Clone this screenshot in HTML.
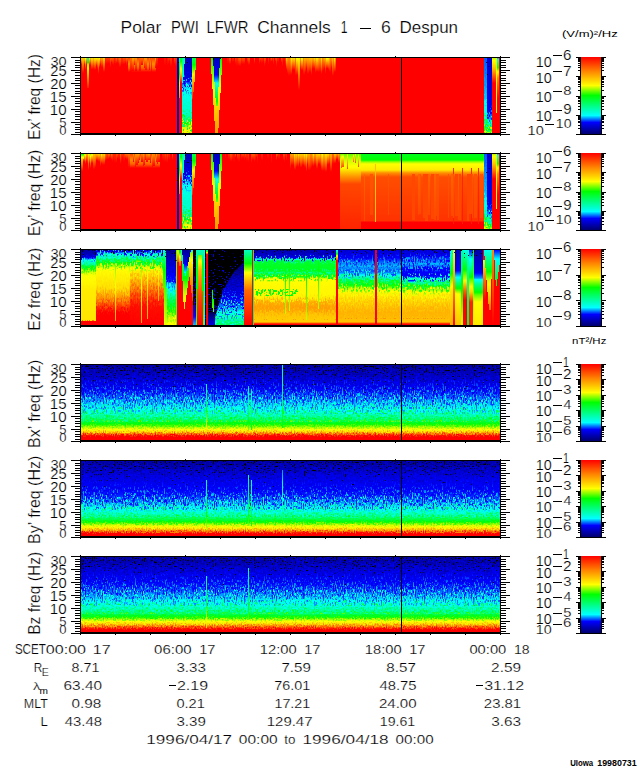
<!DOCTYPE html>
<html><head><meta charset="utf-8"><style>
html,body{margin:0;padding:0;background:#fff;}
body{width:640px;height:768px;overflow:hidden;position:relative;}
svg{position:absolute;left:0;top:0;}
text{font-family:"Liberation Sans",sans-serif;fill:#000;stroke:#fff;stroke-width:0.2px;}
</style></head><body>
<svg width="640" height="768" viewBox="0 0 640 768" shape-rendering="crispEdges">
<defs><linearGradient id="b1" x1="0" y1="0" x2="0" y2="1"><stop offset="0.000" stop-color="#ffde00"/><stop offset="0.437" stop-color="#ff8000"/><stop offset="1.000" stop-color="#ff0000"/></linearGradient>
<linearGradient id="b2" x1="0" y1="0" x2="0" y2="1"><stop offset="0.000" stop-color="#ffd000"/><stop offset="0.400" stop-color="#ff8000"/><stop offset="1.000" stop-color="#ff0000"/></linearGradient>
<linearGradient id="b3" x1="0" y1="0" x2="0" y2="1"><stop offset="0.000" stop-color="#ebff00"/><stop offset="0.026" stop-color="#ffff00"/><stop offset="0.526" stop-color="#ff8000"/><stop offset="1.000" stop-color="#ff0000"/></linearGradient>
<linearGradient id="b4" x1="0" y1="0" x2="0" y2="1"><stop offset="0.000" stop-color="#ff9b00"/><stop offset="0.182" stop-color="#ff8000"/><stop offset="1.000" stop-color="#ff0000"/></linearGradient>
<linearGradient id="b5" x1="0" y1="0" x2="0" y2="1"><stop offset="0.000" stop-color="#ffc300"/><stop offset="0.357" stop-color="#ff8000"/><stop offset="1.000" stop-color="#ff0000"/></linearGradient>
<linearGradient id="b6" x1="0" y1="0" x2="0" y2="1"><stop offset="0.000" stop-color="#ffeb00"/><stop offset="0.471" stop-color="#ff8000"/><stop offset="1.000" stop-color="#ff0000"/></linearGradient>
<linearGradient id="b7" x1="0" y1="0" x2="0" y2="1"><stop offset="0.000" stop-color="#fff800"/><stop offset="0.500" stop-color="#ff8000"/><stop offset="1.000" stop-color="#ff0000"/></linearGradient>
<linearGradient id="b8" x1="0" y1="0" x2="0" y2="1"><stop offset="0.000" stop-color="#ffa800"/><stop offset="0.250" stop-color="#ff8000"/><stop offset="1.000" stop-color="#ff0000"/></linearGradient>
<linearGradient id="b9" x1="0" y1="0" x2="0" y2="1"><stop offset="0.000" stop-color="#ff2b00"/><stop offset="1.000" stop-color="#ff0000"/></linearGradient>
<linearGradient id="b10" x1="0" y1="0" x2="0" y2="1"><stop offset="0.000" stop-color="#ff3900"/><stop offset="1.000" stop-color="#ff0000"/></linearGradient>
<linearGradient id="b11" x1="0" y1="0" x2="0" y2="1"><stop offset="0.000" stop-color="#ff6400"/><stop offset="1.000" stop-color="#ff0000"/></linearGradient>
<linearGradient id="b12" x1="0" y1="0" x2="0" y2="1"><stop offset="0.000" stop-color="#ff7200"/><stop offset="1.000" stop-color="#ff0000"/></linearGradient>
<linearGradient id="b13" x1="0" y1="0" x2="0" y2="1"><stop offset="0.000" stop-color="#ff5500"/><stop offset="1.000" stop-color="#ff0000"/></linearGradient>
<linearGradient id="b14" x1="0" y1="0" x2="0" y2="1"><stop offset="0.000" stop-color="#ff4700"/><stop offset="1.000" stop-color="#ff0000"/></linearGradient>
<linearGradient id="g15" gradientUnits="userSpaceOnUse" x1="0" y1="58" x2="0" y2="72"><stop offset="0.0000" stop-color="#ff4700"/><stop offset="0.3429" stop-color="#ff8000"/><stop offset="0.4286" stop-color="#ff8d00"/><stop offset="0.5238" stop-color="#ff8000"/><stop offset="0.7143" stop-color="#ff6400"/><stop offset="1.0000" stop-color="#ff0000"/></linearGradient>
<linearGradient id="b16" x1="0" y1="0" x2="0" y2="1"><stop offset="0.000" stop-color="#ff8d00"/><stop offset="0.100" stop-color="#ff8000"/><stop offset="1.000" stop-color="#ff0000"/></linearGradient>
<linearGradient id="b17" x1="0" y1="0" x2="0" y2="1"><stop offset="0.000" stop-color="#ff8000"/><stop offset="1.000" stop-color="#ff0000"/></linearGradient>
<linearGradient id="b18" x1="0" y1="0" x2="0" y2="1"><stop offset="0.000" stop-color="#ff1c00"/><stop offset="1.000" stop-color="#ff0000"/></linearGradient>
<linearGradient id="b19" x1="0" y1="0" x2="0" y2="1"><stop offset="0.000" stop-color="#00ffc4"/><stop offset="0.769" stop-color="#00ff00"/><stop offset="1.000" stop-color="#76ff00"/></linearGradient>
<linearGradient id="b20" x1="0" y1="0" x2="0" y2="1"><stop offset="0.000" stop-color="#76ff00"/><stop offset="0.175" stop-color="#ffff00"/><stop offset="0.650" stop-color="#ff8000"/><stop offset="1.000" stop-color="#ff1c00"/></linearGradient>
<linearGradient id="a21" gradientUnits="userSpaceOnUse" x1="0" y1="58" x2="0" y2="133"><stop offset="0" stop-color="#000" stop-opacity="1"/><stop offset="1" stop-color="#000" stop-opacity="0"/></linearGradient>
<filter id="f22" x="0" y="0" width="1" height="1" color-interpolation-filters="sRGB"><feTurbulence type="fractalNoise" baseFrequency="0.9 0.5" numOctaves="1" seed="80" result="t"/><feColorMatrix in="t" type="matrix" values="0 0 0 0 0  0 0 0 0 0  0 0 0 0 0  1 0 0 0 0" result="n"/><feComposite in="n" in2="SourceAlpha" operator="arithmetic" k1="0" k2="40" k3="4" k4="-32" result="m"/><feFlood flood-color="#000"/><feComposite in2="m" operator="in"/></filter>
<linearGradient id="g23" gradientUnits="userSpaceOnUse" x1="0" y1="58" x2="0" y2="133"><stop offset="0.0000" stop-color="#00ff31"/><stop offset="0.0400" stop-color="#00ff00"/><stop offset="0.1440" stop-color="#ffff00"/><stop offset="0.2000" stop-color="#ffd000"/><stop offset="0.2533" stop-color="#ff8000"/><stop offset="0.3333" stop-color="#ff0000"/></linearGradient>
<linearGradient id="b24" x1="0" y1="0" x2="0" y2="1"><stop offset="0.000" stop-color="#00ffc4"/><stop offset="0.400" stop-color="#00ff00"/><stop offset="0.660" stop-color="#ffff00"/><stop offset="1.000" stop-color="#ff8d00"/></linearGradient>
<linearGradient id="g25" gradientUnits="userSpaceOnUse" x1="0" y1="58" x2="0" y2="133"><stop offset="0.0000" stop-color="#0000bb"/><stop offset="0.2667" stop-color="#0000e2"/><stop offset="0.3017" stop-color="#0000ff"/><stop offset="0.3600" stop-color="#008eff"/><stop offset="0.4222" stop-color="#00ffff"/><stop offset="0.4533" stop-color="#00ffeb"/><stop offset="0.7333" stop-color="#00ffc4"/><stop offset="0.8533" stop-color="#00ff31"/><stop offset="0.8756" stop-color="#00ff00"/><stop offset="0.9200" stop-color="#c4ff00"/><stop offset="0.9600" stop-color="#ffff00"/><stop offset="1.0000" stop-color="#ffeb00"/></linearGradient>
<linearGradient id="g26" gradientUnits="userSpaceOnUse" x1="0" y1="51" x2="0" y2="126"><stop offset="0.0000" stop-color="#0000bb"/><stop offset="0.2667" stop-color="#0000e2"/><stop offset="0.3017" stop-color="#0000ff"/><stop offset="0.3600" stop-color="#008eff"/><stop offset="0.4222" stop-color="#00ffff"/><stop offset="0.4533" stop-color="#00ffeb"/><stop offset="0.7333" stop-color="#00ffc4"/><stop offset="0.8533" stop-color="#00ff31"/><stop offset="0.8756" stop-color="#00ff00"/><stop offset="0.9200" stop-color="#c4ff00"/><stop offset="0.9600" stop-color="#ffff00"/><stop offset="1.0000" stop-color="#ffeb00"/></linearGradient>
<filter id="f27" x="0" y="0" width="1" height="1" color-interpolation-filters="sRGB"><feTurbulence type="fractalNoise" baseFrequency="0.9 0.4" numOctaves="1" seed="81" result="t"/><feColorMatrix in="t" type="matrix" values="0 0 0 0 0  0 0 0 0 0  0 0 0 0 0  40 0 0 0 -22.0205" result="m"/><feComposite in="SourceGraphic" in2="m" operator="in"/></filter>
<linearGradient id="g28" gradientUnits="userSpaceOnUse" x1="0" y1="65" x2="0" y2="140"><stop offset="0.0000" stop-color="#0000bb"/><stop offset="0.2667" stop-color="#0000e2"/><stop offset="0.3017" stop-color="#0000ff"/><stop offset="0.3600" stop-color="#008eff"/><stop offset="0.4222" stop-color="#00ffff"/><stop offset="0.4533" stop-color="#00ffeb"/><stop offset="0.7333" stop-color="#00ffc4"/><stop offset="0.8533" stop-color="#00ff31"/><stop offset="0.8756" stop-color="#00ff00"/><stop offset="0.9200" stop-color="#c4ff00"/><stop offset="0.9600" stop-color="#ffff00"/><stop offset="1.0000" stop-color="#ffeb00"/></linearGradient>
<filter id="f29" x="0" y="0" width="1" height="1" color-interpolation-filters="sRGB"><feTurbulence type="fractalNoise" baseFrequency="0.9 0.4" numOctaves="1" seed="82" result="t"/><feColorMatrix in="t" type="matrix" values="0 0 0 0 0  0 0 0 0 0  0 0 0 0 0  40 0 0 0 -22.0205" result="m"/><feComposite in="SourceGraphic" in2="m" operator="in"/></filter>
<linearGradient id="a30" gradientUnits="userSpaceOnUse" x1="0" y1="58" x2="0" y2="80"><stop offset="0" stop-color="#000" stop-opacity="1"/><stop offset="1" stop-color="#000" stop-opacity="0"/></linearGradient>
<filter id="f31" x="0" y="0" width="1" height="1" color-interpolation-filters="sRGB"><feTurbulence type="fractalNoise" baseFrequency="0.9 0.5" numOctaves="1" seed="83" result="t"/><feColorMatrix in="t" type="matrix" values="0 0 0 0 0  0 0 0 0 0  0 0 0 0 0  1 0 0 0 0" result="n"/><feComposite in="n" in2="SourceAlpha" operator="arithmetic" k1="0" k2="40" k3="6" k4="-32" result="m"/><feFlood flood-color="#000"/><feComposite in2="m" operator="in"/></filter>
<linearGradient id="g32" gradientUnits="userSpaceOnUse" x1="0" y1="58" x2="0" y2="83"><stop offset="0.0000" stop-color="#00ff93"/><stop offset="1.0000" stop-color="#00ffd8"/></linearGradient>
<linearGradient id="g33" gradientUnits="userSpaceOnUse" x1="0" y1="58" x2="0" y2="103"><stop offset="0.0000" stop-color="#00ff4e"/><stop offset="0.1524" stop-color="#00ff00"/><stop offset="0.2667" stop-color="#76ff00"/><stop offset="0.3704" stop-color="#ffff00"/><stop offset="0.6222" stop-color="#ff8d00"/><stop offset="0.6600" stop-color="#ff8000"/><stop offset="1.0000" stop-color="#ff0000"/></linearGradient>
<linearGradient id="g34" gradientUnits="userSpaceOnUse" x1="0" y1="58" x2="0" y2="133"><stop offset="0.0000" stop-color="#00ff00"/><stop offset="0.4000" stop-color="#ebff00"/><stop offset="0.4333" stop-color="#ffff00"/><stop offset="0.6667" stop-color="#ffd000"/><stop offset="1.0000" stop-color="#ff9b00"/></linearGradient>
<linearGradient id="g36" gradientUnits="userSpaceOnUse" x1="0" y1="58" x2="0" y2="106"><stop offset="0.0000" stop-color="#0000bb"/><stop offset="0.3333" stop-color="#0000f5"/><stop offset="0.3523" stop-color="#0000ff"/><stop offset="0.5227" stop-color="#00ffff"/><stop offset="0.5417" stop-color="#00fff5"/><stop offset="0.7500" stop-color="#00ff62"/><stop offset="0.9062" stop-color="#00ff00"/><stop offset="1.0000" stop-color="#76ff00"/></linearGradient>
<linearGradient id="a37" gradientUnits="userSpaceOnUse" x1="0" y1="58" x2="0" y2="73"><stop offset="0" stop-color="#000" stop-opacity="1"/><stop offset="1" stop-color="#000" stop-opacity="0"/></linearGradient>
<filter id="f38" x="0" y="0" width="1" height="1" color-interpolation-filters="sRGB"><feTurbulence type="fractalNoise" baseFrequency="0.9 0.5" numOctaves="1" seed="84" result="t"/><feColorMatrix in="t" type="matrix" values="0 0 0 0 0  0 0 0 0 0  0 0 0 0 0  1 0 0 0 0" result="n"/><feComposite in="n" in2="SourceAlpha" operator="arithmetic" k1="0" k2="40" k3="4.8" k4="-32" result="m"/><feFlood flood-color="#000"/><feComposite in2="m" operator="in"/></filter>
<linearGradient id="b39" x1="0" y1="0" x2="0" y2="1"><stop offset="0.000" stop-color="#ffb500"/><stop offset="0.308" stop-color="#ff8000"/><stop offset="1.000" stop-color="#ff0000"/></linearGradient>
<linearGradient id="g40" gradientUnits="userSpaceOnUse" x1="0" y1="58" x2="0" y2="133"><stop offset="0.0000" stop-color="#0055ff"/><stop offset="0.5333" stop-color="#00c6ff"/><stop offset="0.5933" stop-color="#00ffff"/><stop offset="0.7733" stop-color="#00ffc4"/><stop offset="0.8800" stop-color="#00ff31"/><stop offset="0.9153" stop-color="#00ff00"/><stop offset="1.0000" stop-color="#ebff00"/></linearGradient>
<linearGradient id="g41" gradientUnits="userSpaceOnUse" x1="0" y1="53" x2="0" y2="128"><stop offset="0.0000" stop-color="#0055ff"/><stop offset="0.5333" stop-color="#00c6ff"/><stop offset="0.5933" stop-color="#00ffff"/><stop offset="0.7733" stop-color="#00ffc4"/><stop offset="0.8800" stop-color="#00ff31"/><stop offset="0.9153" stop-color="#00ff00"/><stop offset="1.0000" stop-color="#ebff00"/></linearGradient>
<filter id="f42" x="0" y="0" width="1" height="1" color-interpolation-filters="sRGB"><feTurbulence type="fractalNoise" baseFrequency="0.9 0.4" numOctaves="1" seed="60" result="t"/><feColorMatrix in="t" type="matrix" values="0 0 0 0 0  0 0 0 0 0  0 0 0 0 0  40 0 0 0 -22.2654" result="m"/><feComposite in="SourceGraphic" in2="m" operator="in"/></filter>
<linearGradient id="g43" gradientUnits="userSpaceOnUse" x1="0" y1="63" x2="0" y2="138"><stop offset="0.0000" stop-color="#0055ff"/><stop offset="0.5333" stop-color="#00c6ff"/><stop offset="0.5933" stop-color="#00ffff"/><stop offset="0.7733" stop-color="#00ffc4"/><stop offset="0.8800" stop-color="#00ff31"/><stop offset="0.9153" stop-color="#00ff00"/><stop offset="1.0000" stop-color="#ebff00"/></linearGradient>
<filter id="f44" x="0" y="0" width="1" height="1" color-interpolation-filters="sRGB"><feTurbulence type="fractalNoise" baseFrequency="0.9 0.4" numOctaves="1" seed="61" result="t"/><feColorMatrix in="t" type="matrix" values="0 0 0 0 0  0 0 0 0 0  0 0 0 0 0  40 0 0 0 -22.2654" result="m"/><feComposite in="SourceGraphic" in2="m" operator="in"/></filter>
<linearGradient id="g45" gradientUnits="userSpaceOnUse" x1="0" y1="58" x2="0" y2="133"><stop offset="0.0000" stop-color="#0000cf"/><stop offset="0.6667" stop-color="#0000ec"/><stop offset="0.7022" stop-color="#0000ff"/><stop offset="0.8267" stop-color="#00c6ff"/><stop offset="0.8359" stop-color="#00ffff"/><stop offset="0.9333" stop-color="#00ff31"/><stop offset="0.9556" stop-color="#00ff00"/><stop offset="1.0000" stop-color="#c4ff00"/></linearGradient>
<linearGradient id="g46" gradientUnits="userSpaceOnUse" x1="0" y1="52" x2="0" y2="127"><stop offset="0.0000" stop-color="#0000cf"/><stop offset="0.6667" stop-color="#0000ec"/><stop offset="0.7022" stop-color="#0000ff"/><stop offset="0.8267" stop-color="#00c6ff"/><stop offset="0.8359" stop-color="#00ffff"/><stop offset="0.9333" stop-color="#00ff31"/><stop offset="0.9556" stop-color="#00ff00"/><stop offset="1.0000" stop-color="#c4ff00"/></linearGradient>
<filter id="f47" x="0" y="0" width="1" height="1" color-interpolation-filters="sRGB"><feTurbulence type="fractalNoise" baseFrequency="0.9 0.4" numOctaves="1" seed="62" result="t"/><feColorMatrix in="t" type="matrix" values="0 0 0 0 0  0 0 0 0 0  0 0 0 0 0  40 0 0 0 -22.2654" result="m"/><feComposite in="SourceGraphic" in2="m" operator="in"/></filter>
<linearGradient id="g48" gradientUnits="userSpaceOnUse" x1="0" y1="64" x2="0" y2="139"><stop offset="0.0000" stop-color="#0000cf"/><stop offset="0.6667" stop-color="#0000ec"/><stop offset="0.7022" stop-color="#0000ff"/><stop offset="0.8267" stop-color="#00c6ff"/><stop offset="0.8359" stop-color="#00ffff"/><stop offset="0.9333" stop-color="#00ff31"/><stop offset="0.9556" stop-color="#00ff00"/><stop offset="1.0000" stop-color="#c4ff00"/></linearGradient>
<filter id="f49" x="0" y="0" width="1" height="1" color-interpolation-filters="sRGB"><feTurbulence type="fractalNoise" baseFrequency="0.9 0.4" numOctaves="1" seed="63" result="t"/><feColorMatrix in="t" type="matrix" values="0 0 0 0 0  0 0 0 0 0  0 0 0 0 0  40 0 0 0 -22.2654" result="m"/><feComposite in="SourceGraphic" in2="m" operator="in"/></filter>
<linearGradient id="a50" gradientUnits="userSpaceOnUse" x1="0" y1="58" x2="0" y2="133"><stop offset="0" stop-color="#000" stop-opacity="1"/><stop offset="1" stop-color="#000" stop-opacity="0"/></linearGradient>
<filter id="f51" x="0" y="0" width="1" height="1" color-interpolation-filters="sRGB"><feTurbulence type="fractalNoise" baseFrequency="0.9 0.5" numOctaves="1" seed="64" result="t"/><feColorMatrix in="t" type="matrix" values="0 0 0 0 0  0 0 0 0 0  0 0 0 0 0  1 0 0 0 0" result="n"/><feComposite in="n" in2="SourceAlpha" operator="arithmetic" k1="0" k2="40" k3="4" k4="-32" result="m"/><feFlood flood-color="#000"/><feComposite in2="m" operator="in"/></filter>
<linearGradient id="g52" gradientUnits="userSpaceOnUse" x1="0" y1="58" x2="0" y2="133"><stop offset="0.0000" stop-color="#c4ff00"/><stop offset="0.0333" stop-color="#ffff00"/><stop offset="0.1333" stop-color="#ffc300"/><stop offset="0.2048" stop-color="#ff8000"/><stop offset="0.3333" stop-color="#ff0000"/></linearGradient>
<linearGradient id="g53" gradientUnits="userSpaceOnUse" x1="0" y1="58" x2="0" y2="133"><stop offset="0.0000" stop-color="#008eff"/><stop offset="0.0171" stop-color="#00ffff"/><stop offset="0.1067" stop-color="#00ff31"/><stop offset="0.1295" stop-color="#00ff00"/><stop offset="0.1890" stop-color="#ffff00"/><stop offset="0.2667" stop-color="#ff8d00"/><stop offset="0.2933" stop-color="#ff8000"/><stop offset="0.5333" stop-color="#ff0000"/></linearGradient>
<linearGradient id="b54" x1="0" y1="0" x2="0" y2="1"><stop offset="0.000" stop-color="#c4ff00"/><stop offset="0.075" stop-color="#ffff00"/><stop offset="0.550" stop-color="#ff8000"/><stop offset="1.000" stop-color="#ff0000"/></linearGradient>
<linearGradient id="b55" x1="0" y1="0" x2="0" y2="1"><stop offset="0.000" stop-color="#9dff00"/><stop offset="0.119" stop-color="#ffff00"/><stop offset="0.571" stop-color="#ff8000"/><stop offset="1.000" stop-color="#ff0000"/></linearGradient>
<linearGradient id="b56" x1="0" y1="0" x2="0" y2="1"><stop offset="0.000" stop-color="#76ff00"/><stop offset="0.159" stop-color="#ffff00"/><stop offset="0.591" stop-color="#ff8000"/><stop offset="1.000" stop-color="#ff0000"/></linearGradient>
<linearGradient id="b57" x1="0" y1="0" x2="0" y2="1"><stop offset="0.000" stop-color="#00ff00"/><stop offset="0.650" stop-color="#ffff00"/><stop offset="1.000" stop-color="#ffd000"/></linearGradient>
<linearGradient id="g58" gradientUnits="userSpaceOnUse" x1="0" y1="154" x2="0" y2="168"><stop offset="0.0000" stop-color="#ff4700"/><stop offset="0.3429" stop-color="#ff8000"/><stop offset="0.4286" stop-color="#ff8d00"/><stop offset="0.5238" stop-color="#ff8000"/><stop offset="0.7143" stop-color="#ff6400"/><stop offset="1.0000" stop-color="#ff0000"/></linearGradient>
<linearGradient id="a59" gradientUnits="userSpaceOnUse" x1="0" y1="154" x2="0" y2="229"><stop offset="0" stop-color="#000" stop-opacity="1"/><stop offset="1" stop-color="#000" stop-opacity="0"/></linearGradient>
<filter id="f60" x="0" y="0" width="1" height="1" color-interpolation-filters="sRGB"><feTurbulence type="fractalNoise" baseFrequency="0.9 0.5" numOctaves="1" seed="90" result="t"/><feColorMatrix in="t" type="matrix" values="0 0 0 0 0  0 0 0 0 0  0 0 0 0 0  1 0 0 0 0" result="n"/><feComposite in="n" in2="SourceAlpha" operator="arithmetic" k1="0" k2="40" k3="4" k4="-32" result="m"/><feFlood flood-color="#000"/><feComposite in2="m" operator="in"/></filter>
<linearGradient id="g61" gradientUnits="userSpaceOnUse" x1="0" y1="154" x2="0" y2="229"><stop offset="0.0000" stop-color="#00ff31"/><stop offset="0.0400" stop-color="#00ff00"/><stop offset="0.1440" stop-color="#ffff00"/><stop offset="0.2000" stop-color="#ffd000"/><stop offset="0.2533" stop-color="#ff8000"/><stop offset="0.3333" stop-color="#ff0000"/></linearGradient>
<linearGradient id="g62" gradientUnits="userSpaceOnUse" x1="0" y1="154" x2="0" y2="229"><stop offset="0.0000" stop-color="#0000bb"/><stop offset="0.2667" stop-color="#0000e2"/><stop offset="0.3017" stop-color="#0000ff"/><stop offset="0.3600" stop-color="#008eff"/><stop offset="0.4222" stop-color="#00ffff"/><stop offset="0.4533" stop-color="#00ffeb"/><stop offset="0.7333" stop-color="#00ffc4"/><stop offset="0.8533" stop-color="#00ff31"/><stop offset="0.8756" stop-color="#00ff00"/><stop offset="0.9200" stop-color="#c4ff00"/><stop offset="0.9600" stop-color="#ffff00"/><stop offset="1.0000" stop-color="#ffeb00"/></linearGradient>
<linearGradient id="g63" gradientUnits="userSpaceOnUse" x1="0" y1="147" x2="0" y2="222"><stop offset="0.0000" stop-color="#0000bb"/><stop offset="0.2667" stop-color="#0000e2"/><stop offset="0.3017" stop-color="#0000ff"/><stop offset="0.3600" stop-color="#008eff"/><stop offset="0.4222" stop-color="#00ffff"/><stop offset="0.4533" stop-color="#00ffeb"/><stop offset="0.7333" stop-color="#00ffc4"/><stop offset="0.8533" stop-color="#00ff31"/><stop offset="0.8756" stop-color="#00ff00"/><stop offset="0.9200" stop-color="#c4ff00"/><stop offset="0.9600" stop-color="#ffff00"/><stop offset="1.0000" stop-color="#ffeb00"/></linearGradient>
<filter id="f64" x="0" y="0" width="1" height="1" color-interpolation-filters="sRGB"><feTurbulence type="fractalNoise" baseFrequency="0.9 0.4" numOctaves="1" seed="91" result="t"/><feColorMatrix in="t" type="matrix" values="0 0 0 0 0  0 0 0 0 0  0 0 0 0 0  40 0 0 0 -22.0205" result="m"/><feComposite in="SourceGraphic" in2="m" operator="in"/></filter>
<linearGradient id="g65" gradientUnits="userSpaceOnUse" x1="0" y1="161" x2="0" y2="236"><stop offset="0.0000" stop-color="#0000bb"/><stop offset="0.2667" stop-color="#0000e2"/><stop offset="0.3017" stop-color="#0000ff"/><stop offset="0.3600" stop-color="#008eff"/><stop offset="0.4222" stop-color="#00ffff"/><stop offset="0.4533" stop-color="#00ffeb"/><stop offset="0.7333" stop-color="#00ffc4"/><stop offset="0.8533" stop-color="#00ff31"/><stop offset="0.8756" stop-color="#00ff00"/><stop offset="0.9200" stop-color="#c4ff00"/><stop offset="0.9600" stop-color="#ffff00"/><stop offset="1.0000" stop-color="#ffeb00"/></linearGradient>
<filter id="f66" x="0" y="0" width="1" height="1" color-interpolation-filters="sRGB"><feTurbulence type="fractalNoise" baseFrequency="0.9 0.4" numOctaves="1" seed="92" result="t"/><feColorMatrix in="t" type="matrix" values="0 0 0 0 0  0 0 0 0 0  0 0 0 0 0  40 0 0 0 -22.0205" result="m"/><feComposite in="SourceGraphic" in2="m" operator="in"/></filter>
<linearGradient id="a67" gradientUnits="userSpaceOnUse" x1="0" y1="154" x2="0" y2="176"><stop offset="0" stop-color="#000" stop-opacity="1"/><stop offset="1" stop-color="#000" stop-opacity="0"/></linearGradient>
<filter id="f68" x="0" y="0" width="1" height="1" color-interpolation-filters="sRGB"><feTurbulence type="fractalNoise" baseFrequency="0.9 0.5" numOctaves="1" seed="93" result="t"/><feColorMatrix in="t" type="matrix" values="0 0 0 0 0  0 0 0 0 0  0 0 0 0 0  1 0 0 0 0" result="n"/><feComposite in="n" in2="SourceAlpha" operator="arithmetic" k1="0" k2="40" k3="6" k4="-32" result="m"/><feFlood flood-color="#000"/><feComposite in2="m" operator="in"/></filter>
<linearGradient id="g69" gradientUnits="userSpaceOnUse" x1="0" y1="154" x2="0" y2="179"><stop offset="0.0000" stop-color="#00ff93"/><stop offset="1.0000" stop-color="#00ffd8"/></linearGradient>
<linearGradient id="g70" gradientUnits="userSpaceOnUse" x1="0" y1="154" x2="0" y2="199"><stop offset="0.0000" stop-color="#00ff4e"/><stop offset="0.1524" stop-color="#00ff00"/><stop offset="0.2667" stop-color="#76ff00"/><stop offset="0.3704" stop-color="#ffff00"/><stop offset="0.6222" stop-color="#ff8d00"/><stop offset="0.6600" stop-color="#ff8000"/><stop offset="1.0000" stop-color="#ff0000"/></linearGradient>
<linearGradient id="g71" gradientUnits="userSpaceOnUse" x1="0" y1="154" x2="0" y2="229"><stop offset="0.0000" stop-color="#00ff00"/><stop offset="0.4000" stop-color="#ebff00"/><stop offset="0.4333" stop-color="#ffff00"/><stop offset="0.6667" stop-color="#ffd000"/><stop offset="1.0000" stop-color="#ff9b00"/></linearGradient>
<linearGradient id="g73" gradientUnits="userSpaceOnUse" x1="0" y1="154" x2="0" y2="202"><stop offset="0.0000" stop-color="#0000bb"/><stop offset="0.3333" stop-color="#0000f5"/><stop offset="0.3523" stop-color="#0000ff"/><stop offset="0.5227" stop-color="#00ffff"/><stop offset="0.5417" stop-color="#00fff5"/><stop offset="0.7500" stop-color="#00ff62"/><stop offset="0.9062" stop-color="#00ff00"/><stop offset="1.0000" stop-color="#76ff00"/></linearGradient>
<linearGradient id="a74" gradientUnits="userSpaceOnUse" x1="0" y1="154" x2="0" y2="169"><stop offset="0" stop-color="#000" stop-opacity="1"/><stop offset="1" stop-color="#000" stop-opacity="0"/></linearGradient>
<filter id="f75" x="0" y="0" width="1" height="1" color-interpolation-filters="sRGB"><feTurbulence type="fractalNoise" baseFrequency="0.9 0.5" numOctaves="1" seed="94" result="t"/><feColorMatrix in="t" type="matrix" values="0 0 0 0 0  0 0 0 0 0  0 0 0 0 0  1 0 0 0 0" result="n"/><feComposite in="n" in2="SourceAlpha" operator="arithmetic" k1="0" k2="40" k3="4.8" k4="-32" result="m"/><feFlood flood-color="#000"/><feComposite in2="m" operator="in"/></filter>
<linearGradient id="g76" gradientUnits="userSpaceOnUse" x1="0" y1="154" x2="0" y2="229"><stop offset="0.0000" stop-color="#62ff00"/><stop offset="0.0800" stop-color="#c4ff00"/><stop offset="0.1600" stop-color="#ffff00"/><stop offset="0.1867" stop-color="#fff800"/><stop offset="0.2933" stop-color="#ff9b00"/><stop offset="0.3289" stop-color="#ff8000"/><stop offset="0.4000" stop-color="#ff4700"/><stop offset="1.0000" stop-color="#ff2400"/></linearGradient>
<linearGradient id="b77" x1="0" y1="0" x2="0" y2="1"><stop offset="0.000" stop-color="#76ff00"/><stop offset="0.206" stop-color="#ffff00"/><stop offset="0.765" stop-color="#ff8000"/><stop offset="1.000" stop-color="#ff4700"/></linearGradient>
<linearGradient id="b78" x1="0" y1="0" x2="0" y2="1"><stop offset="0.000" stop-color="#c4ff00"/><stop offset="0.100" stop-color="#ffff00"/><stop offset="0.733" stop-color="#ff8000"/><stop offset="1.000" stop-color="#ff4700"/></linearGradient>
<linearGradient id="b79" x1="0" y1="0" x2="0" y2="1"><stop offset="0.000" stop-color="#ebff00"/><stop offset="0.036" stop-color="#ffff00"/><stop offset="0.714" stop-color="#ff8000"/><stop offset="1.000" stop-color="#ff4700"/></linearGradient>
<linearGradient id="b80" x1="0" y1="0" x2="0" y2="1"><stop offset="0.000" stop-color="#9dff00"/><stop offset="0.156" stop-color="#ffff00"/><stop offset="0.750" stop-color="#ff8000"/><stop offset="1.000" stop-color="#ff4700"/></linearGradient>
<linearGradient id="g81" gradientUnits="userSpaceOnUse" x1="0" y1="154" x2="0" y2="229"><stop offset="0.0000" stop-color="#00ff1d"/><stop offset="0.0800" stop-color="#00ff00"/><stop offset="0.1067" stop-color="#9dff00"/><stop offset="0.1333" stop-color="#ffff00"/><stop offset="0.2133" stop-color="#ffeb00"/><stop offset="0.2533" stop-color="#ff8d00"/><stop offset="0.2652" stop-color="#ff8000"/><stop offset="0.3067" stop-color="#ff4e00"/><stop offset="0.6000" stop-color="#ff4000"/><stop offset="0.8933" stop-color="#ff3200"/><stop offset="0.9067" stop-color="#ff0000"/></linearGradient>
<linearGradient id="b82" x1="0" y1="0" x2="0" y2="1"><stop offset="0.000" stop-color="#ff2b00"/><stop offset="1.000" stop-color="#ff1c00"/></linearGradient>
<linearGradient id="b83" x1="0" y1="0" x2="0" y2="1"><stop offset="0.000" stop-color="#ff6400"/><stop offset="1.000" stop-color="#ff4700"/></linearGradient>
<linearGradient id="b84" x1="0" y1="0" x2="0" y2="1"><stop offset="0.000" stop-color="#ff5500"/><stop offset="1.000" stop-color="#ff4700"/></linearGradient>
<linearGradient id="b85" x1="0" y1="0" x2="0" y2="1"><stop offset="0.000" stop-color="#ff4700"/><stop offset="1.000" stop-color="#ff4700"/></linearGradient>
<linearGradient id="g86" gradientUnits="userSpaceOnUse" x1="0" y1="154" x2="0" y2="229"><stop offset="0.0000" stop-color="#0055ff"/><stop offset="0.5333" stop-color="#00c6ff"/><stop offset="0.5933" stop-color="#00ffff"/><stop offset="0.7733" stop-color="#00ffc4"/><stop offset="0.8800" stop-color="#00ff31"/><stop offset="0.9153" stop-color="#00ff00"/><stop offset="1.0000" stop-color="#ebff00"/></linearGradient>
<linearGradient id="g87" gradientUnits="userSpaceOnUse" x1="0" y1="149" x2="0" y2="224"><stop offset="0.0000" stop-color="#0055ff"/><stop offset="0.5333" stop-color="#00c6ff"/><stop offset="0.5933" stop-color="#00ffff"/><stop offset="0.7733" stop-color="#00ffc4"/><stop offset="0.8800" stop-color="#00ff31"/><stop offset="0.9153" stop-color="#00ff00"/><stop offset="1.0000" stop-color="#ebff00"/></linearGradient>
<filter id="f88" x="0" y="0" width="1" height="1" color-interpolation-filters="sRGB"><feTurbulence type="fractalNoise" baseFrequency="0.9 0.4" numOctaves="1" seed="70" result="t"/><feColorMatrix in="t" type="matrix" values="0 0 0 0 0  0 0 0 0 0  0 0 0 0 0  40 0 0 0 -22.2654" result="m"/><feComposite in="SourceGraphic" in2="m" operator="in"/></filter>
<linearGradient id="g89" gradientUnits="userSpaceOnUse" x1="0" y1="159" x2="0" y2="234"><stop offset="0.0000" stop-color="#0055ff"/><stop offset="0.5333" stop-color="#00c6ff"/><stop offset="0.5933" stop-color="#00ffff"/><stop offset="0.7733" stop-color="#00ffc4"/><stop offset="0.8800" stop-color="#00ff31"/><stop offset="0.9153" stop-color="#00ff00"/><stop offset="1.0000" stop-color="#ebff00"/></linearGradient>
<filter id="f90" x="0" y="0" width="1" height="1" color-interpolation-filters="sRGB"><feTurbulence type="fractalNoise" baseFrequency="0.9 0.4" numOctaves="1" seed="71" result="t"/><feColorMatrix in="t" type="matrix" values="0 0 0 0 0  0 0 0 0 0  0 0 0 0 0  40 0 0 0 -22.2654" result="m"/><feComposite in="SourceGraphic" in2="m" operator="in"/></filter>
<linearGradient id="g91" gradientUnits="userSpaceOnUse" x1="0" y1="154" x2="0" y2="229"><stop offset="0.0000" stop-color="#0000cf"/><stop offset="0.6667" stop-color="#0000ec"/><stop offset="0.7022" stop-color="#0000ff"/><stop offset="0.8267" stop-color="#00c6ff"/><stop offset="0.8359" stop-color="#00ffff"/><stop offset="0.9333" stop-color="#00ff31"/><stop offset="0.9556" stop-color="#00ff00"/><stop offset="1.0000" stop-color="#c4ff00"/></linearGradient>
<linearGradient id="g92" gradientUnits="userSpaceOnUse" x1="0" y1="148" x2="0" y2="223"><stop offset="0.0000" stop-color="#0000cf"/><stop offset="0.6667" stop-color="#0000ec"/><stop offset="0.7022" stop-color="#0000ff"/><stop offset="0.8267" stop-color="#00c6ff"/><stop offset="0.8359" stop-color="#00ffff"/><stop offset="0.9333" stop-color="#00ff31"/><stop offset="0.9556" stop-color="#00ff00"/><stop offset="1.0000" stop-color="#c4ff00"/></linearGradient>
<filter id="f93" x="0" y="0" width="1" height="1" color-interpolation-filters="sRGB"><feTurbulence type="fractalNoise" baseFrequency="0.9 0.4" numOctaves="1" seed="72" result="t"/><feColorMatrix in="t" type="matrix" values="0 0 0 0 0  0 0 0 0 0  0 0 0 0 0  40 0 0 0 -22.2654" result="m"/><feComposite in="SourceGraphic" in2="m" operator="in"/></filter>
<linearGradient id="g94" gradientUnits="userSpaceOnUse" x1="0" y1="160" x2="0" y2="235"><stop offset="0.0000" stop-color="#0000cf"/><stop offset="0.6667" stop-color="#0000ec"/><stop offset="0.7022" stop-color="#0000ff"/><stop offset="0.8267" stop-color="#00c6ff"/><stop offset="0.8359" stop-color="#00ffff"/><stop offset="0.9333" stop-color="#00ff31"/><stop offset="0.9556" stop-color="#00ff00"/><stop offset="1.0000" stop-color="#c4ff00"/></linearGradient>
<filter id="f95" x="0" y="0" width="1" height="1" color-interpolation-filters="sRGB"><feTurbulence type="fractalNoise" baseFrequency="0.9 0.4" numOctaves="1" seed="73" result="t"/><feColorMatrix in="t" type="matrix" values="0 0 0 0 0  0 0 0 0 0  0 0 0 0 0  40 0 0 0 -22.2654" result="m"/><feComposite in="SourceGraphic" in2="m" operator="in"/></filter>
<linearGradient id="a96" gradientUnits="userSpaceOnUse" x1="0" y1="154" x2="0" y2="229"><stop offset="0" stop-color="#000" stop-opacity="1"/><stop offset="1" stop-color="#000" stop-opacity="0"/></linearGradient>
<filter id="f97" x="0" y="0" width="1" height="1" color-interpolation-filters="sRGB"><feTurbulence type="fractalNoise" baseFrequency="0.9 0.5" numOctaves="1" seed="74" result="t"/><feColorMatrix in="t" type="matrix" values="0 0 0 0 0  0 0 0 0 0  0 0 0 0 0  1 0 0 0 0" result="n"/><feComposite in="n" in2="SourceAlpha" operator="arithmetic" k1="0" k2="40" k3="4" k4="-32" result="m"/><feFlood flood-color="#000"/><feComposite in2="m" operator="in"/></filter>
<linearGradient id="g98" gradientUnits="userSpaceOnUse" x1="0" y1="154" x2="0" y2="229"><stop offset="0.0000" stop-color="#c4ff00"/><stop offset="0.0333" stop-color="#ffff00"/><stop offset="0.1333" stop-color="#ffc300"/><stop offset="0.2048" stop-color="#ff8000"/><stop offset="0.3333" stop-color="#ff0000"/></linearGradient>
<linearGradient id="g99" gradientUnits="userSpaceOnUse" x1="0" y1="154" x2="0" y2="229"><stop offset="0.0000" stop-color="#008eff"/><stop offset="0.0171" stop-color="#00ffff"/><stop offset="0.1067" stop-color="#00ff31"/><stop offset="0.1295" stop-color="#00ff00"/><stop offset="0.1890" stop-color="#ffff00"/><stop offset="0.2667" stop-color="#ff8d00"/><stop offset="0.2933" stop-color="#ff8000"/><stop offset="0.5333" stop-color="#ff0000"/></linearGradient>
<linearGradient id="g100" gradientUnits="userSpaceOnUse" x1="0" y1="250" x2="0" y2="321"><stop offset="0.0000" stop-color="#00009e"/><stop offset="0.0845" stop-color="#0000cf"/><stop offset="0.1056" stop-color="#0000ff"/><stop offset="0.1268" stop-color="#008eff"/><stop offset="0.1455" stop-color="#00ffff"/><stop offset="0.1831" stop-color="#00ffb1"/><stop offset="0.2535" stop-color="#00ff00"/><stop offset="0.3239" stop-color="#ebff00"/><stop offset="0.3838" stop-color="#ffff00"/><stop offset="0.5634" stop-color="#ffeb00"/><stop offset="1.0000" stop-color="#ffe400"/><stop offset="1.0000" stop-color="#ff8000"/><stop offset="1.0000" stop-color="#ff0000"/></linearGradient>
<linearGradient id="g101" gradientUnits="userSpaceOnUse" x1="0" y1="248" x2="0" y2="321"><stop offset="0.0000" stop-color="#00009e"/><stop offset="0.0822" stop-color="#0000cf"/><stop offset="0.1027" stop-color="#0000ff"/><stop offset="0.1233" stop-color="#008eff"/><stop offset="0.1416" stop-color="#00ffff"/><stop offset="0.1781" stop-color="#00ffb1"/><stop offset="0.2466" stop-color="#00ff00"/><stop offset="0.3151" stop-color="#ebff00"/><stop offset="0.3733" stop-color="#ffff00"/><stop offset="0.5479" stop-color="#ffeb00"/><stop offset="0.9863" stop-color="#ffe400"/><stop offset="0.9925" stop-color="#ff8000"/><stop offset="1.0000" stop-color="#ff0000"/></linearGradient>
<filter id="f102" x="0" y="0" width="1" height="1" color-interpolation-filters="sRGB"><feTurbulence type="fractalNoise" baseFrequency="0.9 0.35" numOctaves="1" seed="11" result="t"/><feColorMatrix in="t" type="matrix" values="0 0 0 0 0  0 0 0 0 0  0 0 0 0 0  40 0 0 0 -22.2654" result="m"/><feComposite in="SourceGraphic" in2="m" operator="in"/></filter>
<linearGradient id="g103" gradientUnits="userSpaceOnUse" x1="0" y1="252" x2="0" y2="325"><stop offset="0.0000" stop-color="#00009e"/><stop offset="0.0822" stop-color="#0000cf"/><stop offset="0.1027" stop-color="#0000ff"/><stop offset="0.1233" stop-color="#008eff"/><stop offset="0.1416" stop-color="#00ffff"/><stop offset="0.1781" stop-color="#00ffb1"/><stop offset="0.2466" stop-color="#00ff00"/><stop offset="0.3151" stop-color="#ebff00"/><stop offset="0.3733" stop-color="#ffff00"/><stop offset="0.5479" stop-color="#ffeb00"/><stop offset="0.9863" stop-color="#ffe400"/><stop offset="0.9925" stop-color="#ff8000"/><stop offset="1.0000" stop-color="#ff0000"/></linearGradient>
<filter id="f104" x="0" y="0" width="1" height="1" color-interpolation-filters="sRGB"><feTurbulence type="fractalNoise" baseFrequency="0.9 0.35" numOctaves="1" seed="12" result="t"/><feColorMatrix in="t" type="matrix" values="0 0 0 0 0  0 0 0 0 0  0 0 0 0 0  40 0 0 0 -22.2654" result="m"/><feComposite in="SourceGraphic" in2="m" operator="in"/></filter>
<linearGradient id="g105" gradientUnits="userSpaceOnUse" x1="0" y1="250" x2="0" y2="325"><stop offset="0.0000" stop-color="#0000cf"/><stop offset="0.0200" stop-color="#0000ff"/><stop offset="0.0400" stop-color="#008eff"/><stop offset="0.0560" stop-color="#00ffff"/><stop offset="0.0800" stop-color="#00ffc4"/><stop offset="0.1333" stop-color="#00ff4e"/><stop offset="0.1760" stop-color="#00ff00"/><stop offset="0.1867" stop-color="#27ff00"/><stop offset="0.2400" stop-color="#ffff00"/><stop offset="0.5067" stop-color="#ffde00"/><stop offset="0.6400" stop-color="#ff8d00"/><stop offset="0.6578" stop-color="#ff8000"/><stop offset="0.7733" stop-color="#ff2400"/><stop offset="0.8267" stop-color="#ff0000"/></linearGradient>
<linearGradient id="g106" gradientUnits="userSpaceOnUse" x1="0" y1="247" x2="0" y2="309"><stop offset="0.0000" stop-color="#0000cf"/><stop offset="0.0242" stop-color="#0000ff"/><stop offset="0.0484" stop-color="#008eff"/><stop offset="0.0677" stop-color="#00ffff"/><stop offset="0.0968" stop-color="#00ffc4"/><stop offset="0.1613" stop-color="#00ff4e"/><stop offset="0.2129" stop-color="#00ff00"/><stop offset="0.2258" stop-color="#27ff00"/><stop offset="0.2903" stop-color="#ffff00"/><stop offset="0.6129" stop-color="#ffde00"/><stop offset="0.7742" stop-color="#ff8d00"/><stop offset="0.7957" stop-color="#ff8000"/><stop offset="0.9355" stop-color="#ff2400"/><stop offset="1.0000" stop-color="#ff0000"/></linearGradient>
<filter id="f107" x="0" y="0" width="1" height="1" color-interpolation-filters="sRGB"><feTurbulence type="fractalNoise" baseFrequency="0.9 0.3" numOctaves="1" seed="13" result="t"/><feColorMatrix in="t" type="matrix" values="0 0 0 0 0  0 0 0 0 0  0 0 0 0 0  40 0 0 0 -22.2654" result="m"/><feComposite in="SourceGraphic" in2="m" operator="in"/></filter>
<linearGradient id="g108" gradientUnits="userSpaceOnUse" x1="0" y1="253" x2="0" y2="315"><stop offset="0.0000" stop-color="#0000cf"/><stop offset="0.0242" stop-color="#0000ff"/><stop offset="0.0484" stop-color="#008eff"/><stop offset="0.0677" stop-color="#00ffff"/><stop offset="0.0968" stop-color="#00ffc4"/><stop offset="0.1613" stop-color="#00ff4e"/><stop offset="0.2129" stop-color="#00ff00"/><stop offset="0.2258" stop-color="#27ff00"/><stop offset="0.2903" stop-color="#ffff00"/><stop offset="0.6129" stop-color="#ffde00"/><stop offset="0.7742" stop-color="#ff8d00"/><stop offset="0.7957" stop-color="#ff8000"/><stop offset="0.9355" stop-color="#ff2400"/><stop offset="1.0000" stop-color="#ff0000"/></linearGradient>
<filter id="f109" x="0" y="0" width="1" height="1" color-interpolation-filters="sRGB"><feTurbulence type="fractalNoise" baseFrequency="0.9 0.3" numOctaves="1" seed="14" result="t"/><feColorMatrix in="t" type="matrix" values="0 0 0 0 0  0 0 0 0 0  0 0 0 0 0  40 0 0 0 -22.2654" result="m"/><feComposite in="SourceGraphic" in2="m" operator="in"/></filter>
<linearGradient id="g110" gradientUnits="userSpaceOnUse" x1="0" y1="250" x2="0" y2="325"><stop offset="0.0000" stop-color="#0000e2"/><stop offset="0.0150" stop-color="#0000ff"/><stop offset="0.0400" stop-color="#008eff"/><stop offset="0.0560" stop-color="#00ffff"/><stop offset="0.0800" stop-color="#00ffc4"/><stop offset="0.1333" stop-color="#00ff4e"/><stop offset="0.1760" stop-color="#00ff00"/><stop offset="0.1867" stop-color="#27ff00"/><stop offset="0.2400" stop-color="#ffff00"/><stop offset="0.4000" stop-color="#ffb500"/><stop offset="0.5000" stop-color="#ff8000"/><stop offset="0.6000" stop-color="#ff4700"/><stop offset="0.7333" stop-color="#ff0e00"/><stop offset="1.0000" stop-color="#ff0000"/></linearGradient>
<linearGradient id="g111" gradientUnits="userSpaceOnUse" x1="0" y1="246" x2="0" y2="321"><stop offset="0.0000" stop-color="#0000e2"/><stop offset="0.0150" stop-color="#0000ff"/><stop offset="0.0400" stop-color="#008eff"/><stop offset="0.0560" stop-color="#00ffff"/><stop offset="0.0800" stop-color="#00ffc4"/><stop offset="0.1333" stop-color="#00ff4e"/><stop offset="0.1760" stop-color="#00ff00"/><stop offset="0.1867" stop-color="#27ff00"/><stop offset="0.2400" stop-color="#ffff00"/><stop offset="0.4000" stop-color="#ffb500"/><stop offset="0.5000" stop-color="#ff8000"/><stop offset="0.6000" stop-color="#ff4700"/><stop offset="0.7333" stop-color="#ff0e00"/><stop offset="1.0000" stop-color="#ff0000"/></linearGradient>
<filter id="f112" x="0" y="0" width="1" height="1" color-interpolation-filters="sRGB"><feTurbulence type="fractalNoise" baseFrequency="0.9 0.3" numOctaves="1" seed="15" result="t"/><feColorMatrix in="t" type="matrix" values="0 0 0 0 0  0 0 0 0 0  0 0 0 0 0  40 0 0 0 -22.2654" result="m"/><feComposite in="SourceGraphic" in2="m" operator="in"/></filter>
<linearGradient id="g113" gradientUnits="userSpaceOnUse" x1="0" y1="254" x2="0" y2="329"><stop offset="0.0000" stop-color="#0000e2"/><stop offset="0.0150" stop-color="#0000ff"/><stop offset="0.0400" stop-color="#008eff"/><stop offset="0.0560" stop-color="#00ffff"/><stop offset="0.0800" stop-color="#00ffc4"/><stop offset="0.1333" stop-color="#00ff4e"/><stop offset="0.1760" stop-color="#00ff00"/><stop offset="0.1867" stop-color="#27ff00"/><stop offset="0.2400" stop-color="#ffff00"/><stop offset="0.4000" stop-color="#ffb500"/><stop offset="0.5000" stop-color="#ff8000"/><stop offset="0.6000" stop-color="#ff4700"/><stop offset="0.7333" stop-color="#ff0e00"/><stop offset="1.0000" stop-color="#ff0000"/></linearGradient>
<filter id="f114" x="0" y="0" width="1" height="1" color-interpolation-filters="sRGB"><feTurbulence type="fractalNoise" baseFrequency="0.9 0.3" numOctaves="1" seed="16" result="t"/><feColorMatrix in="t" type="matrix" values="0 0 0 0 0  0 0 0 0 0  0 0 0 0 0  40 0 0 0 -22.2654" result="m"/><feComposite in="SourceGraphic" in2="m" operator="in"/></filter>
<linearGradient id="b115" x1="0" y1="0" x2="0" y2="1"><stop offset="0.000" stop-color="#76ff00"/><stop offset="0.350" stop-color="#ffff00"/><stop offset="1.000" stop-color="#ffa800"/></linearGradient>
<linearGradient id="b116" x1="0" y1="0" x2="0" y2="1"><stop offset="0.000" stop-color="#9dff00"/><stop offset="0.278" stop-color="#ffff00"/><stop offset="1.000" stop-color="#ffa800"/></linearGradient>
<linearGradient id="b117" x1="0" y1="0" x2="0" y2="1"><stop offset="0.000" stop-color="#c4ff00"/><stop offset="0.188" stop-color="#ffff00"/><stop offset="1.000" stop-color="#ffa800"/></linearGradient>
<linearGradient id="g118" gradientUnits="userSpaceOnUse" x1="0" y1="250" x2="0" y2="325"><stop offset="0.0000" stop-color="#000095"/><stop offset="0.1867" stop-color="#0000cf"/><stop offset="0.3644" stop-color="#0000ff"/><stop offset="0.4000" stop-color="#001cff"/><stop offset="0.5067" stop-color="#00ffff"/><stop offset="0.6400" stop-color="#00ff76"/><stop offset="0.7733" stop-color="#00ff00"/><stop offset="0.8800" stop-color="#9dff00"/><stop offset="0.9600" stop-color="#ffff00"/></linearGradient>
<linearGradient id="g119" gradientUnits="userSpaceOnUse" x1="0" y1="246" x2="0" y2="318"><stop offset="0.0000" stop-color="#000095"/><stop offset="0.1944" stop-color="#0000cf"/><stop offset="0.3796" stop-color="#0000ff"/><stop offset="0.4167" stop-color="#001cff"/><stop offset="0.5278" stop-color="#00ffff"/><stop offset="0.6667" stop-color="#00ff76"/><stop offset="0.8056" stop-color="#00ff00"/><stop offset="0.9167" stop-color="#9dff00"/><stop offset="1.0000" stop-color="#ffff00"/></linearGradient>
<filter id="f120" x="0" y="0" width="1" height="1" color-interpolation-filters="sRGB"><feTurbulence type="fractalNoise" baseFrequency="0.9 0.3" numOctaves="1" seed="17" result="t"/><feColorMatrix in="t" type="matrix" values="0 0 0 0 0  0 0 0 0 0  0 0 0 0 0  40 0 0 0 -22.2654" result="m"/><feComposite in="SourceGraphic" in2="m" operator="in"/></filter>
<linearGradient id="g121" gradientUnits="userSpaceOnUse" x1="0" y1="254" x2="0" y2="326"><stop offset="0.0000" stop-color="#000095"/><stop offset="0.1944" stop-color="#0000cf"/><stop offset="0.3796" stop-color="#0000ff"/><stop offset="0.4167" stop-color="#001cff"/><stop offset="0.5278" stop-color="#00ffff"/><stop offset="0.6667" stop-color="#00ff76"/><stop offset="0.8056" stop-color="#00ff00"/><stop offset="0.9167" stop-color="#9dff00"/><stop offset="1.0000" stop-color="#ffff00"/></linearGradient>
<filter id="f122" x="0" y="0" width="1" height="1" color-interpolation-filters="sRGB"><feTurbulence type="fractalNoise" baseFrequency="0.9 0.3" numOctaves="1" seed="18" result="t"/><feColorMatrix in="t" type="matrix" values="0 0 0 0 0  0 0 0 0 0  0 0 0 0 0  40 0 0 0 -22.2654" result="m"/><feComposite in="SourceGraphic" in2="m" operator="in"/></filter>
<linearGradient id="g123" gradientUnits="userSpaceOnUse" x1="0" y1="250" x2="0" y2="325"><stop offset="0.0000" stop-color="#00ffc4"/><stop offset="0.2667" stop-color="#00ff00"/><stop offset="1.0000" stop-color="#ebff00"/></linearGradient>
<linearGradient id="b124" x1="0" y1="0" x2="0" y2="1"><stop offset="0.000" stop-color="#00ff3b"/><stop offset="0.130" stop-color="#00ff00"/><stop offset="0.413" stop-color="#ffff00"/><stop offset="0.826" stop-color="#ff8000"/><stop offset="1.000" stop-color="#ff4700"/></linearGradient>
<linearGradient id="g125" gradientUnits="userSpaceOnUse" x1="0" y1="250" x2="0" y2="312"><stop offset="0.0000" stop-color="#00fff5"/><stop offset="0.2419" stop-color="#00ff62"/><stop offset="0.4570" stop-color="#00ff00"/><stop offset="0.5645" stop-color="#62ff00"/><stop offset="0.7968" stop-color="#ffff00"/><stop offset="1.0000" stop-color="#ffd000"/></linearGradient>
<linearGradient id="g126" gradientUnits="userSpaceOnUse" x1="0" y1="250" x2="0" y2="305"><stop offset="0.0000" stop-color="#62ff00"/><stop offset="0.1818" stop-color="#ffff00"/><stop offset="0.4545" stop-color="#ffaf00"/><stop offset="0.6455" stop-color="#ff8000"/><stop offset="1.0000" stop-color="#ff2400"/></linearGradient>
<linearGradient id="g127" gradientUnits="userSpaceOnUse" x1="0" y1="250" x2="0" y2="278"><stop offset="0.0000" stop-color="#000095"/><stop offset="0.4286" stop-color="#0000e2"/><stop offset="0.5238" stop-color="#0000ff"/><stop offset="0.8095" stop-color="#00ffff"/><stop offset="1.0000" stop-color="#00ffc4"/></linearGradient>
<linearGradient id="bsA" gradientUnits="userSpaceOnUse" x1="0" y1="250" x2="0" y2="325"><stop offset="0" stop-color="#000" stop-opacity="0.35"/><stop offset="1" stop-color="#000" stop-opacity="1"/></linearGradient>
<filter id="f129" x="0" y="0" width="1" height="1" color-interpolation-filters="sRGB"><feTurbulence type="fractalNoise" baseFrequency="0.9 0.5" numOctaves="1" seed="52" result="t"/><feColorMatrix in="t" type="matrix" values="0 0 0 0 0  0 0 0 0 0  0 0 0 0 0  1 0 0 0 0" result="n"/><feComposite in="n" in2="SourceAlpha" operator="arithmetic" k1="0" k2="40" k3="8" k4="-30" result="m"/><feFlood flood-color="#0000e0"/><feComposite in2="m" operator="in"/></filter>
<linearGradient id="g130" gradientUnits="userSpaceOnUse" x1="0" y1="305" x2="0" y2="325"><stop offset="0.0000" stop-color="#0000a8"/><stop offset="0.5625" stop-color="#0000ff"/><stop offset="1.0000" stop-color="#00c6ff"/></linearGradient>
<linearGradient id="g131" gradientUnits="userSpaceOnUse" x1="0" y1="250" x2="0" y2="325"><stop offset="0.0000" stop-color="#00ffc4"/><stop offset="0.2000" stop-color="#00ff31"/><stop offset="0.6000" stop-color="#00ff00"/><stop offset="1.0000" stop-color="#62ff00"/></linearGradient>
<linearGradient id="g132" gradientUnits="userSpaceOnUse" x1="0" y1="255" x2="0" y2="325"><stop offset="0.0000" stop-color="#62ff00"/><stop offset="0.0857" stop-color="#ffff00"/><stop offset="0.2143" stop-color="#ffaf00"/><stop offset="0.3810" stop-color="#ff8000"/><stop offset="0.5714" stop-color="#ff4700"/><stop offset="1.0000" stop-color="#ff0000"/></linearGradient>
<linearGradient id="b133" x1="0" y1="0" x2="0" y2="1"><stop offset="0.000" stop-color="#00ffc4"/><stop offset="0.333" stop-color="#00ff00"/><stop offset="0.550" stop-color="#ffff00"/><stop offset="0.867" stop-color="#ff8000"/><stop offset="1.000" stop-color="#ff4700"/></linearGradient>
<clipPath id="cp134"><polygon points="215,318 220,300 226,285 234,272 244,262 244,325 215,325"/></clipPath>
<linearGradient id="g135" gradientUnits="userSpaceOnUse" x1="0" y1="262" x2="0" y2="325"><stop offset="0.0000" stop-color="#00006e"/><stop offset="0.2857" stop-color="#0000bb"/><stop offset="0.5238" stop-color="#0000ec"/><stop offset="0.5828" stop-color="#0000ff"/><stop offset="0.7302" stop-color="#008eff"/><stop offset="0.7937" stop-color="#00ffff"/><stop offset="0.8571" stop-color="#00ffd8"/><stop offset="1.0000" stop-color="#00ff4e"/></linearGradient>
<linearGradient id="g136" gradientUnits="userSpaceOnUse" x1="0" y1="252" x2="0" y2="315"><stop offset="0.0000" stop-color="#00006e"/><stop offset="0.2857" stop-color="#0000bb"/><stop offset="0.5238" stop-color="#0000ec"/><stop offset="0.5828" stop-color="#0000ff"/><stop offset="0.7302" stop-color="#008eff"/><stop offset="0.7937" stop-color="#00ffff"/><stop offset="0.8571" stop-color="#00ffd8"/><stop offset="1.0000" stop-color="#00ff4e"/></linearGradient>
<filter id="f137" x="0" y="0" width="1" height="1" color-interpolation-filters="sRGB"><feTurbulence type="fractalNoise" baseFrequency="0.9 0.5" numOctaves="1" seed="91" result="t"/><feColorMatrix in="t" type="matrix" values="0 0 0 0 0  0 0 0 0 0  0 0 0 0 0  40 0 0 0 -22.2654" result="m"/><feComposite in="SourceGraphic" in2="m" operator="in"/></filter>
<linearGradient id="g138" gradientUnits="userSpaceOnUse" x1="0" y1="272" x2="0" y2="335"><stop offset="0.0000" stop-color="#00006e"/><stop offset="0.2857" stop-color="#0000bb"/><stop offset="0.5238" stop-color="#0000ec"/><stop offset="0.5828" stop-color="#0000ff"/><stop offset="0.7302" stop-color="#008eff"/><stop offset="0.7937" stop-color="#00ffff"/><stop offset="0.8571" stop-color="#00ffd8"/><stop offset="1.0000" stop-color="#00ff4e"/></linearGradient>
<filter id="f139" x="0" y="0" width="1" height="1" color-interpolation-filters="sRGB"><feTurbulence type="fractalNoise" baseFrequency="0.9 0.5" numOctaves="1" seed="92" result="t"/><feColorMatrix in="t" type="matrix" values="0 0 0 0 0  0 0 0 0 0  0 0 0 0 0  40 0 0 0 -22.2654" result="m"/><feComposite in="SourceGraphic" in2="m" operator="in"/></filter>
<linearGradient id="g140" gradientUnits="userSpaceOnUse" x1="0" y1="290" x2="0" y2="325"><stop offset="0.0000" stop-color="#00ff31"/><stop offset="0.2941" stop-color="#00ff00"/><stop offset="1.0000" stop-color="#ebff00"/></linearGradient>
<linearGradient id="g141" gradientUnits="userSpaceOnUse" x1="0" y1="312" x2="0" y2="325"><stop offset="0.0000" stop-color="#000042"/><stop offset="0.1429" stop-color="#00006e"/><stop offset="1.0000" stop-color="#0000e2"/></linearGradient>
<linearGradient id="g142" gradientUnits="userSpaceOnUse" x1="0" y1="250" x2="0" y2="325"><stop offset="0.0000" stop-color="#00ffc4"/><stop offset="0.1333" stop-color="#00ff31"/><stop offset="0.1804" stop-color="#00ff00"/><stop offset="0.2933" stop-color="#ebff00"/><stop offset="0.3038" stop-color="#ffff00"/><stop offset="0.5020" stop-color="#ff8000"/><stop offset="0.5333" stop-color="#ff6b00"/><stop offset="1.0000" stop-color="#ff0000"/></linearGradient>
<linearGradient id="g143" gradientUnits="userSpaceOnUse" x1="0" y1="250" x2="0" y2="325"><stop offset="0.0000" stop-color="#0000a8"/><stop offset="0.0933" stop-color="#0000e2"/><stop offset="0.1000" stop-color="#0000ff"/><stop offset="0.1200" stop-color="#00ffff"/><stop offset="0.1467" stop-color="#00ff31"/><stop offset="0.2800" stop-color="#00ff14"/><stop offset="0.3067" stop-color="#00ffc4"/><stop offset="0.3333" stop-color="#00ff14"/><stop offset="0.3467" stop-color="#00ff00"/><stop offset="0.3600" stop-color="#27ff00"/><stop offset="0.3867" stop-color="#ffff00"/><stop offset="0.5067" stop-color="#fff800"/><stop offset="0.5867" stop-color="#fff800"/><stop offset="0.6400" stop-color="#ffeb00"/><stop offset="0.6933" stop-color="#ffaf00"/><stop offset="0.7733" stop-color="#ff9b00"/><stop offset="0.8533" stop-color="#ffc300"/><stop offset="0.9600" stop-color="#ffd000"/><stop offset="0.9707" stop-color="#ff8000"/><stop offset="0.9867" stop-color="#ff0000"/></linearGradient>
<linearGradient id="g144" gradientUnits="userSpaceOnUse" x1="0" y1="247" x2="0" y2="321"><stop offset="0.0000" stop-color="#0000a8"/><stop offset="0.0946" stop-color="#0000e2"/><stop offset="0.1014" stop-color="#0000ff"/><stop offset="0.1216" stop-color="#00ffff"/><stop offset="0.1486" stop-color="#00ff31"/><stop offset="0.2838" stop-color="#00ff14"/><stop offset="0.3108" stop-color="#00ffc4"/><stop offset="0.3378" stop-color="#00ff14"/><stop offset="0.3514" stop-color="#00ff00"/><stop offset="0.3649" stop-color="#27ff00"/><stop offset="0.3919" stop-color="#ffff00"/><stop offset="0.5135" stop-color="#fff800"/><stop offset="0.5946" stop-color="#fff800"/><stop offset="0.6486" stop-color="#ffeb00"/><stop offset="0.7027" stop-color="#ffaf00"/><stop offset="0.7838" stop-color="#ff9b00"/><stop offset="0.8649" stop-color="#ffc300"/><stop offset="0.9730" stop-color="#ffd000"/><stop offset="0.9838" stop-color="#ff8000"/><stop offset="1.0000" stop-color="#ff0000"/></linearGradient>
<filter id="f145" x="0" y="0" width="1" height="1" color-interpolation-filters="sRGB"><feTurbulence type="fractalNoise" baseFrequency="0.9 0.3" numOctaves="1" seed="19" result="t"/><feColorMatrix in="t" type="matrix" values="0 0 0 0 0  0 0 0 0 0  0 0 0 0 0  40 0 0 0 -22.2654" result="m"/><feComposite in="SourceGraphic" in2="m" operator="in"/></filter>
<linearGradient id="g146" gradientUnits="userSpaceOnUse" x1="0" y1="253" x2="0" y2="327"><stop offset="0.0000" stop-color="#0000a8"/><stop offset="0.0946" stop-color="#0000e2"/><stop offset="0.1014" stop-color="#0000ff"/><stop offset="0.1216" stop-color="#00ffff"/><stop offset="0.1486" stop-color="#00ff31"/><stop offset="0.2838" stop-color="#00ff14"/><stop offset="0.3108" stop-color="#00ffc4"/><stop offset="0.3378" stop-color="#00ff14"/><stop offset="0.3514" stop-color="#00ff00"/><stop offset="0.3649" stop-color="#27ff00"/><stop offset="0.3919" stop-color="#ffff00"/><stop offset="0.5135" stop-color="#fff800"/><stop offset="0.5946" stop-color="#fff800"/><stop offset="0.6486" stop-color="#ffeb00"/><stop offset="0.7027" stop-color="#ffaf00"/><stop offset="0.7838" stop-color="#ff9b00"/><stop offset="0.8649" stop-color="#ffc300"/><stop offset="0.9730" stop-color="#ffd000"/><stop offset="0.9838" stop-color="#ff8000"/><stop offset="1.0000" stop-color="#ff0000"/></linearGradient>
<filter id="f147" x="0" y="0" width="1" height="1" color-interpolation-filters="sRGB"><feTurbulence type="fractalNoise" baseFrequency="0.9 0.3" numOctaves="1" seed="20" result="t"/><feColorMatrix in="t" type="matrix" values="0 0 0 0 0  0 0 0 0 0  0 0 0 0 0  40 0 0 0 -22.2654" result="m"/><feComposite in="SourceGraphic" in2="m" operator="in"/></filter>
<linearGradient id="b148" x1="0" y1="0" x2="0" y2="1"><stop offset="0.000" stop-color="#00ff27"/><stop offset="0.286" stop-color="#00ff00"/><stop offset="1.000" stop-color="#c4ff00"/></linearGradient>
<linearGradient id="b149" x1="0" y1="0" x2="0" y2="1"><stop offset="0.000" stop-color="#00ff14"/><stop offset="0.167" stop-color="#00ff00"/><stop offset="1.000" stop-color="#c4ff00"/></linearGradient>
<filter id="f150" x="0" y="0" width="1" height="1" color-interpolation-filters="sRGB"><feTurbulence type="fractalNoise" baseFrequency="0.6 0.4" numOctaves="1" seed="77" result="t"/><feColorMatrix in="t" type="matrix" values="0 0 0 0 0  0 0 0 0 0  0 0 0 0 0  40 0 0 0 -20.5429" result="m"/><feComposite in="SourceGraphic" in2="m" operator="in"/></filter>
<linearGradient id="b151" x1="0" y1="0" x2="0" y2="1"><stop offset="0.000" stop-color="#00ffff"/><stop offset="0.394" stop-color="#00ff00"/><stop offset="0.591" stop-color="#ffff00"/><stop offset="0.879" stop-color="#ff8000"/><stop offset="1.000" stop-color="#ff4700"/></linearGradient>
<linearGradient id="g152" gradientUnits="userSpaceOnUse" x1="0" y1="250" x2="0" y2="325"><stop offset="0.0000" stop-color="#0000cf"/><stop offset="0.1067" stop-color="#0000ff"/><stop offset="0.2133" stop-color="#00c6ff"/><stop offset="0.2800" stop-color="#0039ff"/><stop offset="0.3333" stop-color="#00ffff"/><stop offset="0.4000" stop-color="#00ff4e"/><stop offset="0.4667" stop-color="#00ff00"/><stop offset="0.5200" stop-color="#c4ff00"/><stop offset="0.5467" stop-color="#ffff00"/><stop offset="0.6933" stop-color="#ffd000"/><stop offset="0.8267" stop-color="#ffaf00"/><stop offset="0.9600" stop-color="#ffc300"/><stop offset="0.9695" stop-color="#ff8000"/><stop offset="0.9867" stop-color="#ff0000"/></linearGradient>
<linearGradient id="g153" gradientUnits="userSpaceOnUse" x1="0" y1="246" x2="0" y2="320"><stop offset="0.0000" stop-color="#0000cf"/><stop offset="0.1081" stop-color="#0000ff"/><stop offset="0.2162" stop-color="#00c6ff"/><stop offset="0.2838" stop-color="#0039ff"/><stop offset="0.3378" stop-color="#00ffff"/><stop offset="0.4054" stop-color="#00ff4e"/><stop offset="0.4730" stop-color="#00ff00"/><stop offset="0.5270" stop-color="#c4ff00"/><stop offset="0.5541" stop-color="#ffff00"/><stop offset="0.7027" stop-color="#ffd000"/><stop offset="0.8378" stop-color="#ffaf00"/><stop offset="0.9730" stop-color="#ffc300"/><stop offset="0.9826" stop-color="#ff8000"/><stop offset="1.0000" stop-color="#ff0000"/></linearGradient>
<filter id="f154" x="0" y="0" width="1" height="1" color-interpolation-filters="sRGB"><feTurbulence type="fractalNoise" baseFrequency="0.9 0.3" numOctaves="1" seed="21" result="t"/><feColorMatrix in="t" type="matrix" values="0 0 0 0 0  0 0 0 0 0  0 0 0 0 0  40 0 0 0 -22.2654" result="m"/><feComposite in="SourceGraphic" in2="m" operator="in"/></filter>
<linearGradient id="g155" gradientUnits="userSpaceOnUse" x1="0" y1="254" x2="0" y2="328"><stop offset="0.0000" stop-color="#0000cf"/><stop offset="0.1081" stop-color="#0000ff"/><stop offset="0.2162" stop-color="#00c6ff"/><stop offset="0.2838" stop-color="#0039ff"/><stop offset="0.3378" stop-color="#00ffff"/><stop offset="0.4054" stop-color="#00ff4e"/><stop offset="0.4730" stop-color="#00ff00"/><stop offset="0.5270" stop-color="#c4ff00"/><stop offset="0.5541" stop-color="#ffff00"/><stop offset="0.7027" stop-color="#ffd000"/><stop offset="0.8378" stop-color="#ffaf00"/><stop offset="0.9730" stop-color="#ffc300"/><stop offset="0.9826" stop-color="#ff8000"/><stop offset="1.0000" stop-color="#ff0000"/></linearGradient>
<filter id="f156" x="0" y="0" width="1" height="1" color-interpolation-filters="sRGB"><feTurbulence type="fractalNoise" baseFrequency="0.9 0.3" numOctaves="1" seed="22" result="t"/><feColorMatrix in="t" type="matrix" values="0 0 0 0 0  0 0 0 0 0  0 0 0 0 0  40 0 0 0 -22.2654" result="m"/><feComposite in="SourceGraphic" in2="m" operator="in"/></filter>
<linearGradient id="g157" gradientUnits="userSpaceOnUse" x1="0" y1="250" x2="0" y2="325"><stop offset="0.0000" stop-color="#0000cf"/><stop offset="0.1067" stop-color="#0000ff"/><stop offset="0.2133" stop-color="#00c6ff"/><stop offset="0.2800" stop-color="#0039ff"/><stop offset="0.3333" stop-color="#00ffff"/><stop offset="0.4000" stop-color="#00ff4e"/><stop offset="0.4667" stop-color="#00ff00"/><stop offset="0.5200" stop-color="#c4ff00"/><stop offset="0.5467" stop-color="#ffff00"/><stop offset="0.6933" stop-color="#ffd000"/><stop offset="0.8267" stop-color="#ffaf00"/><stop offset="0.9600" stop-color="#ffc300"/><stop offset="0.9695" stop-color="#ff8000"/><stop offset="0.9867" stop-color="#ff0000"/></linearGradient>
<linearGradient id="g158" gradientUnits="userSpaceOnUse" x1="0" y1="246" x2="0" y2="320"><stop offset="0.0000" stop-color="#0000cf"/><stop offset="0.1081" stop-color="#0000ff"/><stop offset="0.2162" stop-color="#00c6ff"/><stop offset="0.2838" stop-color="#0039ff"/><stop offset="0.3378" stop-color="#00ffff"/><stop offset="0.4054" stop-color="#00ff4e"/><stop offset="0.4730" stop-color="#00ff00"/><stop offset="0.5270" stop-color="#c4ff00"/><stop offset="0.5541" stop-color="#ffff00"/><stop offset="0.7027" stop-color="#ffd000"/><stop offset="0.8378" stop-color="#ffaf00"/><stop offset="0.9730" stop-color="#ffc300"/><stop offset="0.9826" stop-color="#ff8000"/><stop offset="1.0000" stop-color="#ff0000"/></linearGradient>
<filter id="f159" x="0" y="0" width="1" height="1" color-interpolation-filters="sRGB"><feTurbulence type="fractalNoise" baseFrequency="0.9 0.3" numOctaves="1" seed="23" result="t"/><feColorMatrix in="t" type="matrix" values="0 0 0 0 0  0 0 0 0 0  0 0 0 0 0  40 0 0 0 -22.2654" result="m"/><feComposite in="SourceGraphic" in2="m" operator="in"/></filter>
<linearGradient id="g160" gradientUnits="userSpaceOnUse" x1="0" y1="254" x2="0" y2="328"><stop offset="0.0000" stop-color="#0000cf"/><stop offset="0.1081" stop-color="#0000ff"/><stop offset="0.2162" stop-color="#00c6ff"/><stop offset="0.2838" stop-color="#0039ff"/><stop offset="0.3378" stop-color="#00ffff"/><stop offset="0.4054" stop-color="#00ff4e"/><stop offset="0.4730" stop-color="#00ff00"/><stop offset="0.5270" stop-color="#c4ff00"/><stop offset="0.5541" stop-color="#ffff00"/><stop offset="0.7027" stop-color="#ffd000"/><stop offset="0.8378" stop-color="#ffaf00"/><stop offset="0.9730" stop-color="#ffc300"/><stop offset="0.9826" stop-color="#ff8000"/><stop offset="1.0000" stop-color="#ff0000"/></linearGradient>
<filter id="f161" x="0" y="0" width="1" height="1" color-interpolation-filters="sRGB"><feTurbulence type="fractalNoise" baseFrequency="0.9 0.3" numOctaves="1" seed="24" result="t"/><feColorMatrix in="t" type="matrix" values="0 0 0 0 0  0 0 0 0 0  0 0 0 0 0  40 0 0 0 -22.2654" result="m"/><feComposite in="SourceGraphic" in2="m" operator="in"/></filter>
<linearGradient id="g162" gradientUnits="userSpaceOnUse" x1="0" y1="250" x2="0" y2="325"><stop offset="0.0000" stop-color="#0000cf"/><stop offset="0.0889" stop-color="#0000ff"/><stop offset="0.1067" stop-color="#001cff"/><stop offset="0.1867" stop-color="#00c6ff"/><stop offset="0.2400" stop-color="#0000ff"/><stop offset="0.3467" stop-color="#0000f5"/><stop offset="0.3500" stop-color="#0000ff"/><stop offset="0.3800" stop-color="#00ffff"/><stop offset="0.4000" stop-color="#00ffc4"/><stop offset="0.4800" stop-color="#00ff00"/><stop offset="0.5600" stop-color="#ffff00"/><stop offset="0.6933" stop-color="#ffd000"/><stop offset="0.8267" stop-color="#ffaf00"/><stop offset="0.9600" stop-color="#ffc300"/><stop offset="0.9695" stop-color="#ff8000"/><stop offset="0.9867" stop-color="#ff0000"/></linearGradient>
<linearGradient id="g163" gradientUnits="userSpaceOnUse" x1="0" y1="246" x2="0" y2="320"><stop offset="0.0000" stop-color="#0000cf"/><stop offset="0.0901" stop-color="#0000ff"/><stop offset="0.1081" stop-color="#001cff"/><stop offset="0.1892" stop-color="#00c6ff"/><stop offset="0.2432" stop-color="#0000ff"/><stop offset="0.3514" stop-color="#0000f5"/><stop offset="0.3547" stop-color="#0000ff"/><stop offset="0.3851" stop-color="#00ffff"/><stop offset="0.4054" stop-color="#00ffc4"/><stop offset="0.4865" stop-color="#00ff00"/><stop offset="0.5676" stop-color="#ffff00"/><stop offset="0.7027" stop-color="#ffd000"/><stop offset="0.8378" stop-color="#ffaf00"/><stop offset="0.9730" stop-color="#ffc300"/><stop offset="0.9826" stop-color="#ff8000"/><stop offset="1.0000" stop-color="#ff0000"/></linearGradient>
<filter id="f164" x="0" y="0" width="1" height="1" color-interpolation-filters="sRGB"><feTurbulence type="fractalNoise" baseFrequency="0.9 0.3" numOctaves="1" seed="25" result="t"/><feColorMatrix in="t" type="matrix" values="0 0 0 0 0  0 0 0 0 0  0 0 0 0 0  40 0 0 0 -22.2654" result="m"/><feComposite in="SourceGraphic" in2="m" operator="in"/></filter>
<linearGradient id="g165" gradientUnits="userSpaceOnUse" x1="0" y1="254" x2="0" y2="328"><stop offset="0.0000" stop-color="#0000cf"/><stop offset="0.0901" stop-color="#0000ff"/><stop offset="0.1081" stop-color="#001cff"/><stop offset="0.1892" stop-color="#00c6ff"/><stop offset="0.2432" stop-color="#0000ff"/><stop offset="0.3514" stop-color="#0000f5"/><stop offset="0.3547" stop-color="#0000ff"/><stop offset="0.3851" stop-color="#00ffff"/><stop offset="0.4054" stop-color="#00ffc4"/><stop offset="0.4865" stop-color="#00ff00"/><stop offset="0.5676" stop-color="#ffff00"/><stop offset="0.7027" stop-color="#ffd000"/><stop offset="0.8378" stop-color="#ffaf00"/><stop offset="0.9730" stop-color="#ffc300"/><stop offset="0.9826" stop-color="#ff8000"/><stop offset="1.0000" stop-color="#ff0000"/></linearGradient>
<filter id="f166" x="0" y="0" width="1" height="1" color-interpolation-filters="sRGB"><feTurbulence type="fractalNoise" baseFrequency="0.9 0.3" numOctaves="1" seed="26" result="t"/><feColorMatrix in="t" type="matrix" values="0 0 0 0 0  0 0 0 0 0  0 0 0 0 0  40 0 0 0 -22.2654" result="m"/><feComposite in="SourceGraphic" in2="m" operator="in"/></filter>
<linearGradient id="g167" gradientUnits="userSpaceOnUse" x1="0" y1="250" x2="0" y2="325"><stop offset="0.0000" stop-color="#00fff5"/><stop offset="0.2000" stop-color="#00ff62"/><stop offset="0.3156" stop-color="#00ff00"/><stop offset="0.3733" stop-color="#62ff00"/><stop offset="0.4897" stop-color="#ffff00"/><stop offset="0.5333" stop-color="#ffeb00"/><stop offset="1.0000" stop-color="#ffaf00"/></linearGradient>
<linearGradient id="g168" gradientUnits="userSpaceOnUse" x1="0" y1="250" x2="0" y2="325"><stop offset="0.0000" stop-color="#0000bb"/><stop offset="0.2667" stop-color="#0000f5"/><stop offset="0.2764" stop-color="#0000ff"/><stop offset="0.3636" stop-color="#00ffff"/><stop offset="0.3733" stop-color="#00fff5"/><stop offset="0.4800" stop-color="#00ff31"/><stop offset="0.5096" stop-color="#00ff00"/><stop offset="0.5867" stop-color="#ffff00"/><stop offset="1.0000" stop-color="#ffc300"/></linearGradient>
<linearGradient id="b169" x1="0" y1="0" x2="0" y2="1"><stop offset="0.000" stop-color="#00ff89"/><stop offset="0.538" stop-color="#00ff00"/><stop offset="1.000" stop-color="#ebff00"/></linearGradient>
<linearGradient id="g170" gradientUnits="userSpaceOnUse" x1="0" y1="250" x2="0" y2="325"><stop offset="0.0000" stop-color="#00fff5"/><stop offset="0.2000" stop-color="#00ff31"/><stop offset="0.2588" stop-color="#00ff00"/><stop offset="0.4000" stop-color="#ebff00"/><stop offset="0.4058" stop-color="#ffff00"/><stop offset="0.5159" stop-color="#ff8000"/><stop offset="0.5333" stop-color="#ff6b00"/><stop offset="0.6667" stop-color="#ff0000"/></linearGradient>
<linearGradient id="b171" x1="0" y1="0" x2="0" y2="1"><stop offset="0.000" stop-color="#00ffc4"/><stop offset="1.000" stop-color="#00ff3b"/></linearGradient>
<linearGradient id="g172" gradientUnits="userSpaceOnUse" x1="0" y1="250" x2="0" y2="325"><stop offset="0.0000" stop-color="#0000ff"/><stop offset="0.1200" stop-color="#00ffff"/><stop offset="0.2000" stop-color="#00ffc4"/><stop offset="0.3600" stop-color="#00ff00"/><stop offset="0.4000" stop-color="#62ff00"/><stop offset="0.4853" stop-color="#ffff00"/><stop offset="0.5600" stop-color="#ffd000"/><stop offset="0.6240" stop-color="#ff8000"/><stop offset="0.6933" stop-color="#ff2400"/></linearGradient>
<linearGradient id="b173" x1="0" y1="0" x2="0" y2="1"><stop offset="0.000" stop-color="#00ff00"/><stop offset="1.000" stop-color="#ebff00"/></linearGradient>
<linearGradient id="g174" gradientUnits="userSpaceOnUse" x1="0" y1="250" x2="0" y2="325"><stop offset="0.0000" stop-color="#0000a8"/><stop offset="0.2667" stop-color="#0000e2"/><stop offset="0.3067" stop-color="#0000ff"/><stop offset="0.3733" stop-color="#008eff"/><stop offset="0.3947" stop-color="#00ffff"/><stop offset="0.4533" stop-color="#00ff93"/><stop offset="0.5633" stop-color="#00ff00"/><stop offset="0.6000" stop-color="#62ff00"/><stop offset="0.6933" stop-color="#ffff00"/><stop offset="1.0000" stop-color="#ffeb00"/></linearGradient>
<linearGradient id="g175" gradientUnits="userSpaceOnUse" x1="0" y1="260" x2="0" y2="325"><stop offset="0.0000" stop-color="#ebff00"/><stop offset="0.0134" stop-color="#ffff00"/><stop offset="0.2676" stop-color="#ff8000"/><stop offset="0.3077" stop-color="#ff6b00"/><stop offset="0.6154" stop-color="#ff0000"/></linearGradient>
<linearGradient id="g176" gradientUnits="userSpaceOnUse" x1="0" y1="250" x2="0" y2="310"><stop offset="0.0000" stop-color="#00fff5"/><stop offset="0.2500" stop-color="#00ff4e"/><stop offset="0.3611" stop-color="#00ff00"/><stop offset="0.5000" stop-color="#c4ff00"/><stop offset="0.5750" stop-color="#ffff00"/><stop offset="0.7500" stop-color="#ffd000"/><stop offset="0.9500" stop-color="#ff8000"/><stop offset="1.0000" stop-color="#ff6b00"/></linearGradient>
<linearGradient id="g177" gradientUnits="userSpaceOnUse" x1="0" y1="250" x2="0" y2="290"><stop offset="0.0000" stop-color="#0000ff"/><stop offset="0.2250" stop-color="#00ffff"/><stop offset="0.3750" stop-color="#00ffc4"/><stop offset="0.8750" stop-color="#00ff00"/><stop offset="1.0000" stop-color="#62ff00"/></linearGradient>
<linearGradient id="a178" gradientUnits="userSpaceOnUse" x1="0" y1="250" x2="0" y2="260"><stop offset="0" stop-color="#000" stop-opacity="1"/><stop offset="1" stop-color="#000" stop-opacity="0"/></linearGradient>
<filter id="f179" x="0" y="0" width="1" height="1" color-interpolation-filters="sRGB"><feTurbulence type="fractalNoise" baseFrequency="0.9 0.6" numOctaves="1" seed="41" result="t"/><feColorMatrix in="t" type="matrix" values="0 0 0 0 0  0 0 0 0 0  0 0 0 0 0  1 0 0 0 0" result="n"/><feComposite in="n" in2="SourceAlpha" operator="arithmetic" k1="0" k2="40" k3="8" k4="-32" result="m"/><feFlood flood-color="#000"/><feComposite in2="m" operator="in"/></filter>
<linearGradient id="a180" gradientUnits="userSpaceOnUse" x1="0" y1="250" x2="0" y2="270"><stop offset="0" stop-color="#000" stop-opacity="1"/><stop offset="1" stop-color="#000" stop-opacity="0"/></linearGradient>
<filter id="f181" x="0" y="0" width="1" height="1" color-interpolation-filters="sRGB"><feTurbulence type="fractalNoise" baseFrequency="0.9 0.6" numOctaves="1" seed="42" result="t"/><feColorMatrix in="t" type="matrix" values="0 0 0 0 0  0 0 0 0 0  0 0 0 0 0  1 0 0 0 0" result="n"/><feComposite in="n" in2="SourceAlpha" operator="arithmetic" k1="0" k2="40" k3="8" k4="-32" result="m"/><feFlood flood-color="#000"/><feComposite in2="m" operator="in"/></filter>
<linearGradient id="a182" gradientUnits="userSpaceOnUse" x1="0" y1="250" x2="0" y2="262"><stop offset="0" stop-color="#000" stop-opacity="1"/><stop offset="1" stop-color="#000" stop-opacity="0"/></linearGradient>
<filter id="f183" x="0" y="0" width="1" height="1" color-interpolation-filters="sRGB"><feTurbulence type="fractalNoise" baseFrequency="0.9 0.6" numOctaves="1" seed="43" result="t"/><feColorMatrix in="t" type="matrix" values="0 0 0 0 0  0 0 0 0 0  0 0 0 0 0  1 0 0 0 0" result="n"/><feComposite in="n" in2="SourceAlpha" operator="arithmetic" k1="0" k2="40" k3="7.2" k4="-32" result="m"/><feFlood flood-color="#000"/><feComposite in2="m" operator="in"/></filter>
<linearGradient id="g184" gradientUnits="userSpaceOnUse" x1="0" y1="365" x2="0" y2="440"><stop offset="0.0000" stop-color="#00009e"/><stop offset="0.2533" stop-color="#0000ec"/><stop offset="0.3200" stop-color="#0000ff"/><stop offset="0.3867" stop-color="#0039ff"/><stop offset="0.5200" stop-color="#00c6ff"/><stop offset="0.5667" stop-color="#00ffff"/><stop offset="0.6133" stop-color="#00ffeb"/><stop offset="0.7067" stop-color="#00ff76"/><stop offset="0.7867" stop-color="#00ff00"/><stop offset="0.8400" stop-color="#c4ff00"/><stop offset="0.8600" stop-color="#ffff00"/><stop offset="0.8800" stop-color="#ffeb00"/><stop offset="0.9067" stop-color="#ff8d00"/><stop offset="0.9102" stop-color="#ff8000"/><stop offset="0.9333" stop-color="#ff2400"/><stop offset="0.9467" stop-color="#ff0000"/></linearGradient>
<linearGradient id="g185" gradientUnits="userSpaceOnUse" x1="0" y1="360" x2="0" y2="431"><stop offset="0.0000" stop-color="#00009e"/><stop offset="0.2676" stop-color="#0000ec"/><stop offset="0.3380" stop-color="#0000ff"/><stop offset="0.4085" stop-color="#0039ff"/><stop offset="0.5493" stop-color="#00c6ff"/><stop offset="0.5986" stop-color="#00ffff"/><stop offset="0.6479" stop-color="#00ffeb"/><stop offset="0.7465" stop-color="#00ff76"/><stop offset="0.8310" stop-color="#00ff00"/><stop offset="0.8873" stop-color="#c4ff00"/><stop offset="0.9085" stop-color="#ffff00"/><stop offset="0.9296" stop-color="#ffeb00"/><stop offset="0.9577" stop-color="#ff8d00"/><stop offset="0.9615" stop-color="#ff8000"/><stop offset="0.9859" stop-color="#ff2400"/><stop offset="1.0000" stop-color="#ff0000"/></linearGradient>
<filter id="f186" x="0" y="0" width="1" height="1" color-interpolation-filters="sRGB"><feTurbulence type="fractalNoise" baseFrequency="0.9 0.4" numOctaves="1" seed="3" result="t"/><feColorMatrix in="t" type="matrix" values="0 0 0 0 0  0 0 0 0 0  0 0 0 0 0  40 0 0 0 -22.5179" result="m"/><feComposite in="SourceGraphic" in2="m" operator="in"/></filter>
<linearGradient id="g187" gradientUnits="userSpaceOnUse" x1="0" y1="370" x2="0" y2="441"><stop offset="0.0000" stop-color="#00009e"/><stop offset="0.2676" stop-color="#0000ec"/><stop offset="0.3380" stop-color="#0000ff"/><stop offset="0.4085" stop-color="#0039ff"/><stop offset="0.5493" stop-color="#00c6ff"/><stop offset="0.5986" stop-color="#00ffff"/><stop offset="0.6479" stop-color="#00ffeb"/><stop offset="0.7465" stop-color="#00ff76"/><stop offset="0.8310" stop-color="#00ff00"/><stop offset="0.8873" stop-color="#c4ff00"/><stop offset="0.9085" stop-color="#ffff00"/><stop offset="0.9296" stop-color="#ffeb00"/><stop offset="0.9577" stop-color="#ff8d00"/><stop offset="0.9615" stop-color="#ff8000"/><stop offset="0.9859" stop-color="#ff2400"/><stop offset="1.0000" stop-color="#ff0000"/></linearGradient>
<filter id="f188" x="0" y="0" width="1" height="1" color-interpolation-filters="sRGB"><feTurbulence type="fractalNoise" baseFrequency="0.9 0.4" numOctaves="1" seed="4" result="t"/><feColorMatrix in="t" type="matrix" values="0 0 0 0 0  0 0 0 0 0  0 0 0 0 0  40 0 0 0 -22.5179" result="m"/><feComposite in="SourceGraphic" in2="m" operator="in"/></filter>
<linearGradient id="g189" gradientUnits="userSpaceOnUse" x1="0" y1="355" x2="0" y2="426"><stop offset="0.0000" stop-color="#00009e"/><stop offset="0.2676" stop-color="#0000ec"/><stop offset="0.3380" stop-color="#0000ff"/><stop offset="0.4085" stop-color="#0039ff"/><stop offset="0.5493" stop-color="#00c6ff"/><stop offset="0.5986" stop-color="#00ffff"/><stop offset="0.6479" stop-color="#00ffeb"/><stop offset="0.7465" stop-color="#00ff76"/><stop offset="0.8310" stop-color="#00ff00"/><stop offset="0.8873" stop-color="#c4ff00"/><stop offset="0.9085" stop-color="#ffff00"/><stop offset="0.9296" stop-color="#ffeb00"/><stop offset="0.9577" stop-color="#ff8d00"/><stop offset="0.9615" stop-color="#ff8000"/><stop offset="0.9859" stop-color="#ff2400"/><stop offset="1.0000" stop-color="#ff0000"/></linearGradient>
<filter id="f190" x="0" y="0" width="1" height="1" color-interpolation-filters="sRGB"><feTurbulence type="fractalNoise" baseFrequency="0.9 0.3" numOctaves="1" seed="43" result="t"/><feColorMatrix in="t" type="matrix" values="0 0 0 0 0  0 0 0 0 0  0 0 0 0 0  40 0 0 0 -23.9544" result="m"/><feComposite in="SourceGraphic" in2="m" operator="in"/></filter>
<linearGradient id="g191" gradientUnits="userSpaceOnUse" x1="0" y1="375" x2="0" y2="446"><stop offset="0.0000" stop-color="#00009e"/><stop offset="0.2676" stop-color="#0000ec"/><stop offset="0.3380" stop-color="#0000ff"/><stop offset="0.4085" stop-color="#0039ff"/><stop offset="0.5493" stop-color="#00c6ff"/><stop offset="0.5986" stop-color="#00ffff"/><stop offset="0.6479" stop-color="#00ffeb"/><stop offset="0.7465" stop-color="#00ff76"/><stop offset="0.8310" stop-color="#00ff00"/><stop offset="0.8873" stop-color="#c4ff00"/><stop offset="0.9085" stop-color="#ffff00"/><stop offset="0.9296" stop-color="#ffeb00"/><stop offset="0.9577" stop-color="#ff8d00"/><stop offset="0.9615" stop-color="#ff8000"/><stop offset="0.9859" stop-color="#ff2400"/><stop offset="1.0000" stop-color="#ff0000"/></linearGradient>
<filter id="f192" x="0" y="0" width="1" height="1" color-interpolation-filters="sRGB"><feTurbulence type="fractalNoise" baseFrequency="0.9 0.3" numOctaves="1" seed="44" result="t"/><feColorMatrix in="t" type="matrix" values="0 0 0 0 0  0 0 0 0 0  0 0 0 0 0  40 0 0 0 -23.9544" result="m"/><feComposite in="SourceGraphic" in2="m" operator="in"/></filter>
<linearGradient id="g193" gradientUnits="userSpaceOnUse" x1="0" y1="363.5" x2="0" y2="434.5"><stop offset="0.0000" stop-color="#00009e"/><stop offset="0.2676" stop-color="#0000ec"/><stop offset="0.3380" stop-color="#0000ff"/><stop offset="0.4085" stop-color="#0039ff"/><stop offset="0.5493" stop-color="#00c6ff"/><stop offset="0.5986" stop-color="#00ffff"/><stop offset="0.6479" stop-color="#00ffeb"/><stop offset="0.7465" stop-color="#00ff76"/><stop offset="0.8310" stop-color="#00ff00"/><stop offset="0.8873" stop-color="#c4ff00"/><stop offset="0.9085" stop-color="#ffff00"/><stop offset="0.9296" stop-color="#ffeb00"/><stop offset="0.9577" stop-color="#ff8d00"/><stop offset="0.9615" stop-color="#ff8000"/><stop offset="0.9859" stop-color="#ff2400"/><stop offset="1.0000" stop-color="#ff0000"/></linearGradient>
<filter id="f194" x="0" y="0" width="1" height="1" color-interpolation-filters="sRGB"><feTurbulence type="fractalNoise" baseFrequency="0.9 0.5" numOctaves="1" seed="33" result="t"/><feColorMatrix in="t" type="matrix" values="0 0 0 0 0  0 0 0 0 0  0 0 0 0 0  40 0 0 0 -22.2654" result="m"/><feComposite in="SourceGraphic" in2="m" operator="in"/></filter>
<linearGradient id="g195" gradientUnits="userSpaceOnUse" x1="0" y1="366.5" x2="0" y2="437.5"><stop offset="0.0000" stop-color="#00009e"/><stop offset="0.2676" stop-color="#0000ec"/><stop offset="0.3380" stop-color="#0000ff"/><stop offset="0.4085" stop-color="#0039ff"/><stop offset="0.5493" stop-color="#00c6ff"/><stop offset="0.5986" stop-color="#00ffff"/><stop offset="0.6479" stop-color="#00ffeb"/><stop offset="0.7465" stop-color="#00ff76"/><stop offset="0.8310" stop-color="#00ff00"/><stop offset="0.8873" stop-color="#c4ff00"/><stop offset="0.9085" stop-color="#ffff00"/><stop offset="0.9296" stop-color="#ffeb00"/><stop offset="0.9577" stop-color="#ff8d00"/><stop offset="0.9615" stop-color="#ff8000"/><stop offset="0.9859" stop-color="#ff2400"/><stop offset="1.0000" stop-color="#ff0000"/></linearGradient>
<filter id="f196" x="0" y="0" width="1" height="1" color-interpolation-filters="sRGB"><feTurbulence type="fractalNoise" baseFrequency="0.9 0.5" numOctaves="1" seed="34" result="t"/><feColorMatrix in="t" type="matrix" values="0 0 0 0 0  0 0 0 0 0  0 0 0 0 0  40 0 0 0 -22.2654" result="m"/><feComposite in="SourceGraphic" in2="m" operator="in"/></filter>
<linearGradient id="a197" gradientUnits="userSpaceOnUse" x1="0" y1="365" x2="0" y2="395"><stop offset="0" stop-color="#000" stop-opacity="1"/><stop offset="1" stop-color="#000" stop-opacity="0"/></linearGradient>
<filter id="f198" x="0" y="0" width="1" height="1" color-interpolation-filters="sRGB"><feTurbulence type="fractalNoise" baseFrequency="0.9 0.5" numOctaves="1" seed="23" result="t"/><feColorMatrix in="t" type="matrix" values="0 0 0 0 0  0 0 0 0 0  0 0 0 0 0  1 0 0 0 0" result="n"/><feComposite in="n" in2="SourceAlpha" operator="arithmetic" k1="0" k2="40" k3="8" k4="-32" result="m"/><feFlood flood-color="#000"/><feComposite in2="m" operator="in"/></filter>
<linearGradient id="b199" x1="0" y1="0" x2="0" y2="1"><stop offset="0.000" stop-color="#00ffd8"/><stop offset="0.524" stop-color="#00ff00"/><stop offset="0.833" stop-color="#ffff00"/><stop offset="1.000" stop-color="#ffd000"/></linearGradient>
<linearGradient id="b200" x1="0" y1="0" x2="0" y2="1"><stop offset="0.000" stop-color="#00c6ff"/><stop offset="0.059" stop-color="#00ffff"/><stop offset="0.824" stop-color="#00ff00"/><stop offset="1.000" stop-color="#76ff00"/></linearGradient>
<linearGradient id="b201" x1="0" y1="0" x2="0" y2="1"><stop offset="0.000" stop-color="#00c6ff"/><stop offset="0.071" stop-color="#00ffff"/><stop offset="1.000" stop-color="#00ff00"/></linearGradient>
<linearGradient id="b202" x1="0" y1="0" x2="0" y2="1"><stop offset="0.000" stop-color="#00ffc4"/><stop offset="1.000" stop-color="#00ff00"/></linearGradient>
<linearGradient id="g203" gradientUnits="userSpaceOnUse" x1="0" y1="461" x2="0" y2="536"><stop offset="0.0000" stop-color="#00009e"/><stop offset="0.1867" stop-color="#0000e2"/><stop offset="0.3867" stop-color="#0000ff"/><stop offset="0.4533" stop-color="#001cff"/><stop offset="0.5867" stop-color="#00c6ff"/><stop offset="0.6178" stop-color="#00ffff"/><stop offset="0.6800" stop-color="#00ffd8"/><stop offset="0.7600" stop-color="#00ff62"/><stop offset="0.8133" stop-color="#00ff00"/><stop offset="0.8533" stop-color="#c4ff00"/><stop offset="0.8733" stop-color="#ffff00"/><stop offset="0.8933" stop-color="#ffeb00"/><stop offset="0.9333" stop-color="#ff8000"/><stop offset="0.9600" stop-color="#ff0000"/></linearGradient>
<linearGradient id="g204" gradientUnits="userSpaceOnUse" x1="0" y1="456" x2="0" y2="528"><stop offset="0.0000" stop-color="#00009e"/><stop offset="0.1944" stop-color="#0000e2"/><stop offset="0.4028" stop-color="#0000ff"/><stop offset="0.4722" stop-color="#001cff"/><stop offset="0.6111" stop-color="#00c6ff"/><stop offset="0.6435" stop-color="#00ffff"/><stop offset="0.7083" stop-color="#00ffd8"/><stop offset="0.7917" stop-color="#00ff62"/><stop offset="0.8472" stop-color="#00ff00"/><stop offset="0.8889" stop-color="#c4ff00"/><stop offset="0.9097" stop-color="#ffff00"/><stop offset="0.9306" stop-color="#ffeb00"/><stop offset="0.9722" stop-color="#ff8000"/><stop offset="1.0000" stop-color="#ff0000"/></linearGradient>
<filter id="f205" x="0" y="0" width="1" height="1" color-interpolation-filters="sRGB"><feTurbulence type="fractalNoise" baseFrequency="0.9 0.4" numOctaves="1" seed="5" result="t"/><feColorMatrix in="t" type="matrix" values="0 0 0 0 0  0 0 0 0 0  0 0 0 0 0  40 0 0 0 -22.5179" result="m"/><feComposite in="SourceGraphic" in2="m" operator="in"/></filter>
<linearGradient id="g206" gradientUnits="userSpaceOnUse" x1="0" y1="466" x2="0" y2="538"><stop offset="0.0000" stop-color="#00009e"/><stop offset="0.1944" stop-color="#0000e2"/><stop offset="0.4028" stop-color="#0000ff"/><stop offset="0.4722" stop-color="#001cff"/><stop offset="0.6111" stop-color="#00c6ff"/><stop offset="0.6435" stop-color="#00ffff"/><stop offset="0.7083" stop-color="#00ffd8"/><stop offset="0.7917" stop-color="#00ff62"/><stop offset="0.8472" stop-color="#00ff00"/><stop offset="0.8889" stop-color="#c4ff00"/><stop offset="0.9097" stop-color="#ffff00"/><stop offset="0.9306" stop-color="#ffeb00"/><stop offset="0.9722" stop-color="#ff8000"/><stop offset="1.0000" stop-color="#ff0000"/></linearGradient>
<filter id="f207" x="0" y="0" width="1" height="1" color-interpolation-filters="sRGB"><feTurbulence type="fractalNoise" baseFrequency="0.9 0.4" numOctaves="1" seed="6" result="t"/><feColorMatrix in="t" type="matrix" values="0 0 0 0 0  0 0 0 0 0  0 0 0 0 0  40 0 0 0 -22.5179" result="m"/><feComposite in="SourceGraphic" in2="m" operator="in"/></filter>
<linearGradient id="g208" gradientUnits="userSpaceOnUse" x1="0" y1="451" x2="0" y2="523"><stop offset="0.0000" stop-color="#00009e"/><stop offset="0.1944" stop-color="#0000e2"/><stop offset="0.4028" stop-color="#0000ff"/><stop offset="0.4722" stop-color="#001cff"/><stop offset="0.6111" stop-color="#00c6ff"/><stop offset="0.6435" stop-color="#00ffff"/><stop offset="0.7083" stop-color="#00ffd8"/><stop offset="0.7917" stop-color="#00ff62"/><stop offset="0.8472" stop-color="#00ff00"/><stop offset="0.8889" stop-color="#c4ff00"/><stop offset="0.9097" stop-color="#ffff00"/><stop offset="0.9306" stop-color="#ffeb00"/><stop offset="0.9722" stop-color="#ff8000"/><stop offset="1.0000" stop-color="#ff0000"/></linearGradient>
<filter id="f209" x="0" y="0" width="1" height="1" color-interpolation-filters="sRGB"><feTurbulence type="fractalNoise" baseFrequency="0.9 0.3" numOctaves="1" seed="45" result="t"/><feColorMatrix in="t" type="matrix" values="0 0 0 0 0  0 0 0 0 0  0 0 0 0 0  40 0 0 0 -23.9544" result="m"/><feComposite in="SourceGraphic" in2="m" operator="in"/></filter>
<linearGradient id="g210" gradientUnits="userSpaceOnUse" x1="0" y1="471" x2="0" y2="543"><stop offset="0.0000" stop-color="#00009e"/><stop offset="0.1944" stop-color="#0000e2"/><stop offset="0.4028" stop-color="#0000ff"/><stop offset="0.4722" stop-color="#001cff"/><stop offset="0.6111" stop-color="#00c6ff"/><stop offset="0.6435" stop-color="#00ffff"/><stop offset="0.7083" stop-color="#00ffd8"/><stop offset="0.7917" stop-color="#00ff62"/><stop offset="0.8472" stop-color="#00ff00"/><stop offset="0.8889" stop-color="#c4ff00"/><stop offset="0.9097" stop-color="#ffff00"/><stop offset="0.9306" stop-color="#ffeb00"/><stop offset="0.9722" stop-color="#ff8000"/><stop offset="1.0000" stop-color="#ff0000"/></linearGradient>
<filter id="f211" x="0" y="0" width="1" height="1" color-interpolation-filters="sRGB"><feTurbulence type="fractalNoise" baseFrequency="0.9 0.3" numOctaves="1" seed="46" result="t"/><feColorMatrix in="t" type="matrix" values="0 0 0 0 0  0 0 0 0 0  0 0 0 0 0  40 0 0 0 -23.9544" result="m"/><feComposite in="SourceGraphic" in2="m" operator="in"/></filter>
<linearGradient id="g212" gradientUnits="userSpaceOnUse" x1="0" y1="459.5" x2="0" y2="531.5"><stop offset="0.0000" stop-color="#00009e"/><stop offset="0.1944" stop-color="#0000e2"/><stop offset="0.4028" stop-color="#0000ff"/><stop offset="0.4722" stop-color="#001cff"/><stop offset="0.6111" stop-color="#00c6ff"/><stop offset="0.6435" stop-color="#00ffff"/><stop offset="0.7083" stop-color="#00ffd8"/><stop offset="0.7917" stop-color="#00ff62"/><stop offset="0.8472" stop-color="#00ff00"/><stop offset="0.8889" stop-color="#c4ff00"/><stop offset="0.9097" stop-color="#ffff00"/><stop offset="0.9306" stop-color="#ffeb00"/><stop offset="0.9722" stop-color="#ff8000"/><stop offset="1.0000" stop-color="#ff0000"/></linearGradient>
<filter id="f213" x="0" y="0" width="1" height="1" color-interpolation-filters="sRGB"><feTurbulence type="fractalNoise" baseFrequency="0.9 0.5" numOctaves="1" seed="35" result="t"/><feColorMatrix in="t" type="matrix" values="0 0 0 0 0  0 0 0 0 0  0 0 0 0 0  40 0 0 0 -22.2654" result="m"/><feComposite in="SourceGraphic" in2="m" operator="in"/></filter>
<linearGradient id="g214" gradientUnits="userSpaceOnUse" x1="0" y1="462.5" x2="0" y2="534.5"><stop offset="0.0000" stop-color="#00009e"/><stop offset="0.1944" stop-color="#0000e2"/><stop offset="0.4028" stop-color="#0000ff"/><stop offset="0.4722" stop-color="#001cff"/><stop offset="0.6111" stop-color="#00c6ff"/><stop offset="0.6435" stop-color="#00ffff"/><stop offset="0.7083" stop-color="#00ffd8"/><stop offset="0.7917" stop-color="#00ff62"/><stop offset="0.8472" stop-color="#00ff00"/><stop offset="0.8889" stop-color="#c4ff00"/><stop offset="0.9097" stop-color="#ffff00"/><stop offset="0.9306" stop-color="#ffeb00"/><stop offset="0.9722" stop-color="#ff8000"/><stop offset="1.0000" stop-color="#ff0000"/></linearGradient>
<filter id="f215" x="0" y="0" width="1" height="1" color-interpolation-filters="sRGB"><feTurbulence type="fractalNoise" baseFrequency="0.9 0.5" numOctaves="1" seed="36" result="t"/><feColorMatrix in="t" type="matrix" values="0 0 0 0 0  0 0 0 0 0  0 0 0 0 0  40 0 0 0 -22.2654" result="m"/><feComposite in="SourceGraphic" in2="m" operator="in"/></filter>
<linearGradient id="a216" gradientUnits="userSpaceOnUse" x1="0" y1="461" x2="0" y2="491"><stop offset="0" stop-color="#000" stop-opacity="1"/><stop offset="1" stop-color="#000" stop-opacity="0"/></linearGradient>
<filter id="f217" x="0" y="0" width="1" height="1" color-interpolation-filters="sRGB"><feTurbulence type="fractalNoise" baseFrequency="0.9 0.5" numOctaves="1" seed="25" result="t"/><feColorMatrix in="t" type="matrix" values="0 0 0 0 0  0 0 0 0 0  0 0 0 0 0  1 0 0 0 0" result="n"/><feComposite in="n" in2="SourceAlpha" operator="arithmetic" k1="0" k2="40" k3="8" k4="-32" result="m"/><feFlood flood-color="#000"/><feComposite in2="m" operator="in"/></filter>
<linearGradient id="b218" x1="0" y1="0" x2="0" y2="1"><stop offset="0.000" stop-color="#00ffeb"/><stop offset="0.706" stop-color="#00ff00"/><stop offset="1.000" stop-color="#c4ff00"/></linearGradient>
<linearGradient id="b219" x1="0" y1="0" x2="0" y2="1"><stop offset="0.000" stop-color="#00ffd8"/><stop offset="0.786" stop-color="#00ff00"/><stop offset="1.000" stop-color="#76ff00"/></linearGradient>
<linearGradient id="b220" x1="0" y1="0" x2="0" y2="1"><stop offset="0.000" stop-color="#00ffff"/><stop offset="1.000" stop-color="#00ff00"/></linearGradient>
<linearGradient id="b221" x1="0" y1="0" x2="0" y2="1"><stop offset="0.000" stop-color="#008eff"/><stop offset="0.250" stop-color="#00ffff"/><stop offset="1.000" stop-color="#00ff89"/></linearGradient>
<linearGradient id="g222" gradientUnits="userSpaceOnUse" x1="0" y1="557" x2="0" y2="632"><stop offset="0.0000" stop-color="#00009e"/><stop offset="0.1867" stop-color="#0000e2"/><stop offset="0.3367" stop-color="#0000ff"/><stop offset="0.3867" stop-color="#001cff"/><stop offset="0.5467" stop-color="#00c6ff"/><stop offset="0.5822" stop-color="#00ffff"/><stop offset="0.6533" stop-color="#00ffd8"/><stop offset="0.7467" stop-color="#00ff62"/><stop offset="0.8000" stop-color="#00ff00"/><stop offset="0.8400" stop-color="#c4ff00"/><stop offset="0.8600" stop-color="#ffff00"/><stop offset="0.8800" stop-color="#ffeb00"/><stop offset="0.9200" stop-color="#ff8000"/><stop offset="0.9600" stop-color="#ff0000"/></linearGradient>
<linearGradient id="g223" gradientUnits="userSpaceOnUse" x1="0" y1="552" x2="0" y2="624"><stop offset="0.0000" stop-color="#00009e"/><stop offset="0.1944" stop-color="#0000e2"/><stop offset="0.3507" stop-color="#0000ff"/><stop offset="0.4028" stop-color="#001cff"/><stop offset="0.5694" stop-color="#00c6ff"/><stop offset="0.6065" stop-color="#00ffff"/><stop offset="0.6806" stop-color="#00ffd8"/><stop offset="0.7778" stop-color="#00ff62"/><stop offset="0.8333" stop-color="#00ff00"/><stop offset="0.8750" stop-color="#c4ff00"/><stop offset="0.8958" stop-color="#ffff00"/><stop offset="0.9167" stop-color="#ffeb00"/><stop offset="0.9583" stop-color="#ff8000"/><stop offset="1.0000" stop-color="#ff0000"/></linearGradient>
<filter id="f224" x="0" y="0" width="1" height="1" color-interpolation-filters="sRGB"><feTurbulence type="fractalNoise" baseFrequency="0.9 0.4" numOctaves="1" seed="7" result="t"/><feColorMatrix in="t" type="matrix" values="0 0 0 0 0  0 0 0 0 0  0 0 0 0 0  40 0 0 0 -22.5179" result="m"/><feComposite in="SourceGraphic" in2="m" operator="in"/></filter>
<linearGradient id="g225" gradientUnits="userSpaceOnUse" x1="0" y1="562" x2="0" y2="634"><stop offset="0.0000" stop-color="#00009e"/><stop offset="0.1944" stop-color="#0000e2"/><stop offset="0.3507" stop-color="#0000ff"/><stop offset="0.4028" stop-color="#001cff"/><stop offset="0.5694" stop-color="#00c6ff"/><stop offset="0.6065" stop-color="#00ffff"/><stop offset="0.6806" stop-color="#00ffd8"/><stop offset="0.7778" stop-color="#00ff62"/><stop offset="0.8333" stop-color="#00ff00"/><stop offset="0.8750" stop-color="#c4ff00"/><stop offset="0.8958" stop-color="#ffff00"/><stop offset="0.9167" stop-color="#ffeb00"/><stop offset="0.9583" stop-color="#ff8000"/><stop offset="1.0000" stop-color="#ff0000"/></linearGradient>
<filter id="f226" x="0" y="0" width="1" height="1" color-interpolation-filters="sRGB"><feTurbulence type="fractalNoise" baseFrequency="0.9 0.4" numOctaves="1" seed="8" result="t"/><feColorMatrix in="t" type="matrix" values="0 0 0 0 0  0 0 0 0 0  0 0 0 0 0  40 0 0 0 -22.5179" result="m"/><feComposite in="SourceGraphic" in2="m" operator="in"/></filter>
<linearGradient id="g227" gradientUnits="userSpaceOnUse" x1="0" y1="547" x2="0" y2="619"><stop offset="0.0000" stop-color="#00009e"/><stop offset="0.1944" stop-color="#0000e2"/><stop offset="0.3507" stop-color="#0000ff"/><stop offset="0.4028" stop-color="#001cff"/><stop offset="0.5694" stop-color="#00c6ff"/><stop offset="0.6065" stop-color="#00ffff"/><stop offset="0.6806" stop-color="#00ffd8"/><stop offset="0.7778" stop-color="#00ff62"/><stop offset="0.8333" stop-color="#00ff00"/><stop offset="0.8750" stop-color="#c4ff00"/><stop offset="0.8958" stop-color="#ffff00"/><stop offset="0.9167" stop-color="#ffeb00"/><stop offset="0.9583" stop-color="#ff8000"/><stop offset="1.0000" stop-color="#ff0000"/></linearGradient>
<filter id="f228" x="0" y="0" width="1" height="1" color-interpolation-filters="sRGB"><feTurbulence type="fractalNoise" baseFrequency="0.9 0.3" numOctaves="1" seed="47" result="t"/><feColorMatrix in="t" type="matrix" values="0 0 0 0 0  0 0 0 0 0  0 0 0 0 0  40 0 0 0 -23.9544" result="m"/><feComposite in="SourceGraphic" in2="m" operator="in"/></filter>
<linearGradient id="g229" gradientUnits="userSpaceOnUse" x1="0" y1="567" x2="0" y2="639"><stop offset="0.0000" stop-color="#00009e"/><stop offset="0.1944" stop-color="#0000e2"/><stop offset="0.3507" stop-color="#0000ff"/><stop offset="0.4028" stop-color="#001cff"/><stop offset="0.5694" stop-color="#00c6ff"/><stop offset="0.6065" stop-color="#00ffff"/><stop offset="0.6806" stop-color="#00ffd8"/><stop offset="0.7778" stop-color="#00ff62"/><stop offset="0.8333" stop-color="#00ff00"/><stop offset="0.8750" stop-color="#c4ff00"/><stop offset="0.8958" stop-color="#ffff00"/><stop offset="0.9167" stop-color="#ffeb00"/><stop offset="0.9583" stop-color="#ff8000"/><stop offset="1.0000" stop-color="#ff0000"/></linearGradient>
<filter id="f230" x="0" y="0" width="1" height="1" color-interpolation-filters="sRGB"><feTurbulence type="fractalNoise" baseFrequency="0.9 0.3" numOctaves="1" seed="48" result="t"/><feColorMatrix in="t" type="matrix" values="0 0 0 0 0  0 0 0 0 0  0 0 0 0 0  40 0 0 0 -23.9544" result="m"/><feComposite in="SourceGraphic" in2="m" operator="in"/></filter>
<linearGradient id="g231" gradientUnits="userSpaceOnUse" x1="0" y1="555.5" x2="0" y2="627.5"><stop offset="0.0000" stop-color="#00009e"/><stop offset="0.1944" stop-color="#0000e2"/><stop offset="0.3507" stop-color="#0000ff"/><stop offset="0.4028" stop-color="#001cff"/><stop offset="0.5694" stop-color="#00c6ff"/><stop offset="0.6065" stop-color="#00ffff"/><stop offset="0.6806" stop-color="#00ffd8"/><stop offset="0.7778" stop-color="#00ff62"/><stop offset="0.8333" stop-color="#00ff00"/><stop offset="0.8750" stop-color="#c4ff00"/><stop offset="0.8958" stop-color="#ffff00"/><stop offset="0.9167" stop-color="#ffeb00"/><stop offset="0.9583" stop-color="#ff8000"/><stop offset="1.0000" stop-color="#ff0000"/></linearGradient>
<filter id="f232" x="0" y="0" width="1" height="1" color-interpolation-filters="sRGB"><feTurbulence type="fractalNoise" baseFrequency="0.9 0.5" numOctaves="1" seed="37" result="t"/><feColorMatrix in="t" type="matrix" values="0 0 0 0 0  0 0 0 0 0  0 0 0 0 0  40 0 0 0 -22.2654" result="m"/><feComposite in="SourceGraphic" in2="m" operator="in"/></filter>
<linearGradient id="g233" gradientUnits="userSpaceOnUse" x1="0" y1="558.5" x2="0" y2="630.5"><stop offset="0.0000" stop-color="#00009e"/><stop offset="0.1944" stop-color="#0000e2"/><stop offset="0.3507" stop-color="#0000ff"/><stop offset="0.4028" stop-color="#001cff"/><stop offset="0.5694" stop-color="#00c6ff"/><stop offset="0.6065" stop-color="#00ffff"/><stop offset="0.6806" stop-color="#00ffd8"/><stop offset="0.7778" stop-color="#00ff62"/><stop offset="0.8333" stop-color="#00ff00"/><stop offset="0.8750" stop-color="#c4ff00"/><stop offset="0.8958" stop-color="#ffff00"/><stop offset="0.9167" stop-color="#ffeb00"/><stop offset="0.9583" stop-color="#ff8000"/><stop offset="1.0000" stop-color="#ff0000"/></linearGradient>
<filter id="f234" x="0" y="0" width="1" height="1" color-interpolation-filters="sRGB"><feTurbulence type="fractalNoise" baseFrequency="0.9 0.5" numOctaves="1" seed="38" result="t"/><feColorMatrix in="t" type="matrix" values="0 0 0 0 0  0 0 0 0 0  0 0 0 0 0  40 0 0 0 -22.2654" result="m"/><feComposite in="SourceGraphic" in2="m" operator="in"/></filter>
<linearGradient id="a235" gradientUnits="userSpaceOnUse" x1="0" y1="557" x2="0" y2="587"><stop offset="0" stop-color="#000" stop-opacity="1"/><stop offset="1" stop-color="#000" stop-opacity="0"/></linearGradient>
<filter id="f236" x="0" y="0" width="1" height="1" color-interpolation-filters="sRGB"><feTurbulence type="fractalNoise" baseFrequency="0.9 0.5" numOctaves="1" seed="27" result="t"/><feColorMatrix in="t" type="matrix" values="0 0 0 0 0  0 0 0 0 0  0 0 0 0 0  1 0 0 0 0" result="n"/><feComposite in="n" in2="SourceAlpha" operator="arithmetic" k1="0" k2="40" k3="8" k4="-32" result="m"/><feFlood flood-color="#000"/><feComposite in2="m" operator="in"/></filter>
<linearGradient id="b237" x1="0" y1="0" x2="0" y2="1"><stop offset="0.000" stop-color="#00ffeb"/><stop offset="0.545" stop-color="#00ff00"/><stop offset="0.841" stop-color="#ffff00"/><stop offset="1.000" stop-color="#ffd000"/></linearGradient>
<linearGradient id="b238" x1="0" y1="0" x2="0" y2="1"><stop offset="0.000" stop-color="#00ffeb"/><stop offset="0.800" stop-color="#00ff00"/><stop offset="1.000" stop-color="#76ff00"/></linearGradient>
<linearGradient id="g239" gradientUnits="userSpaceOnUse" x1="0" y1="57" x2="0" y2="134"><stop offset="0.0000" stop-color="#ff0000"/><stop offset="0.1800" stop-color="#ff8000"/><stop offset="0.3700" stop-color="#ffff00"/><stop offset="0.5000" stop-color="#00ff00"/><stop offset="0.7600" stop-color="#00ffff"/><stop offset="0.8500" stop-color="#0000ff"/><stop offset="1.0000" stop-color="#00006e"/></linearGradient>
<linearGradient id="g240" gradientUnits="userSpaceOnUse" x1="0" y1="153" x2="0" y2="230"><stop offset="0.0000" stop-color="#ff0000"/><stop offset="0.1800" stop-color="#ff8000"/><stop offset="0.3700" stop-color="#ffff00"/><stop offset="0.5000" stop-color="#00ff00"/><stop offset="0.7600" stop-color="#00ffff"/><stop offset="0.8500" stop-color="#0000ff"/><stop offset="1.0000" stop-color="#00006e"/></linearGradient>
<linearGradient id="g241" gradientUnits="userSpaceOnUse" x1="0" y1="249" x2="0" y2="326"><stop offset="0.0000" stop-color="#ff0000"/><stop offset="0.1800" stop-color="#ff8000"/><stop offset="0.3700" stop-color="#ffff00"/><stop offset="0.5000" stop-color="#00ff00"/><stop offset="0.7600" stop-color="#00ffff"/><stop offset="0.8500" stop-color="#0000ff"/><stop offset="1.0000" stop-color="#00006e"/></linearGradient>
<linearGradient id="g242" gradientUnits="userSpaceOnUse" x1="0" y1="364" x2="0" y2="441"><stop offset="0.0000" stop-color="#ff0000"/><stop offset="0.1800" stop-color="#ff8000"/><stop offset="0.3700" stop-color="#ffff00"/><stop offset="0.5000" stop-color="#00ff00"/><stop offset="0.7600" stop-color="#00ffff"/><stop offset="0.8500" stop-color="#0000ff"/><stop offset="1.0000" stop-color="#00006e"/></linearGradient>
<linearGradient id="g243" gradientUnits="userSpaceOnUse" x1="0" y1="460" x2="0" y2="537"><stop offset="0.0000" stop-color="#ff0000"/><stop offset="0.1800" stop-color="#ff8000"/><stop offset="0.3700" stop-color="#ffff00"/><stop offset="0.5000" stop-color="#00ff00"/><stop offset="0.7600" stop-color="#00ffff"/><stop offset="0.8500" stop-color="#0000ff"/><stop offset="1.0000" stop-color="#00006e"/></linearGradient>
<linearGradient id="g244" gradientUnits="userSpaceOnUse" x1="0" y1="556" x2="0" y2="633"><stop offset="0.0000" stop-color="#ff0000"/><stop offset="0.1800" stop-color="#ff8000"/><stop offset="0.3700" stop-color="#ffff00"/><stop offset="0.5000" stop-color="#00ff00"/><stop offset="0.7600" stop-color="#00ffff"/><stop offset="0.8500" stop-color="#0000ff"/><stop offset="1.0000" stop-color="#00006e"/></linearGradient></defs>
<rect x="81" y="58" width="419" height="75" fill="#ff0000"/>
<rect x="81" y="58" width="1" height="6.48286" fill="url(#b1)"/>
<rect x="82" y="58" width="2" height="15.097" fill="url(#b2)"/>
<rect x="84" y="58" width="1" height="6.69855" fill="url(#b1)"/>
<rect x="85" y="58" width="1" height="11.6545" fill="url(#b3)"/>
<rect x="86" y="58" width="1" height="6.61862" fill="url(#b2)"/>
<rect x="87" y="58" width="2" height="6.46583" fill="url(#b4)"/>
<rect x="89" y="58" width="1" height="7.17792" fill="url(#b3)"/>
<rect x="90" y="58" width="1" height="7.03056" fill="url(#b5)"/>
<rect x="91" y="58" width="2" height="11.4774" fill="url(#b6)"/>
<rect x="93" y="58" width="1" height="10.9641" fill="url(#b5)"/>
<rect x="94" y="58" width="2" height="11.8556" fill="url(#b6)"/>
<rect x="96" y="58" width="1" height="7.79767" fill="url(#b7)"/>
<rect x="97" y="58" width="1" height="10.9512" fill="url(#b6)"/>
<rect x="98" y="58" width="1" height="15.8017" fill="url(#b6)"/>
<rect x="99" y="58" width="1" height="9.42056" fill="url(#b3)"/>
<rect x="100" y="58" width="1" height="6.7762" fill="url(#b4)"/>
<rect x="101" y="58" width="2" height="9.13748" fill="url(#b8)"/>
<rect x="103" y="58" width="2" height="13.9689" fill="url(#b1)"/>
<rect x="105" y="58" width="1" height="6.84459" fill="url(#b9)"/>
<rect x="106" y="58" width="2" height="5.85764" fill="url(#b10)"/>
<rect x="108" y="58" width="2" height="5.70757" fill="url(#b10)"/>
<rect x="110" y="58" width="1" height="9.64389" fill="url(#b11)"/>
<rect x="111" y="58" width="1" height="4.35373" fill="url(#b12)"/>
<rect x="112" y="58" width="1" height="6.3457" fill="url(#b11)"/>
<rect x="113" y="58" width="1" height="7.29664" fill="url(#b13)"/>
<rect x="114" y="58" width="1" height="5.67053" fill="url(#b9)"/>
<rect x="115" y="58" width="1" height="6.28265" fill="url(#b14)"/>
<rect x="116" y="58" width="1" height="5.39174" fill="url(#b12)"/>
<rect x="117" y="58" width="1" height="5.09406" fill="url(#b10)"/>
<rect x="118" y="58" width="1" height="6.21552" fill="url(#b13)"/>
<rect x="119" y="58" width="2" height="9.15521" fill="url(#b12)"/>
<rect x="121" y="58" width="2" height="6.73986" fill="url(#b10)"/>
<rect x="123" y="58" width="2" height="6.39387" fill="url(#b13)"/>
<rect x="125" y="58" width="1" height="5.14366" fill="url(#b13)"/>
<rect x="126" y="58" width="1" height="7.60436" fill="url(#b12)"/>
<rect x="127" y="58" width="1" height="4.60879" fill="url(#b12)"/>
<rect x="128" y="58" width="28" height="14" fill="url(#g15)"/>
<rect x="130" y="58" width="2" height="13.6437" fill="url(#b12)"/>
<rect x="132" y="58" width="2" height="12.7915" fill="url(#b8)"/>
<rect x="134" y="58" width="1" height="7.15294" fill="url(#b16)"/>
<rect x="135" y="58" width="2" height="12.6308" fill="url(#b4)"/>
<rect x="139" y="58" width="2" height="13.3132" fill="url(#b11)"/>
<rect x="141" y="58" width="2" height="6.72808" fill="url(#b12)"/>
<rect x="144" y="58" width="1" height="10.3325" fill="url(#b4)"/>
<rect x="145" y="58" width="2" height="12.4921" fill="url(#b4)"/>
<rect x="149" y="58" width="1" height="11.848" fill="url(#b17)"/>
<rect x="151" y="58" width="1" height="13.6521" fill="url(#b11)"/>
<rect x="155" y="58" width="1" height="9.76064" fill="url(#b8)"/>
<rect x="156" y="58" width="1" height="8.40185" fill="url(#b10)"/>
<rect x="157" y="58" width="1" height="7.79786" fill="url(#b10)"/>
<rect x="164" y="58" width="1" height="7.33095" fill="url(#b18)"/>
<rect x="165" y="58" width="1" height="7.34879" fill="url(#b18)"/>
<rect x="167" y="58" width="1" height="7.83901" fill="url(#b18)"/>
<rect x="168" y="58" width="1" height="5.84614" fill="url(#b10)"/>
<rect x="169" y="58" width="1" height="3.12838" fill="url(#b10)"/>
<rect x="170" y="58" width="2" height="8.60175" fill="url(#b10)"/>
<rect x="174" y="58" width="1" height="6.00697" fill="url(#b13)"/>
<rect x="175" y="58" width="2" height="8.00517" fill="url(#b10)"/>
<rect x="87" y="58" width="2" height="6" fill="url(#b19)"/>
<rect x="87" y="64" width="2" height="24" fill="url(#b20)"/>
<rect x="177" y="58" width="2" height="75" fill="#0000bb"/>
<rect x="177" y="58" width="2" height="75" fill="url(#a21)" filter="url(#f22)"/>
<rect x="179" y="58" width="3" height="75" fill="url(#g23)"/>
<rect x="179" y="58" width="1" height="40" fill="url(#b24)"/>
<rect x="182" y="58" width="10" height="75" fill="url(#g25)"/>
<rect x="182" y="58" width="10" height="75" fill="url(#g26)" filter="url(#f27)"/>
<rect x="182" y="58" width="10" height="75" fill="url(#g28)" filter="url(#f29)"/>
<rect x="182" y="58" width="10" height="22" fill="url(#a30)" filter="url(#f31)"/>
<polygon points="182,58 185,58 183,83 182,83" fill="url(#g32)"/>
<polygon points="191.5,58 196.5,58 194,88 192,103" fill="url(#g33)"/>
<polygon points="210.5,58 222.5,58 218.2,133 215.3,133" fill="url(#g34)"/>
<polygon points="213,58 220,58 217.5,106 216,106" fill="url(#g36)"/>
<rect x="212" y="58" width="9" height="15" fill="url(#a37)" filter="url(#f38)"/>
<rect x="227" y="58" width="2" height="5.52377" fill="url(#b18)"/>
<rect x="229" y="58" width="2" height="6.06328" fill="url(#b13)"/>
<rect x="232" y="58" width="2" height="4.03408" fill="url(#b9)"/>
<rect x="235" y="58" width="1" height="6.11009" fill="url(#b14)"/>
<rect x="236" y="58" width="2" height="8.29937" fill="url(#b9)"/>
<rect x="238" y="58" width="1" height="7.63357" fill="url(#b13)"/>
<rect x="239" y="58" width="2" height="8.36407" fill="url(#b11)"/>
<rect x="241" y="58" width="1" height="6.03332" fill="url(#b10)"/>
<rect x="242" y="58" width="2" height="6.04894" fill="url(#b13)"/>
<rect x="244" y="58" width="1" height="6.13926" fill="url(#b13)"/>
<rect x="247" y="58" width="1" height="4.89588" fill="url(#b14)"/>
<rect x="248" y="58" width="2" height="7.01683" fill="url(#b11)"/>
<rect x="254" y="58" width="1" height="5.80641" fill="url(#b13)"/>
<rect x="259" y="58" width="1" height="6.09363" fill="url(#b14)"/>
<rect x="260" y="58" width="1" height="3.55316" fill="url(#b14)"/>
<rect x="261" y="58" width="1" height="5.64275" fill="url(#b10)"/>
<rect x="262" y="58" width="1" height="4.77272" fill="url(#b10)"/>
<rect x="263" y="58" width="1" height="4.37132" fill="url(#b18)"/>
<rect x="264" y="58" width="1" height="8.43539" fill="url(#b13)"/>
<rect x="265" y="58" width="1" height="5.53353" fill="url(#b13)"/>
<rect x="268" y="58" width="1" height="6.0887" fill="url(#b10)"/>
<rect x="270" y="58" width="1" height="4.10006" fill="url(#b9)"/>
<rect x="271" y="58" width="1" height="3.5314" fill="url(#b11)"/>
<rect x="272" y="58" width="1" height="3.39974" fill="url(#b9)"/>
<rect x="273" y="58" width="1" height="6.31838" fill="url(#b14)"/>
<rect x="275" y="58" width="1" height="3.65671" fill="url(#b13)"/>
<rect x="276" y="58" width="1" height="8.59348" fill="url(#b13)"/>
<rect x="277" y="58" width="2" height="4.73977" fill="url(#b9)"/>
<rect x="281" y="58" width="1" height="4.50269" fill="url(#b11)"/>
<rect x="282" y="58" width="1" height="8.86831" fill="url(#b10)"/>
<rect x="283" y="58" width="2" height="3.63769" fill="url(#b18)"/>
<rect x="285" y="58" width="1" height="8.00768" fill="url(#b14)"/>
<rect x="286" y="58" width="1" height="11.7214" fill="url(#b1)"/>
<rect x="287" y="58" width="1" height="15.6538" fill="url(#b8)"/>
<rect x="288" y="58" width="2" height="17.8551" fill="url(#b16)"/>
<rect x="290" y="58" width="1" height="17.0388" fill="url(#b39)"/>
<rect x="291" y="58" width="1" height="16.7302" fill="url(#b7)"/>
<rect x="292" y="58" width="2" height="11.9377" fill="url(#b1)"/>
<rect x="294" y="58" width="1" height="12.1523" fill="url(#b6)"/>
<rect x="295" y="58" width="1" height="17.781" fill="url(#b16)"/>
<rect x="296" y="58" width="2" height="17.0591" fill="url(#b3)"/>
<rect x="298" y="58" width="1" height="13.053" fill="url(#b3)"/>
<rect x="299" y="58" width="1" height="11.9854" fill="url(#b39)"/>
<rect x="300" y="58" width="1" height="11.1509" fill="url(#b8)"/>
<rect x="301" y="58" width="2" height="12.434" fill="url(#b3)"/>
<rect x="303" y="58" width="1" height="16.826" fill="url(#b16)"/>
<rect x="304" y="58" width="1" height="17.0327" fill="url(#b39)"/>
<rect x="305" y="58" width="1" height="13.9535" fill="url(#b39)"/>
<rect x="306" y="58" width="1" height="10.3503" fill="url(#b39)"/>
<rect x="307" y="58" width="2" height="15.8708" fill="url(#b39)"/>
<rect x="309" y="58" width="2" height="14.035" fill="url(#b5)"/>
<rect x="311" y="58" width="1" height="17.1426" fill="url(#b5)"/>
<rect x="312" y="58" width="2" height="10.6807" fill="url(#b39)"/>
<rect x="314" y="58" width="1" height="10.8393" fill="url(#b1)"/>
<rect x="315" y="58" width="1" height="15.0098" fill="url(#b39)"/>
<rect x="316" y="58" width="2" height="13.6556" fill="url(#b6)"/>
<rect x="318" y="58" width="1" height="14.2816" fill="url(#b5)"/>
<rect x="319" y="58" width="2" height="13.7909" fill="url(#b8)"/>
<rect x="321" y="58" width="1" height="16.0515" fill="url(#b6)"/>
<rect x="322" y="58" width="1" height="13.9516" fill="url(#b16)"/>
<rect x="323" y="58" width="1" height="12.2986" fill="url(#b4)"/>
<rect x="324" y="58" width="1" height="10.6198" fill="url(#b39)"/>
<rect x="325" y="58" width="1" height="15.5431" fill="url(#b39)"/>
<rect x="326" y="58" width="2" height="10.4853" fill="url(#b3)"/>
<rect x="328" y="58" width="1" height="11.7415" fill="url(#b7)"/>
<rect x="329" y="58" width="1" height="13.7173" fill="url(#b5)"/>
<rect x="330" y="58" width="1" height="14.3926" fill="url(#b16)"/>
<rect x="331" y="58" width="1" height="10.14" fill="url(#b4)"/>
<rect x="332" y="58" width="1" height="17.9569" fill="url(#b5)"/>
<rect x="333" y="58" width="1" height="17.4443" fill="url(#b4)"/>
<rect x="334" y="58" width="1" height="14.1925" fill="url(#b7)"/>
<rect x="335" y="58" width="1" height="14.07" fill="url(#b8)"/>
<rect x="298" y="58" width="2" height="32" fill="url(#b7)"/>
<rect x="401" y="57" width="1" height="77" fill="#000"/>
<rect x="484" y="58" width="3" height="75" fill="url(#g40)"/>
<rect x="484" y="58" width="3" height="75" fill="url(#g41)" filter="url(#f42)"/>
<rect x="484" y="58" width="3" height="75" fill="url(#g43)" filter="url(#f44)"/>
<rect x="487" y="58" width="5" height="75" fill="url(#g45)"/>
<rect x="487" y="58" width="5" height="75" fill="url(#g46)" filter="url(#f47)"/>
<rect x="487" y="58" width="5" height="75" fill="url(#g48)" filter="url(#f49)"/>
<rect x="484" y="58" width="8" height="75" fill="url(#a50)" filter="url(#f51)"/>
<rect x="492" y="58" width="5" height="75" fill="url(#g52)"/>
<rect x="496" y="58" width="1" height="55" fill="#ebff00"/>
<rect x="497" y="58" width="2" height="75" fill="url(#g53)"/>
<rect x="81" y="154" width="419" height="75" fill="#ff0000"/>
<rect x="81" y="154" width="1" height="16.7725" fill="url(#b54)"/>
<rect x="82" y="154" width="1" height="17.3995" fill="url(#b55)"/>
<rect x="83" y="154" width="2" height="7.68849" fill="url(#b3)"/>
<rect x="85" y="154" width="1" height="9.97589" fill="url(#b55)"/>
<rect x="86" y="154" width="1" height="7.4405" fill="url(#b39)"/>
<rect x="87" y="154" width="1" height="9.478" fill="url(#b8)"/>
<rect x="88" y="154" width="1" height="16.4397" fill="url(#b7)"/>
<rect x="89" y="154" width="1" height="9.30186" fill="url(#b7)"/>
<rect x="90" y="154" width="1" height="13.9437" fill="url(#b56)"/>
<rect x="91" y="154" width="2" height="9.18874" fill="url(#b54)"/>
<rect x="93" y="154" width="2" height="15.4217" fill="url(#b5)"/>
<rect x="95" y="154" width="1" height="13.5707" fill="url(#b39)"/>
<rect x="96" y="154" width="2" height="6.59371" fill="url(#b5)"/>
<rect x="98" y="154" width="2" height="7.66287" fill="url(#b2)"/>
<rect x="100" y="154" width="1" height="12.6013" fill="url(#b8)"/>
<rect x="101" y="154" width="1" height="9.57326" fill="url(#b3)"/>
<rect x="102" y="154" width="2" height="10.8745" fill="url(#b2)"/>
<rect x="104" y="154" width="1" height="10.7324" fill="url(#b1)"/>
<rect x="81" y="154" width="3" height="5" fill="url(#b57)"/>
<rect x="105" y="154" width="1" height="7.00363" fill="url(#b17)"/>
<rect x="106" y="154" width="1" height="5.99701" fill="url(#b13)"/>
<rect x="107" y="154" width="1" height="5.46451" fill="url(#b14)"/>
<rect x="108" y="154" width="1" height="5.43476" fill="url(#b12)"/>
<rect x="109" y="154" width="1" height="4.12049" fill="url(#b12)"/>
<rect x="110" y="154" width="1" height="5.26003" fill="url(#b10)"/>
<rect x="111" y="154" width="1" height="5.6651" fill="url(#b17)"/>
<rect x="112" y="154" width="1" height="7.77776" fill="url(#b13)"/>
<rect x="113" y="154" width="1" height="6.30736" fill="url(#b9)"/>
<rect x="114" y="154" width="2" height="9.0921" fill="url(#b9)"/>
<rect x="116" y="154" width="1" height="8.58214" fill="url(#b13)"/>
<rect x="117" y="154" width="1" height="4.43883" fill="url(#b13)"/>
<rect x="118" y="154" width="2" height="5.49079" fill="url(#b9)"/>
<rect x="120" y="154" width="1" height="9.83133" fill="url(#b12)"/>
<rect x="121" y="154" width="1" height="7.88409" fill="url(#b10)"/>
<rect x="122" y="154" width="1" height="4.0082" fill="url(#b10)"/>
<rect x="123" y="154" width="1" height="7.87303" fill="url(#b9)"/>
<rect x="124" y="154" width="1" height="7.16952" fill="url(#b14)"/>
<rect x="125" y="154" width="1" height="4.42211" fill="url(#b12)"/>
<rect x="126" y="154" width="2" height="5.56529" fill="url(#b12)"/>
<rect x="128" y="154" width="32" height="14" fill="url(#g58)"/>
<rect x="128" y="154" width="2" height="13.971" fill="url(#b12)"/>
<rect x="133" y="154" width="1" height="7.97647" fill="url(#b4)"/>
<rect x="135" y="154" width="1" height="13.0788" fill="url(#b4)"/>
<rect x="136" y="154" width="2" height="11.3388" fill="url(#b4)"/>
<rect x="138" y="154" width="1" height="8.70441" fill="url(#b8)"/>
<rect x="139" y="154" width="1" height="6.05403" fill="url(#b16)"/>
<rect x="141" y="154" width="2" height="7.60331" fill="url(#b17)"/>
<rect x="143" y="154" width="1" height="12.0838" fill="url(#b4)"/>
<rect x="144" y="154" width="1" height="10.8808" fill="url(#b12)"/>
<rect x="145" y="154" width="1" height="6.45134" fill="url(#b13)"/>
<rect x="146" y="154" width="2" height="7.70359" fill="url(#b16)"/>
<rect x="148" y="154" width="2" height="6.48108" fill="url(#b8)"/>
<rect x="150" y="154" width="1" height="8.5136" fill="url(#b11)"/>
<rect x="152" y="154" width="1" height="13.4871" fill="url(#b4)"/>
<rect x="153" y="154" width="2" height="11.803" fill="url(#b16)"/>
<rect x="156" y="154" width="1" height="8.23845" fill="url(#b8)"/>
<rect x="157" y="154" width="1" height="10.489" fill="url(#b13)"/>
<rect x="158" y="154" width="1" height="8.46959" fill="url(#b11)"/>
<rect x="159" y="154" width="1" height="7.56573" fill="url(#b11)"/>
<rect x="162" y="154" width="1" height="5.84721" fill="url(#b9)"/>
<rect x="163" y="154" width="2" height="7.60001" fill="url(#b9)"/>
<rect x="165" y="154" width="1" height="7.82003" fill="url(#b14)"/>
<rect x="166" y="154" width="1" height="8.39131" fill="url(#b9)"/>
<rect x="167" y="154" width="1" height="8.72257" fill="url(#b14)"/>
<rect x="168" y="154" width="1" height="4.8989" fill="url(#b9)"/>
<rect x="169" y="154" width="1" height="6.57341" fill="url(#b9)"/>
<rect x="172" y="154" width="1" height="5.85113" fill="url(#b13)"/>
<rect x="177" y="154" width="2" height="75" fill="#0000bb"/>
<rect x="177" y="154" width="2" height="75" fill="url(#a59)" filter="url(#f60)"/>
<rect x="179" y="154" width="3" height="75" fill="url(#g61)"/>
<rect x="179" y="154" width="1" height="40" fill="url(#b24)"/>
<rect x="182" y="154" width="10" height="75" fill="url(#g62)"/>
<rect x="182" y="154" width="10" height="75" fill="url(#g63)" filter="url(#f64)"/>
<rect x="182" y="154" width="10" height="75" fill="url(#g65)" filter="url(#f66)"/>
<rect x="182" y="154" width="10" height="22" fill="url(#a67)" filter="url(#f68)"/>
<polygon points="182,154 185,154 183,179 182,179" fill="url(#g69)"/>
<polygon points="191.5,154 196.5,154 194,184 192,199" fill="url(#g70)"/>
<polygon points="210.5,154 222.5,154 218.2,229 215.3,229" fill="url(#g71)"/>
<polygon points="213,154 220,154 217.5,202 216,202" fill="url(#g73)"/>
<rect x="212" y="154" width="9" height="15" fill="url(#a74)" filter="url(#f75)"/>
<rect x="225" y="154" width="1" height="4.81989" fill="url(#b18)"/>
<rect x="228" y="154" width="2" height="5.76469" fill="url(#b9)"/>
<rect x="230" y="154" width="2" height="7.51731" fill="url(#b13)"/>
<rect x="232" y="154" width="1" height="5.89014" fill="url(#b10)"/>
<rect x="233" y="154" width="2" height="8.30085" fill="url(#b18)"/>
<rect x="235" y="154" width="1" height="3.57854" fill="url(#b11)"/>
<rect x="237" y="154" width="1" height="5.76554" fill="url(#b13)"/>
<rect x="238" y="154" width="2" height="7.64324" fill="url(#b10)"/>
<rect x="241" y="154" width="1" height="5.23783" fill="url(#b10)"/>
<rect x="242" y="154" width="2" height="4.11442" fill="url(#b14)"/>
<rect x="244" y="154" width="1" height="6.46968" fill="url(#b9)"/>
<rect x="245" y="154" width="1" height="4.4757" fill="url(#b13)"/>
<rect x="246" y="154" width="2" height="6.91996" fill="url(#b9)"/>
<rect x="248" y="154" width="1" height="7.91462" fill="url(#b14)"/>
<rect x="251" y="154" width="1" height="8.83779" fill="url(#b13)"/>
<rect x="252" y="154" width="2" height="6.07601" fill="url(#b11)"/>
<rect x="254" y="154" width="1" height="7.66666" fill="url(#b13)"/>
<rect x="255" y="154" width="1" height="6.71969" fill="url(#b10)"/>
<rect x="256" y="154" width="1" height="3.265" fill="url(#b14)"/>
<rect x="257" y="154" width="1" height="8.48373" fill="url(#b9)"/>
<rect x="261" y="154" width="1" height="6.28827" fill="url(#b9)"/>
<rect x="262" y="154" width="1" height="6.98416" fill="url(#b9)"/>
<rect x="267" y="154" width="2" height="4.87417" fill="url(#b18)"/>
<rect x="271" y="154" width="1" height="8.97972" fill="url(#b9)"/>
<rect x="276" y="154" width="1" height="6.46677" fill="url(#b11)"/>
<rect x="277" y="154" width="1" height="3.08901" fill="url(#b13)"/>
<rect x="278" y="154" width="2" height="5.38031" fill="url(#b9)"/>
<rect x="283" y="154" width="1" height="6.12695" fill="url(#b13)"/>
<rect x="284" y="154" width="1" height="7.82888" fill="url(#b14)"/>
<rect x="285" y="154" width="1" height="3.26098" fill="url(#b9)"/>
<rect x="286" y="154" width="1" height="6.81821" fill="url(#b10)"/>
<rect x="290" y="154" width="1" height="14.9684" fill="url(#b4)"/>
<rect x="291" y="154" width="2" height="11.4637" fill="url(#b8)"/>
<rect x="293" y="154" width="1" height="11.2518" fill="url(#b4)"/>
<rect x="294" y="154" width="1" height="15.7991" fill="url(#b6)"/>
<rect x="295" y="154" width="1" height="16.0597" fill="url(#b5)"/>
<rect x="296" y="154" width="1" height="13.1187" fill="url(#b1)"/>
<rect x="297" y="154" width="1" height="12.4497" fill="url(#b39)"/>
<rect x="298" y="154" width="1" height="13.1137" fill="url(#b6)"/>
<rect x="299" y="154" width="1" height="10.187" fill="url(#b2)"/>
<rect x="300" y="154" width="2" height="13.5746" fill="url(#b2)"/>
<rect x="302" y="154" width="2" height="11.4366" fill="url(#b2)"/>
<rect x="304" y="154" width="1" height="12.8686" fill="url(#b7)"/>
<rect x="305" y="154" width="1" height="14.0813" fill="url(#b2)"/>
<rect x="306" y="154" width="1" height="17.377" fill="url(#b7)"/>
<rect x="307" y="154" width="1" height="10.4341" fill="url(#b5)"/>
<rect x="308" y="154" width="2" height="16.2739" fill="url(#b39)"/>
<rect x="310" y="154" width="1" height="15.8567" fill="url(#b16)"/>
<rect x="311" y="154" width="1" height="13.935" fill="url(#b16)"/>
<rect x="312" y="154" width="1" height="11.769" fill="url(#b39)"/>
<rect x="313" y="154" width="1" height="12.5907" fill="url(#b6)"/>
<rect x="314" y="154" width="2" height="11.1486" fill="url(#b8)"/>
<rect x="316" y="154" width="2" height="14.7351" fill="url(#b2)"/>
<rect x="318" y="154" width="2" height="10.2947" fill="url(#b1)"/>
<rect x="320" y="154" width="1" height="12.2256" fill="url(#b39)"/>
<rect x="321" y="154" width="1" height="16.279" fill="url(#b6)"/>
<rect x="322" y="154" width="1" height="16.8663" fill="url(#b3)"/>
<rect x="323" y="154" width="1" height="17.0603" fill="url(#b5)"/>
<rect x="324" y="154" width="1" height="16.8528" fill="url(#b5)"/>
<rect x="325" y="154" width="2" height="17.924" fill="url(#b6)"/>
<rect x="327" y="154" width="2" height="10.6511" fill="url(#b1)"/>
<rect x="329" y="154" width="1" height="10.3863" fill="url(#b8)"/>
<rect x="330" y="154" width="2" height="17.8724" fill="url(#b39)"/>
<rect x="332" y="154" width="2" height="10.1313" fill="url(#b12)"/>
<rect x="334" y="154" width="2" height="9.31236" fill="url(#b5)"/>
<rect x="336" y="154" width="1" height="5.33443" fill="url(#b8)"/>
<rect x="337" y="154" width="1" height="5.15603" fill="url(#b16)"/>
<rect x="338" y="154" width="1" height="8.66162" fill="url(#b39)"/>
<rect x="339" y="154" width="1" height="9.12364" fill="url(#b4)"/>
<rect x="340" y="154" width="21" height="75" fill="url(#g76)"/>
<rect x="341" y="154" width="1" height="14.412" fill="url(#b77)"/>
<rect x="342" y="154" width="2" height="13.1057" fill="url(#b77)"/>
<rect x="347" y="154" width="1" height="15.1414" fill="url(#b78)"/>
<rect x="353" y="154" width="1" height="8.49223" fill="url(#b77)"/>
<rect x="355" y="154" width="1" height="8.83934" fill="url(#b79)"/>
<rect x="358" y="154" width="1" height="12.8647" fill="url(#b80)"/>
<rect x="361" y="154" width="123" height="75" fill="url(#g81)"/>
<rect x="453" y="168" width="1" height="56" fill="url(#b82)"/>
<rect x="462" y="168" width="1" height="56" fill="url(#b82)"/>
<rect x="471" y="168" width="1" height="56" fill="url(#b82)"/>
<rect x="478" y="168" width="1" height="56" fill="url(#b82)"/>
<rect x="364" y="174" width="1" height="47.1148" fill="url(#b83)"/>
<rect x="370" y="174" width="2" height="41.4031" fill="url(#b84)"/>
<rect x="372" y="174" width="1" height="40.9861" fill="url(#b84)"/>
<rect x="388" y="174" width="1" height="41.3582" fill="url(#b84)"/>
<rect x="412" y="174" width="3" height="46.3136" fill="url(#b85)"/>
<rect x="418" y="174" width="1" height="40.8534" fill="url(#b83)"/>
<rect x="419" y="174" width="1" height="40.2299" fill="url(#b83)"/>
<rect x="420" y="174" width="1" height="40.3412" fill="url(#b84)"/>
<rect x="423" y="174" width="2" height="44.2712" fill="url(#b85)"/>
<rect x="425" y="174" width="3" height="47.3153" fill="url(#b85)"/>
<rect x="428" y="174" width="2" height="40.8958" fill="url(#b83)"/>
<rect x="431" y="174" width="3" height="45.0581" fill="url(#b85)"/>
<rect x="434" y="174" width="2" height="46.0589" fill="url(#b83)"/>
<rect x="436" y="174" width="1" height="42.0893" fill="url(#b84)"/>
<rect x="437" y="174" width="2" height="45.7261" fill="url(#b84)"/>
<rect x="448" y="174" width="1" height="44.303" fill="url(#b84)"/>
<rect x="451" y="174" width="2" height="41.6163" fill="url(#b83)"/>
<rect x="453" y="174" width="1" height="43.9319" fill="url(#b84)"/>
<rect x="455" y="174" width="3" height="42.0846" fill="url(#b85)"/>
<rect x="458" y="174" width="1" height="45.5958" fill="url(#b83)"/>
<rect x="459" y="174" width="2" height="46.1345" fill="url(#b85)"/>
<rect x="467" y="174" width="2" height="47.1347" fill="url(#b85)"/>
<rect x="469" y="174" width="3" height="40.2014" fill="url(#b85)"/>
<rect x="472" y="174" width="1" height="44.3595" fill="url(#b84)"/>
<rect x="474" y="174" width="3" height="44.2524" fill="url(#b84)"/>
<rect x="480" y="174" width="3" height="44.1739" fill="url(#b84)"/>
<rect x="375" y="164" width="1" height="58" fill="#ffc300"/>
<rect x="401" y="153" width="1" height="77" fill="#000"/>
<rect x="484" y="154" width="3" height="75" fill="url(#g86)"/>
<rect x="484" y="154" width="3" height="75" fill="url(#g87)" filter="url(#f88)"/>
<rect x="484" y="154" width="3" height="75" fill="url(#g89)" filter="url(#f90)"/>
<rect x="487" y="154" width="5" height="75" fill="url(#g91)"/>
<rect x="487" y="154" width="5" height="75" fill="url(#g92)" filter="url(#f93)"/>
<rect x="487" y="154" width="5" height="75" fill="url(#g94)" filter="url(#f95)"/>
<rect x="484" y="154" width="8" height="75" fill="url(#a96)" filter="url(#f97)"/>
<rect x="492" y="154" width="5" height="75" fill="url(#g98)"/>
<rect x="496" y="154" width="1" height="55" fill="#ebff00"/>
<rect x="497" y="154" width="2" height="75" fill="url(#g99)"/>
<rect x="81" y="250" width="419" height="75" fill="#ff0000"/>
<rect x="81" y="250" width="15" height="71" fill="url(#g100)"/>
<rect x="81" y="250" width="15" height="71" fill="url(#g101)" filter="url(#f102)"/>
<rect x="81" y="250" width="15" height="71" fill="url(#g103)" filter="url(#f104)"/>
<rect x="96" y="250" width="34" height="75" fill="url(#g105)"/>
<rect x="96" y="250" width="34" height="66" fill="url(#g106)" filter="url(#f107)"/>
<rect x="96" y="250" width="34" height="66" fill="url(#g108)" filter="url(#f109)"/>
<rect x="130" y="250" width="34" height="75" fill="url(#g110)"/>
<rect x="130" y="250" width="34" height="75" fill="url(#g111)" filter="url(#f112)"/>
<rect x="130" y="250" width="34" height="75" fill="url(#g113)" filter="url(#f114)"/>
<rect x="115" y="266" width="1" height="54.8512" fill="url(#b115)"/>
<rect x="129" y="266" width="1" height="30.6295" fill="url(#b116)"/>
<rect x="141" y="266" width="1" height="57.0402" fill="url(#b115)"/>
<rect x="147" y="266" width="1" height="53.335" fill="url(#b117)"/>
<rect x="158" y="266" width="1" height="34.8424" fill="url(#b117)"/>
<rect x="164" y="250" width="12" height="75" fill="url(#g118)"/>
<rect x="164" y="250" width="12" height="75" fill="url(#g119)" filter="url(#f120)"/>
<rect x="164" y="250" width="12" height="75" fill="url(#g121)" filter="url(#f122)"/>
<polygon points="163,250 166,250 167,325 164,325" fill="url(#g123)"/>
<rect x="176" y="250" width="1" height="75" fill="#62ff00"/>
<rect x="177" y="250" width="16" height="75" fill="#ff0000"/>
<rect x="177" y="250" width="2" height="12" fill="url(#b78)"/>
<rect x="179" y="250" width="2" height="16" fill="url(#b124)"/>
<polygon points="181,250 193,250 184,312" fill="url(#g125)"/>
<polygon points="187,256 193,250 193,305" fill="url(#g126)"/>
<polygon points="182,250 191,250 185,278" fill="url(#g127)"/>
<rect x="193" y="250" width="61" height="75" fill="#000000"/>
<rect x="193" y="250" width="61" height="75" fill="url(#bsA)" filter="url(#f129)"/>
<rect x="193" y="305" width="3" height="20" fill="url(#g130)"/>
<rect x="196" y="250" width="8" height="75" fill="url(#g131)"/>
<polygon points="198,255 202,255 203,325 197,325" fill="url(#g132)"/>
<rect x="204" y="250" width="1" height="75" fill="#00fff5"/>
<rect x="206" y="250" width="2" height="75" fill="#ff0000"/>
<rect x="206" y="250" width="2" height="4" fill="url(#b133)"/>
<g clip-path="url(#cp134)">
<rect x="215" y="262" width="29" height="63" fill="url(#g135)"/>
<rect x="215" y="262" width="29" height="63" fill="url(#g136)" filter="url(#f137)"/>
<rect x="215" y="262" width="29" height="63" fill="url(#g138)" filter="url(#f139)"/>
</g>
<polygon points="212,290 213,290 215,325 213,325" fill="url(#g140)"/>
<polygon points="208,312 215,312 215,325 208,325" fill="url(#g141)"/>
<rect x="244" y="250" width="8" height="75" fill="url(#g142)"/>
<rect x="252" y="250" width="1" height="75" fill="#ff0000"/>
<rect x="253" y="250" width="1" height="75" fill="#00ff62"/>
<rect x="254" y="250" width="82" height="75" fill="url(#g143)"/>
<rect x="254" y="250" width="82" height="70" fill="url(#g144)" filter="url(#f145)"/>
<rect x="254" y="250" width="82" height="70" fill="url(#g146)" filter="url(#f147)"/>
<rect x="285" y="262" width="1" height="52.0962" fill="url(#b148)"/>
<rect x="289" y="262" width="1" height="48.7583" fill="url(#b149)"/>
<rect x="306" y="262" width="1" height="57.6429" fill="url(#b148)"/>
<rect x="318" y="262" width="1" height="47.3484" fill="url(#b149)"/>
<rect x="255" y="289" width="43" height="7" fill="#00ff00" filter="url(#f150)"/>
<rect x="336" y="250" width="2" height="75" fill="#ff0000"/>
<rect x="336" y="250" width="2" height="10" fill="url(#b151)"/>
<rect x="338" y="250" width="37" height="75" fill="url(#g152)"/>
<rect x="338" y="250" width="37" height="69" fill="url(#g153)" filter="url(#f154)"/>
<rect x="338" y="250" width="37" height="69" fill="url(#g155)" filter="url(#f156)"/>
<rect x="375" y="250" width="2" height="75" fill="#ff0000"/>
<rect x="377" y="250" width="24" height="75" fill="url(#g157)"/>
<rect x="377" y="250" width="24" height="69" fill="url(#g158)" filter="url(#f159)"/>
<rect x="377" y="250" width="24" height="69" fill="url(#g160)" filter="url(#f161)"/>
<rect x="401" y="249" width="1" height="77" fill="#000"/>
<rect x="402" y="250" width="48" height="75" fill="url(#g162)"/>
<rect x="402" y="250" width="48" height="69" fill="url(#g163)" filter="url(#f164)"/>
<rect x="402" y="250" width="48" height="69" fill="url(#g165)" filter="url(#f166)"/>
<rect x="450" y="250" width="5" height="75" fill="url(#g167)"/>
<rect x="453" y="250" width="2" height="75" fill="url(#b3)"/>
<rect x="455" y="250" width="6" height="75" fill="url(#g168)"/>
<rect x="461" y="250" width="2" height="75" fill="url(#b169)"/>
<rect x="463" y="250" width="4" height="75" fill="url(#g170)"/>
<rect x="467" y="250" width="2" height="75" fill="url(#b171)"/>
<rect x="469" y="250" width="4" height="75" fill="url(#g172)"/>
<rect x="473" y="250" width="1" height="75" fill="url(#b173)"/>
<rect x="474" y="250" width="9" height="75" fill="url(#g174)"/>
<rect x="483" y="250" width="17" height="75" fill="#ff0000"/>
<polygon points="483,260 486,260 486,325 483,325" fill="url(#g175)"/>
<polygon points="484,250 492,250 491,310 489,310" fill="url(#g176)"/>
<rect x="492" y="250" width="2" height="75" fill="url(#b16)"/>
<polygon points="494,250 500,250 500,262 496,290" fill="url(#g177)"/>
<rect x="81" y="250" width="83" height="10" fill="url(#a178)" filter="url(#f179)"/>
<rect x="164" y="250" width="13" height="20" fill="url(#a180)" filter="url(#f181)"/>
<rect x="254" y="250" width="229" height="12" fill="url(#a182)" filter="url(#f183)"/>
<rect x="81" y="365" width="419" height="75" fill="url(#g184)"/>
<rect x="81" y="365" width="419" height="57" fill="url(#g185)" filter="url(#f186)"/>
<rect x="81" y="365" width="419" height="57" fill="url(#g187)" filter="url(#f188)"/>
<rect x="81" y="365" width="419" height="49" fill="url(#g189)" filter="url(#f190)"/>
<rect x="81" y="365" width="419" height="49" fill="url(#g191)" filter="url(#f192)"/>
<rect x="81" y="422" width="419" height="18" fill="url(#g193)" filter="url(#f194)"/>
<rect x="81" y="422" width="419" height="18" fill="url(#g195)" filter="url(#f196)"/>
<rect x="81" y="365" width="419" height="30" fill="url(#a197)" filter="url(#f198)"/>
<rect x="206" y="384" width="1" height="50" fill="url(#b199)"/>
<rect x="248" y="386" width="1" height="44" fill="url(#b200)"/>
<rect x="251" y="389" width="1" height="41" fill="url(#b201)"/>
<rect x="282" y="365" width="1" height="63" fill="url(#b202)"/>
<rect x="401" y="364" width="1" height="77" fill="#000"/>
<rect x="81" y="461" width="419" height="75" fill="url(#g203)"/>
<rect x="81" y="461" width="419" height="57" fill="url(#g204)" filter="url(#f205)"/>
<rect x="81" y="461" width="419" height="57" fill="url(#g206)" filter="url(#f207)"/>
<rect x="81" y="461" width="419" height="49" fill="url(#g208)" filter="url(#f209)"/>
<rect x="81" y="461" width="419" height="49" fill="url(#g210)" filter="url(#f211)"/>
<rect x="81" y="518" width="419" height="18" fill="url(#g212)" filter="url(#f213)"/>
<rect x="81" y="518" width="419" height="18" fill="url(#g214)" filter="url(#f215)"/>
<rect x="81" y="461" width="419" height="30" fill="url(#a216)" filter="url(#f217)"/>
<rect x="206" y="480" width="1" height="50" fill="url(#b218)"/>
<rect x="248" y="475" width="1" height="51" fill="url(#b219)"/>
<rect x="251" y="480" width="1" height="46" fill="url(#b220)"/>
<rect x="282" y="470" width="1" height="50" fill="url(#b221)"/>
<rect x="401" y="460" width="1" height="77" fill="#000"/>
<rect x="81" y="557" width="419" height="75" fill="url(#g222)"/>
<rect x="81" y="557" width="419" height="57" fill="url(#g223)" filter="url(#f224)"/>
<rect x="81" y="557" width="419" height="57" fill="url(#g225)" filter="url(#f226)"/>
<rect x="81" y="557" width="419" height="49" fill="url(#g227)" filter="url(#f228)"/>
<rect x="81" y="557" width="419" height="49" fill="url(#g229)" filter="url(#f230)"/>
<rect x="81" y="614" width="419" height="18" fill="url(#g231)" filter="url(#f232)"/>
<rect x="81" y="614" width="419" height="18" fill="url(#g233)" filter="url(#f234)"/>
<rect x="81" y="557" width="419" height="30" fill="url(#a235)" filter="url(#f236)"/>
<rect x="206" y="576" width="1" height="52" fill="url(#b237)"/>
<rect x="248" y="568" width="1" height="52" fill="url(#b238)"/>
<rect x="401" y="556" width="1" height="77" fill="#000"/>
<rect x="80" y="57" width="421" height="1" fill="#000"/>
<rect x="80" y="133" width="421" height="2" fill="#000"/>
<rect x="80" y="56" width="1" height="80" fill="#000"/>
<rect x="500" y="56" width="1" height="80" fill="#000"/>
<rect x="71" y="134" width="9" height="1" fill="#000"/>
<rect x="501" y="134" width="9" height="1" fill="#000"/>
<rect x="75" y="132" width="5" height="1" fill="#000"/>
<rect x="501" y="132" width="5" height="1" fill="#000"/>
<rect x="75" y="129" width="5" height="1" fill="#000"/>
<rect x="501" y="129" width="5" height="1" fill="#000"/>
<rect x="75" y="127" width="5" height="1" fill="#000"/>
<rect x="501" y="127" width="5" height="1" fill="#000"/>
<rect x="75" y="124" width="5" height="1" fill="#000"/>
<rect x="501" y="124" width="5" height="1" fill="#000"/>
<rect x="71" y="122" width="9" height="1" fill="#000"/>
<rect x="501" y="122" width="9" height="1" fill="#000"/>
<rect x="75" y="119" width="5" height="1" fill="#000"/>
<rect x="501" y="119" width="5" height="1" fill="#000"/>
<rect x="75" y="116" width="5" height="1" fill="#000"/>
<rect x="501" y="116" width="5" height="1" fill="#000"/>
<rect x="75" y="114" width="5" height="1" fill="#000"/>
<rect x="501" y="114" width="5" height="1" fill="#000"/>
<rect x="75" y="111" width="5" height="1" fill="#000"/>
<rect x="501" y="111" width="5" height="1" fill="#000"/>
<rect x="71" y="109" width="9" height="1" fill="#000"/>
<rect x="501" y="109" width="9" height="1" fill="#000"/>
<rect x="75" y="106" width="5" height="1" fill="#000"/>
<rect x="501" y="106" width="5" height="1" fill="#000"/>
<rect x="75" y="103" width="5" height="1" fill="#000"/>
<rect x="501" y="103" width="5" height="1" fill="#000"/>
<rect x="75" y="101" width="5" height="1" fill="#000"/>
<rect x="501" y="101" width="5" height="1" fill="#000"/>
<rect x="75" y="98" width="5" height="1" fill="#000"/>
<rect x="501" y="98" width="5" height="1" fill="#000"/>
<rect x="71" y="96" width="9" height="1" fill="#000"/>
<rect x="501" y="96" width="9" height="1" fill="#000"/>
<rect x="75" y="93" width="5" height="1" fill="#000"/>
<rect x="501" y="93" width="5" height="1" fill="#000"/>
<rect x="75" y="91" width="5" height="1" fill="#000"/>
<rect x="501" y="91" width="5" height="1" fill="#000"/>
<rect x="75" y="88" width="5" height="1" fill="#000"/>
<rect x="501" y="88" width="5" height="1" fill="#000"/>
<rect x="75" y="85" width="5" height="1" fill="#000"/>
<rect x="501" y="85" width="5" height="1" fill="#000"/>
<rect x="71" y="83" width="9" height="1" fill="#000"/>
<rect x="501" y="83" width="9" height="1" fill="#000"/>
<rect x="75" y="80" width="5" height="1" fill="#000"/>
<rect x="501" y="80" width="5" height="1" fill="#000"/>
<rect x="75" y="78" width="5" height="1" fill="#000"/>
<rect x="501" y="78" width="5" height="1" fill="#000"/>
<rect x="75" y="75" width="5" height="1" fill="#000"/>
<rect x="501" y="75" width="5" height="1" fill="#000"/>
<rect x="75" y="72" width="5" height="1" fill="#000"/>
<rect x="501" y="72" width="5" height="1" fill="#000"/>
<rect x="71" y="70" width="9" height="1" fill="#000"/>
<rect x="501" y="70" width="9" height="1" fill="#000"/>
<rect x="75" y="67" width="5" height="1" fill="#000"/>
<rect x="501" y="67" width="5" height="1" fill="#000"/>
<rect x="75" y="65" width="5" height="1" fill="#000"/>
<rect x="501" y="65" width="5" height="1" fill="#000"/>
<rect x="75" y="62" width="5" height="1" fill="#000"/>
<rect x="501" y="62" width="5" height="1" fill="#000"/>
<rect x="75" y="60" width="5" height="1" fill="#000"/>
<rect x="501" y="60" width="5" height="1" fill="#000"/>
<rect x="71" y="57" width="9" height="1" fill="#000"/>
<rect x="501" y="57" width="9" height="1" fill="#000"/>
<rect x="115" y="135" width="1" height="1" fill="#000"/>
<rect x="150" y="135" width="1" height="1" fill="#000"/>
<rect x="185" y="135" width="1" height="1" fill="#000"/>
<rect x="185" y="56" width="1" height="1" fill="#000"/>
<rect x="220" y="135" width="1" height="1" fill="#000"/>
<rect x="255" y="135" width="1" height="1" fill="#000"/>
<rect x="290" y="135" width="1" height="1" fill="#000"/>
<rect x="290" y="56" width="1" height="1" fill="#000"/>
<rect x="325" y="135" width="1" height="1" fill="#000"/>
<rect x="360" y="135" width="1" height="1" fill="#000"/>
<rect x="395" y="135" width="1" height="1" fill="#000"/>
<rect x="395" y="56" width="1" height="1" fill="#000"/>
<rect x="430" y="135" width="1" height="1" fill="#000"/>
<rect x="465" y="135" width="1" height="1" fill="#000"/>
<rect x="80" y="153" width="421" height="1" fill="#000"/>
<rect x="80" y="229" width="421" height="2" fill="#000"/>
<rect x="80" y="152" width="1" height="80" fill="#000"/>
<rect x="500" y="152" width="1" height="80" fill="#000"/>
<rect x="71" y="230" width="9" height="1" fill="#000"/>
<rect x="501" y="230" width="9" height="1" fill="#000"/>
<rect x="75" y="228" width="5" height="1" fill="#000"/>
<rect x="501" y="228" width="5" height="1" fill="#000"/>
<rect x="75" y="225" width="5" height="1" fill="#000"/>
<rect x="501" y="225" width="5" height="1" fill="#000"/>
<rect x="75" y="223" width="5" height="1" fill="#000"/>
<rect x="501" y="223" width="5" height="1" fill="#000"/>
<rect x="75" y="220" width="5" height="1" fill="#000"/>
<rect x="501" y="220" width="5" height="1" fill="#000"/>
<rect x="71" y="218" width="9" height="1" fill="#000"/>
<rect x="501" y="218" width="9" height="1" fill="#000"/>
<rect x="75" y="215" width="5" height="1" fill="#000"/>
<rect x="501" y="215" width="5" height="1" fill="#000"/>
<rect x="75" y="212" width="5" height="1" fill="#000"/>
<rect x="501" y="212" width="5" height="1" fill="#000"/>
<rect x="75" y="210" width="5" height="1" fill="#000"/>
<rect x="501" y="210" width="5" height="1" fill="#000"/>
<rect x="75" y="207" width="5" height="1" fill="#000"/>
<rect x="501" y="207" width="5" height="1" fill="#000"/>
<rect x="71" y="205" width="9" height="1" fill="#000"/>
<rect x="501" y="205" width="9" height="1" fill="#000"/>
<rect x="75" y="202" width="5" height="1" fill="#000"/>
<rect x="501" y="202" width="5" height="1" fill="#000"/>
<rect x="75" y="199" width="5" height="1" fill="#000"/>
<rect x="501" y="199" width="5" height="1" fill="#000"/>
<rect x="75" y="197" width="5" height="1" fill="#000"/>
<rect x="501" y="197" width="5" height="1" fill="#000"/>
<rect x="75" y="194" width="5" height="1" fill="#000"/>
<rect x="501" y="194" width="5" height="1" fill="#000"/>
<rect x="71" y="192" width="9" height="1" fill="#000"/>
<rect x="501" y="192" width="9" height="1" fill="#000"/>
<rect x="75" y="189" width="5" height="1" fill="#000"/>
<rect x="501" y="189" width="5" height="1" fill="#000"/>
<rect x="75" y="187" width="5" height="1" fill="#000"/>
<rect x="501" y="187" width="5" height="1" fill="#000"/>
<rect x="75" y="184" width="5" height="1" fill="#000"/>
<rect x="501" y="184" width="5" height="1" fill="#000"/>
<rect x="75" y="181" width="5" height="1" fill="#000"/>
<rect x="501" y="181" width="5" height="1" fill="#000"/>
<rect x="71" y="179" width="9" height="1" fill="#000"/>
<rect x="501" y="179" width="9" height="1" fill="#000"/>
<rect x="75" y="176" width="5" height="1" fill="#000"/>
<rect x="501" y="176" width="5" height="1" fill="#000"/>
<rect x="75" y="174" width="5" height="1" fill="#000"/>
<rect x="501" y="174" width="5" height="1" fill="#000"/>
<rect x="75" y="171" width="5" height="1" fill="#000"/>
<rect x="501" y="171" width="5" height="1" fill="#000"/>
<rect x="75" y="168" width="5" height="1" fill="#000"/>
<rect x="501" y="168" width="5" height="1" fill="#000"/>
<rect x="71" y="166" width="9" height="1" fill="#000"/>
<rect x="501" y="166" width="9" height="1" fill="#000"/>
<rect x="75" y="163" width="5" height="1" fill="#000"/>
<rect x="501" y="163" width="5" height="1" fill="#000"/>
<rect x="75" y="161" width="5" height="1" fill="#000"/>
<rect x="501" y="161" width="5" height="1" fill="#000"/>
<rect x="75" y="158" width="5" height="1" fill="#000"/>
<rect x="501" y="158" width="5" height="1" fill="#000"/>
<rect x="75" y="156" width="5" height="1" fill="#000"/>
<rect x="501" y="156" width="5" height="1" fill="#000"/>
<rect x="71" y="153" width="9" height="1" fill="#000"/>
<rect x="501" y="153" width="9" height="1" fill="#000"/>
<rect x="115" y="231" width="1" height="1" fill="#000"/>
<rect x="150" y="231" width="1" height="1" fill="#000"/>
<rect x="185" y="231" width="1" height="1" fill="#000"/>
<rect x="185" y="152" width="1" height="1" fill="#000"/>
<rect x="220" y="231" width="1" height="1" fill="#000"/>
<rect x="255" y="231" width="1" height="1" fill="#000"/>
<rect x="290" y="231" width="1" height="1" fill="#000"/>
<rect x="290" y="152" width="1" height="1" fill="#000"/>
<rect x="325" y="231" width="1" height="1" fill="#000"/>
<rect x="360" y="231" width="1" height="1" fill="#000"/>
<rect x="395" y="231" width="1" height="1" fill="#000"/>
<rect x="395" y="152" width="1" height="1" fill="#000"/>
<rect x="430" y="231" width="1" height="1" fill="#000"/>
<rect x="465" y="231" width="1" height="1" fill="#000"/>
<rect x="80" y="249" width="421" height="1" fill="#000"/>
<rect x="80" y="325" width="421" height="2" fill="#000"/>
<rect x="80" y="248" width="1" height="80" fill="#000"/>
<rect x="500" y="248" width="1" height="80" fill="#000"/>
<rect x="71" y="326" width="9" height="1" fill="#000"/>
<rect x="501" y="326" width="9" height="1" fill="#000"/>
<rect x="75" y="324" width="5" height="1" fill="#000"/>
<rect x="501" y="324" width="5" height="1" fill="#000"/>
<rect x="75" y="321" width="5" height="1" fill="#000"/>
<rect x="501" y="321" width="5" height="1" fill="#000"/>
<rect x="75" y="319" width="5" height="1" fill="#000"/>
<rect x="501" y="319" width="5" height="1" fill="#000"/>
<rect x="75" y="316" width="5" height="1" fill="#000"/>
<rect x="501" y="316" width="5" height="1" fill="#000"/>
<rect x="71" y="314" width="9" height="1" fill="#000"/>
<rect x="501" y="314" width="9" height="1" fill="#000"/>
<rect x="75" y="311" width="5" height="1" fill="#000"/>
<rect x="501" y="311" width="5" height="1" fill="#000"/>
<rect x="75" y="308" width="5" height="1" fill="#000"/>
<rect x="501" y="308" width="5" height="1" fill="#000"/>
<rect x="75" y="306" width="5" height="1" fill="#000"/>
<rect x="501" y="306" width="5" height="1" fill="#000"/>
<rect x="75" y="303" width="5" height="1" fill="#000"/>
<rect x="501" y="303" width="5" height="1" fill="#000"/>
<rect x="71" y="301" width="9" height="1" fill="#000"/>
<rect x="501" y="301" width="9" height="1" fill="#000"/>
<rect x="75" y="298" width="5" height="1" fill="#000"/>
<rect x="501" y="298" width="5" height="1" fill="#000"/>
<rect x="75" y="295" width="5" height="1" fill="#000"/>
<rect x="501" y="295" width="5" height="1" fill="#000"/>
<rect x="75" y="293" width="5" height="1" fill="#000"/>
<rect x="501" y="293" width="5" height="1" fill="#000"/>
<rect x="75" y="290" width="5" height="1" fill="#000"/>
<rect x="501" y="290" width="5" height="1" fill="#000"/>
<rect x="71" y="288" width="9" height="1" fill="#000"/>
<rect x="501" y="288" width="9" height="1" fill="#000"/>
<rect x="75" y="285" width="5" height="1" fill="#000"/>
<rect x="501" y="285" width="5" height="1" fill="#000"/>
<rect x="75" y="283" width="5" height="1" fill="#000"/>
<rect x="501" y="283" width="5" height="1" fill="#000"/>
<rect x="75" y="280" width="5" height="1" fill="#000"/>
<rect x="501" y="280" width="5" height="1" fill="#000"/>
<rect x="75" y="277" width="5" height="1" fill="#000"/>
<rect x="501" y="277" width="5" height="1" fill="#000"/>
<rect x="71" y="275" width="9" height="1" fill="#000"/>
<rect x="501" y="275" width="9" height="1" fill="#000"/>
<rect x="75" y="272" width="5" height="1" fill="#000"/>
<rect x="501" y="272" width="5" height="1" fill="#000"/>
<rect x="75" y="270" width="5" height="1" fill="#000"/>
<rect x="501" y="270" width="5" height="1" fill="#000"/>
<rect x="75" y="267" width="5" height="1" fill="#000"/>
<rect x="501" y="267" width="5" height="1" fill="#000"/>
<rect x="75" y="264" width="5" height="1" fill="#000"/>
<rect x="501" y="264" width="5" height="1" fill="#000"/>
<rect x="71" y="262" width="9" height="1" fill="#000"/>
<rect x="501" y="262" width="9" height="1" fill="#000"/>
<rect x="75" y="259" width="5" height="1" fill="#000"/>
<rect x="501" y="259" width="5" height="1" fill="#000"/>
<rect x="75" y="257" width="5" height="1" fill="#000"/>
<rect x="501" y="257" width="5" height="1" fill="#000"/>
<rect x="75" y="254" width="5" height="1" fill="#000"/>
<rect x="501" y="254" width="5" height="1" fill="#000"/>
<rect x="75" y="252" width="5" height="1" fill="#000"/>
<rect x="501" y="252" width="5" height="1" fill="#000"/>
<rect x="71" y="249" width="9" height="1" fill="#000"/>
<rect x="501" y="249" width="9" height="1" fill="#000"/>
<rect x="115" y="327" width="1" height="1" fill="#000"/>
<rect x="150" y="327" width="1" height="1" fill="#000"/>
<rect x="185" y="327" width="1" height="1" fill="#000"/>
<rect x="185" y="248" width="1" height="1" fill="#000"/>
<rect x="220" y="327" width="1" height="1" fill="#000"/>
<rect x="255" y="327" width="1" height="1" fill="#000"/>
<rect x="290" y="327" width="1" height="1" fill="#000"/>
<rect x="290" y="248" width="1" height="1" fill="#000"/>
<rect x="325" y="327" width="1" height="1" fill="#000"/>
<rect x="360" y="327" width="1" height="1" fill="#000"/>
<rect x="395" y="327" width="1" height="1" fill="#000"/>
<rect x="395" y="248" width="1" height="1" fill="#000"/>
<rect x="430" y="327" width="1" height="1" fill="#000"/>
<rect x="465" y="327" width="1" height="1" fill="#000"/>
<rect x="80" y="364" width="421" height="1" fill="#000"/>
<rect x="80" y="440" width="421" height="2" fill="#000"/>
<rect x="80" y="363" width="1" height="80" fill="#000"/>
<rect x="500" y="363" width="1" height="80" fill="#000"/>
<rect x="71" y="441" width="9" height="1" fill="#000"/>
<rect x="501" y="441" width="9" height="1" fill="#000"/>
<rect x="75" y="439" width="5" height="1" fill="#000"/>
<rect x="501" y="439" width="5" height="1" fill="#000"/>
<rect x="75" y="436" width="5" height="1" fill="#000"/>
<rect x="501" y="436" width="5" height="1" fill="#000"/>
<rect x="75" y="434" width="5" height="1" fill="#000"/>
<rect x="501" y="434" width="5" height="1" fill="#000"/>
<rect x="75" y="431" width="5" height="1" fill="#000"/>
<rect x="501" y="431" width="5" height="1" fill="#000"/>
<rect x="71" y="429" width="9" height="1" fill="#000"/>
<rect x="501" y="429" width="9" height="1" fill="#000"/>
<rect x="75" y="426" width="5" height="1" fill="#000"/>
<rect x="501" y="426" width="5" height="1" fill="#000"/>
<rect x="75" y="423" width="5" height="1" fill="#000"/>
<rect x="501" y="423" width="5" height="1" fill="#000"/>
<rect x="75" y="421" width="5" height="1" fill="#000"/>
<rect x="501" y="421" width="5" height="1" fill="#000"/>
<rect x="75" y="418" width="5" height="1" fill="#000"/>
<rect x="501" y="418" width="5" height="1" fill="#000"/>
<rect x="71" y="416" width="9" height="1" fill="#000"/>
<rect x="501" y="416" width="9" height="1" fill="#000"/>
<rect x="75" y="413" width="5" height="1" fill="#000"/>
<rect x="501" y="413" width="5" height="1" fill="#000"/>
<rect x="75" y="410" width="5" height="1" fill="#000"/>
<rect x="501" y="410" width="5" height="1" fill="#000"/>
<rect x="75" y="408" width="5" height="1" fill="#000"/>
<rect x="501" y="408" width="5" height="1" fill="#000"/>
<rect x="75" y="405" width="5" height="1" fill="#000"/>
<rect x="501" y="405" width="5" height="1" fill="#000"/>
<rect x="71" y="403" width="9" height="1" fill="#000"/>
<rect x="501" y="403" width="9" height="1" fill="#000"/>
<rect x="75" y="400" width="5" height="1" fill="#000"/>
<rect x="501" y="400" width="5" height="1" fill="#000"/>
<rect x="75" y="398" width="5" height="1" fill="#000"/>
<rect x="501" y="398" width="5" height="1" fill="#000"/>
<rect x="75" y="395" width="5" height="1" fill="#000"/>
<rect x="501" y="395" width="5" height="1" fill="#000"/>
<rect x="75" y="392" width="5" height="1" fill="#000"/>
<rect x="501" y="392" width="5" height="1" fill="#000"/>
<rect x="71" y="390" width="9" height="1" fill="#000"/>
<rect x="501" y="390" width="9" height="1" fill="#000"/>
<rect x="75" y="387" width="5" height="1" fill="#000"/>
<rect x="501" y="387" width="5" height="1" fill="#000"/>
<rect x="75" y="385" width="5" height="1" fill="#000"/>
<rect x="501" y="385" width="5" height="1" fill="#000"/>
<rect x="75" y="382" width="5" height="1" fill="#000"/>
<rect x="501" y="382" width="5" height="1" fill="#000"/>
<rect x="75" y="379" width="5" height="1" fill="#000"/>
<rect x="501" y="379" width="5" height="1" fill="#000"/>
<rect x="71" y="377" width="9" height="1" fill="#000"/>
<rect x="501" y="377" width="9" height="1" fill="#000"/>
<rect x="75" y="374" width="5" height="1" fill="#000"/>
<rect x="501" y="374" width="5" height="1" fill="#000"/>
<rect x="75" y="372" width="5" height="1" fill="#000"/>
<rect x="501" y="372" width="5" height="1" fill="#000"/>
<rect x="75" y="369" width="5" height="1" fill="#000"/>
<rect x="501" y="369" width="5" height="1" fill="#000"/>
<rect x="75" y="367" width="5" height="1" fill="#000"/>
<rect x="501" y="367" width="5" height="1" fill="#000"/>
<rect x="71" y="364" width="9" height="1" fill="#000"/>
<rect x="501" y="364" width="9" height="1" fill="#000"/>
<rect x="115" y="442" width="1" height="1" fill="#000"/>
<rect x="150" y="442" width="1" height="1" fill="#000"/>
<rect x="185" y="442" width="1" height="1" fill="#000"/>
<rect x="185" y="363" width="1" height="1" fill="#000"/>
<rect x="220" y="442" width="1" height="1" fill="#000"/>
<rect x="255" y="442" width="1" height="1" fill="#000"/>
<rect x="290" y="442" width="1" height="1" fill="#000"/>
<rect x="290" y="363" width="1" height="1" fill="#000"/>
<rect x="325" y="442" width="1" height="1" fill="#000"/>
<rect x="360" y="442" width="1" height="1" fill="#000"/>
<rect x="395" y="442" width="1" height="1" fill="#000"/>
<rect x="395" y="363" width="1" height="1" fill="#000"/>
<rect x="430" y="442" width="1" height="1" fill="#000"/>
<rect x="465" y="442" width="1" height="1" fill="#000"/>
<rect x="80" y="460" width="421" height="1" fill="#000"/>
<rect x="80" y="536" width="421" height="2" fill="#000"/>
<rect x="80" y="459" width="1" height="80" fill="#000"/>
<rect x="500" y="459" width="1" height="80" fill="#000"/>
<rect x="71" y="537" width="9" height="1" fill="#000"/>
<rect x="501" y="537" width="9" height="1" fill="#000"/>
<rect x="75" y="535" width="5" height="1" fill="#000"/>
<rect x="501" y="535" width="5" height="1" fill="#000"/>
<rect x="75" y="532" width="5" height="1" fill="#000"/>
<rect x="501" y="532" width="5" height="1" fill="#000"/>
<rect x="75" y="530" width="5" height="1" fill="#000"/>
<rect x="501" y="530" width="5" height="1" fill="#000"/>
<rect x="75" y="527" width="5" height="1" fill="#000"/>
<rect x="501" y="527" width="5" height="1" fill="#000"/>
<rect x="71" y="525" width="9" height="1" fill="#000"/>
<rect x="501" y="525" width="9" height="1" fill="#000"/>
<rect x="75" y="522" width="5" height="1" fill="#000"/>
<rect x="501" y="522" width="5" height="1" fill="#000"/>
<rect x="75" y="519" width="5" height="1" fill="#000"/>
<rect x="501" y="519" width="5" height="1" fill="#000"/>
<rect x="75" y="517" width="5" height="1" fill="#000"/>
<rect x="501" y="517" width="5" height="1" fill="#000"/>
<rect x="75" y="514" width="5" height="1" fill="#000"/>
<rect x="501" y="514" width="5" height="1" fill="#000"/>
<rect x="71" y="512" width="9" height="1" fill="#000"/>
<rect x="501" y="512" width="9" height="1" fill="#000"/>
<rect x="75" y="509" width="5" height="1" fill="#000"/>
<rect x="501" y="509" width="5" height="1" fill="#000"/>
<rect x="75" y="506" width="5" height="1" fill="#000"/>
<rect x="501" y="506" width="5" height="1" fill="#000"/>
<rect x="75" y="504" width="5" height="1" fill="#000"/>
<rect x="501" y="504" width="5" height="1" fill="#000"/>
<rect x="75" y="501" width="5" height="1" fill="#000"/>
<rect x="501" y="501" width="5" height="1" fill="#000"/>
<rect x="71" y="499" width="9" height="1" fill="#000"/>
<rect x="501" y="499" width="9" height="1" fill="#000"/>
<rect x="75" y="496" width="5" height="1" fill="#000"/>
<rect x="501" y="496" width="5" height="1" fill="#000"/>
<rect x="75" y="494" width="5" height="1" fill="#000"/>
<rect x="501" y="494" width="5" height="1" fill="#000"/>
<rect x="75" y="491" width="5" height="1" fill="#000"/>
<rect x="501" y="491" width="5" height="1" fill="#000"/>
<rect x="75" y="488" width="5" height="1" fill="#000"/>
<rect x="501" y="488" width="5" height="1" fill="#000"/>
<rect x="71" y="486" width="9" height="1" fill="#000"/>
<rect x="501" y="486" width="9" height="1" fill="#000"/>
<rect x="75" y="483" width="5" height="1" fill="#000"/>
<rect x="501" y="483" width="5" height="1" fill="#000"/>
<rect x="75" y="481" width="5" height="1" fill="#000"/>
<rect x="501" y="481" width="5" height="1" fill="#000"/>
<rect x="75" y="478" width="5" height="1" fill="#000"/>
<rect x="501" y="478" width="5" height="1" fill="#000"/>
<rect x="75" y="475" width="5" height="1" fill="#000"/>
<rect x="501" y="475" width="5" height="1" fill="#000"/>
<rect x="71" y="473" width="9" height="1" fill="#000"/>
<rect x="501" y="473" width="9" height="1" fill="#000"/>
<rect x="75" y="470" width="5" height="1" fill="#000"/>
<rect x="501" y="470" width="5" height="1" fill="#000"/>
<rect x="75" y="468" width="5" height="1" fill="#000"/>
<rect x="501" y="468" width="5" height="1" fill="#000"/>
<rect x="75" y="465" width="5" height="1" fill="#000"/>
<rect x="501" y="465" width="5" height="1" fill="#000"/>
<rect x="75" y="463" width="5" height="1" fill="#000"/>
<rect x="501" y="463" width="5" height="1" fill="#000"/>
<rect x="71" y="460" width="9" height="1" fill="#000"/>
<rect x="501" y="460" width="9" height="1" fill="#000"/>
<rect x="115" y="538" width="1" height="1" fill="#000"/>
<rect x="150" y="538" width="1" height="1" fill="#000"/>
<rect x="185" y="538" width="1" height="1" fill="#000"/>
<rect x="185" y="459" width="1" height="1" fill="#000"/>
<rect x="220" y="538" width="1" height="1" fill="#000"/>
<rect x="255" y="538" width="1" height="1" fill="#000"/>
<rect x="290" y="538" width="1" height="1" fill="#000"/>
<rect x="290" y="459" width="1" height="1" fill="#000"/>
<rect x="325" y="538" width="1" height="1" fill="#000"/>
<rect x="360" y="538" width="1" height="1" fill="#000"/>
<rect x="395" y="538" width="1" height="1" fill="#000"/>
<rect x="395" y="459" width="1" height="1" fill="#000"/>
<rect x="430" y="538" width="1" height="1" fill="#000"/>
<rect x="465" y="538" width="1" height="1" fill="#000"/>
<rect x="80" y="556" width="421" height="1" fill="#000"/>
<rect x="80" y="632" width="421" height="2" fill="#000"/>
<rect x="80" y="555" width="1" height="80" fill="#000"/>
<rect x="500" y="555" width="1" height="80" fill="#000"/>
<rect x="71" y="633" width="9" height="1" fill="#000"/>
<rect x="501" y="633" width="9" height="1" fill="#000"/>
<rect x="75" y="631" width="5" height="1" fill="#000"/>
<rect x="501" y="631" width="5" height="1" fill="#000"/>
<rect x="75" y="628" width="5" height="1" fill="#000"/>
<rect x="501" y="628" width="5" height="1" fill="#000"/>
<rect x="75" y="626" width="5" height="1" fill="#000"/>
<rect x="501" y="626" width="5" height="1" fill="#000"/>
<rect x="75" y="623" width="5" height="1" fill="#000"/>
<rect x="501" y="623" width="5" height="1" fill="#000"/>
<rect x="71" y="621" width="9" height="1" fill="#000"/>
<rect x="501" y="621" width="9" height="1" fill="#000"/>
<rect x="75" y="618" width="5" height="1" fill="#000"/>
<rect x="501" y="618" width="5" height="1" fill="#000"/>
<rect x="75" y="615" width="5" height="1" fill="#000"/>
<rect x="501" y="615" width="5" height="1" fill="#000"/>
<rect x="75" y="613" width="5" height="1" fill="#000"/>
<rect x="501" y="613" width="5" height="1" fill="#000"/>
<rect x="75" y="610" width="5" height="1" fill="#000"/>
<rect x="501" y="610" width="5" height="1" fill="#000"/>
<rect x="71" y="608" width="9" height="1" fill="#000"/>
<rect x="501" y="608" width="9" height="1" fill="#000"/>
<rect x="75" y="605" width="5" height="1" fill="#000"/>
<rect x="501" y="605" width="5" height="1" fill="#000"/>
<rect x="75" y="602" width="5" height="1" fill="#000"/>
<rect x="501" y="602" width="5" height="1" fill="#000"/>
<rect x="75" y="600" width="5" height="1" fill="#000"/>
<rect x="501" y="600" width="5" height="1" fill="#000"/>
<rect x="75" y="597" width="5" height="1" fill="#000"/>
<rect x="501" y="597" width="5" height="1" fill="#000"/>
<rect x="71" y="595" width="9" height="1" fill="#000"/>
<rect x="501" y="595" width="9" height="1" fill="#000"/>
<rect x="75" y="592" width="5" height="1" fill="#000"/>
<rect x="501" y="592" width="5" height="1" fill="#000"/>
<rect x="75" y="590" width="5" height="1" fill="#000"/>
<rect x="501" y="590" width="5" height="1" fill="#000"/>
<rect x="75" y="587" width="5" height="1" fill="#000"/>
<rect x="501" y="587" width="5" height="1" fill="#000"/>
<rect x="75" y="584" width="5" height="1" fill="#000"/>
<rect x="501" y="584" width="5" height="1" fill="#000"/>
<rect x="71" y="582" width="9" height="1" fill="#000"/>
<rect x="501" y="582" width="9" height="1" fill="#000"/>
<rect x="75" y="579" width="5" height="1" fill="#000"/>
<rect x="501" y="579" width="5" height="1" fill="#000"/>
<rect x="75" y="577" width="5" height="1" fill="#000"/>
<rect x="501" y="577" width="5" height="1" fill="#000"/>
<rect x="75" y="574" width="5" height="1" fill="#000"/>
<rect x="501" y="574" width="5" height="1" fill="#000"/>
<rect x="75" y="571" width="5" height="1" fill="#000"/>
<rect x="501" y="571" width="5" height="1" fill="#000"/>
<rect x="71" y="569" width="9" height="1" fill="#000"/>
<rect x="501" y="569" width="9" height="1" fill="#000"/>
<rect x="75" y="566" width="5" height="1" fill="#000"/>
<rect x="501" y="566" width="5" height="1" fill="#000"/>
<rect x="75" y="564" width="5" height="1" fill="#000"/>
<rect x="501" y="564" width="5" height="1" fill="#000"/>
<rect x="75" y="561" width="5" height="1" fill="#000"/>
<rect x="501" y="561" width="5" height="1" fill="#000"/>
<rect x="75" y="559" width="5" height="1" fill="#000"/>
<rect x="501" y="559" width="5" height="1" fill="#000"/>
<rect x="71" y="556" width="9" height="1" fill="#000"/>
<rect x="501" y="556" width="9" height="1" fill="#000"/>
<rect x="115" y="634" width="1" height="1" fill="#000"/>
<rect x="150" y="634" width="1" height="1" fill="#000"/>
<rect x="185" y="634" width="1" height="1" fill="#000"/>
<rect x="185" y="555" width="1" height="1" fill="#000"/>
<rect x="220" y="634" width="1" height="1" fill="#000"/>
<rect x="255" y="634" width="1" height="1" fill="#000"/>
<rect x="290" y="634" width="1" height="1" fill="#000"/>
<rect x="290" y="555" width="1" height="1" fill="#000"/>
<rect x="325" y="634" width="1" height="1" fill="#000"/>
<rect x="360" y="634" width="1" height="1" fill="#000"/>
<rect x="395" y="634" width="1" height="1" fill="#000"/>
<rect x="395" y="555" width="1" height="1" fill="#000"/>
<rect x="430" y="634" width="1" height="1" fill="#000"/>
<rect x="465" y="634" width="1" height="1" fill="#000"/>
<rect x="581" y="57" width="20" height="77" fill="url(#g239)"/>
<rect x="580" y="57" width="1" height="78" fill="#000"/>
<rect x="601" y="57" width="1" height="78" fill="#000"/>
<rect x="576" y="134" width="30" height="1" fill="#000"/>
<rect x="576" y="134" width="4" height="1" fill="#000"/>
<rect x="602" y="134" width="4" height="1" fill="#000"/>
<rect x="578" y="128" width="2" height="1" fill="#000"/>
<rect x="602" y="128" width="2" height="1" fill="#000"/>
<rect x="578" y="125" width="2" height="1" fill="#000"/>
<rect x="602" y="125" width="2" height="1" fill="#000"/>
<rect x="578" y="122" width="2" height="1" fill="#000"/>
<rect x="602" y="122" width="2" height="1" fill="#000"/>
<rect x="578" y="121" width="2" height="1" fill="#000"/>
<rect x="602" y="121" width="2" height="1" fill="#000"/>
<rect x="578" y="119" width="2" height="1" fill="#000"/>
<rect x="602" y="119" width="2" height="1" fill="#000"/>
<rect x="578" y="118" width="2" height="1" fill="#000"/>
<rect x="602" y="118" width="2" height="1" fill="#000"/>
<rect x="578" y="117" width="2" height="1" fill="#000"/>
<rect x="602" y="117" width="2" height="1" fill="#000"/>
<rect x="578" y="116" width="2" height="1" fill="#000"/>
<rect x="602" y="116" width="2" height="1" fill="#000"/>
<rect x="576" y="115" width="4" height="1" fill="#000"/>
<rect x="602" y="115" width="4" height="1" fill="#000"/>
<rect x="578" y="109" width="2" height="1" fill="#000"/>
<rect x="602" y="109" width="2" height="1" fill="#000"/>
<rect x="578" y="106" width="2" height="1" fill="#000"/>
<rect x="602" y="106" width="2" height="1" fill="#000"/>
<rect x="578" y="103" width="2" height="1" fill="#000"/>
<rect x="602" y="103" width="2" height="1" fill="#000"/>
<rect x="578" y="101" width="2" height="1" fill="#000"/>
<rect x="602" y="101" width="2" height="1" fill="#000"/>
<rect x="578" y="100" width="2" height="1" fill="#000"/>
<rect x="602" y="100" width="2" height="1" fill="#000"/>
<rect x="578" y="98" width="2" height="1" fill="#000"/>
<rect x="602" y="98" width="2" height="1" fill="#000"/>
<rect x="578" y="97" width="2" height="1" fill="#000"/>
<rect x="602" y="97" width="2" height="1" fill="#000"/>
<rect x="578" y="96" width="2" height="1" fill="#000"/>
<rect x="602" y="96" width="2" height="1" fill="#000"/>
<rect x="576" y="96" width="4" height="1" fill="#000"/>
<rect x="602" y="96" width="4" height="1" fill="#000"/>
<rect x="578" y="90" width="2" height="1" fill="#000"/>
<rect x="602" y="90" width="2" height="1" fill="#000"/>
<rect x="578" y="86" width="2" height="1" fill="#000"/>
<rect x="602" y="86" width="2" height="1" fill="#000"/>
<rect x="578" y="84" width="2" height="1" fill="#000"/>
<rect x="602" y="84" width="2" height="1" fill="#000"/>
<rect x="578" y="82" width="2" height="1" fill="#000"/>
<rect x="602" y="82" width="2" height="1" fill="#000"/>
<rect x="578" y="81" width="2" height="1" fill="#000"/>
<rect x="602" y="81" width="2" height="1" fill="#000"/>
<rect x="578" y="79" width="2" height="1" fill="#000"/>
<rect x="602" y="79" width="2" height="1" fill="#000"/>
<rect x="578" y="78" width="2" height="1" fill="#000"/>
<rect x="602" y="78" width="2" height="1" fill="#000"/>
<rect x="578" y="77" width="2" height="1" fill="#000"/>
<rect x="602" y="77" width="2" height="1" fill="#000"/>
<rect x="576" y="76" width="4" height="1" fill="#000"/>
<rect x="602" y="76" width="4" height="1" fill="#000"/>
<rect x="578" y="70" width="2" height="1" fill="#000"/>
<rect x="602" y="70" width="2" height="1" fill="#000"/>
<rect x="578" y="67" width="2" height="1" fill="#000"/>
<rect x="602" y="67" width="2" height="1" fill="#000"/>
<rect x="578" y="65" width="2" height="1" fill="#000"/>
<rect x="602" y="65" width="2" height="1" fill="#000"/>
<rect x="578" y="63" width="2" height="1" fill="#000"/>
<rect x="602" y="63" width="2" height="1" fill="#000"/>
<rect x="578" y="61" width="2" height="1" fill="#000"/>
<rect x="602" y="61" width="2" height="1" fill="#000"/>
<rect x="578" y="60" width="2" height="1" fill="#000"/>
<rect x="602" y="60" width="2" height="1" fill="#000"/>
<rect x="578" y="59" width="2" height="1" fill="#000"/>
<rect x="602" y="59" width="2" height="1" fill="#000"/>
<rect x="578" y="58" width="2" height="1" fill="#000"/>
<rect x="602" y="58" width="2" height="1" fill="#000"/>
<rect x="576" y="57" width="4" height="1" fill="#000"/>
<rect x="602" y="57" width="4" height="1" fill="#000"/>
<rect x="581" y="153" width="20" height="77" fill="url(#g240)"/>
<rect x="580" y="153" width="1" height="78" fill="#000"/>
<rect x="601" y="153" width="1" height="78" fill="#000"/>
<rect x="576" y="230" width="30" height="1" fill="#000"/>
<rect x="576" y="230" width="4" height="1" fill="#000"/>
<rect x="602" y="230" width="4" height="1" fill="#000"/>
<rect x="578" y="224" width="2" height="1" fill="#000"/>
<rect x="602" y="224" width="2" height="1" fill="#000"/>
<rect x="578" y="221" width="2" height="1" fill="#000"/>
<rect x="602" y="221" width="2" height="1" fill="#000"/>
<rect x="578" y="218" width="2" height="1" fill="#000"/>
<rect x="602" y="218" width="2" height="1" fill="#000"/>
<rect x="578" y="217" width="2" height="1" fill="#000"/>
<rect x="602" y="217" width="2" height="1" fill="#000"/>
<rect x="578" y="215" width="2" height="1" fill="#000"/>
<rect x="602" y="215" width="2" height="1" fill="#000"/>
<rect x="578" y="214" width="2" height="1" fill="#000"/>
<rect x="602" y="214" width="2" height="1" fill="#000"/>
<rect x="578" y="213" width="2" height="1" fill="#000"/>
<rect x="602" y="213" width="2" height="1" fill="#000"/>
<rect x="578" y="212" width="2" height="1" fill="#000"/>
<rect x="602" y="212" width="2" height="1" fill="#000"/>
<rect x="576" y="211" width="4" height="1" fill="#000"/>
<rect x="602" y="211" width="4" height="1" fill="#000"/>
<rect x="578" y="205" width="2" height="1" fill="#000"/>
<rect x="602" y="205" width="2" height="1" fill="#000"/>
<rect x="578" y="202" width="2" height="1" fill="#000"/>
<rect x="602" y="202" width="2" height="1" fill="#000"/>
<rect x="578" y="199" width="2" height="1" fill="#000"/>
<rect x="602" y="199" width="2" height="1" fill="#000"/>
<rect x="578" y="197" width="2" height="1" fill="#000"/>
<rect x="602" y="197" width="2" height="1" fill="#000"/>
<rect x="578" y="196" width="2" height="1" fill="#000"/>
<rect x="602" y="196" width="2" height="1" fill="#000"/>
<rect x="578" y="194" width="2" height="1" fill="#000"/>
<rect x="602" y="194" width="2" height="1" fill="#000"/>
<rect x="578" y="193" width="2" height="1" fill="#000"/>
<rect x="602" y="193" width="2" height="1" fill="#000"/>
<rect x="578" y="192" width="2" height="1" fill="#000"/>
<rect x="602" y="192" width="2" height="1" fill="#000"/>
<rect x="576" y="192" width="4" height="1" fill="#000"/>
<rect x="602" y="192" width="4" height="1" fill="#000"/>
<rect x="578" y="186" width="2" height="1" fill="#000"/>
<rect x="602" y="186" width="2" height="1" fill="#000"/>
<rect x="578" y="182" width="2" height="1" fill="#000"/>
<rect x="602" y="182" width="2" height="1" fill="#000"/>
<rect x="578" y="180" width="2" height="1" fill="#000"/>
<rect x="602" y="180" width="2" height="1" fill="#000"/>
<rect x="578" y="178" width="2" height="1" fill="#000"/>
<rect x="602" y="178" width="2" height="1" fill="#000"/>
<rect x="578" y="177" width="2" height="1" fill="#000"/>
<rect x="602" y="177" width="2" height="1" fill="#000"/>
<rect x="578" y="175" width="2" height="1" fill="#000"/>
<rect x="602" y="175" width="2" height="1" fill="#000"/>
<rect x="578" y="174" width="2" height="1" fill="#000"/>
<rect x="602" y="174" width="2" height="1" fill="#000"/>
<rect x="578" y="173" width="2" height="1" fill="#000"/>
<rect x="602" y="173" width="2" height="1" fill="#000"/>
<rect x="576" y="172" width="4" height="1" fill="#000"/>
<rect x="602" y="172" width="4" height="1" fill="#000"/>
<rect x="578" y="166" width="2" height="1" fill="#000"/>
<rect x="602" y="166" width="2" height="1" fill="#000"/>
<rect x="578" y="163" width="2" height="1" fill="#000"/>
<rect x="602" y="163" width="2" height="1" fill="#000"/>
<rect x="578" y="161" width="2" height="1" fill="#000"/>
<rect x="602" y="161" width="2" height="1" fill="#000"/>
<rect x="578" y="159" width="2" height="1" fill="#000"/>
<rect x="602" y="159" width="2" height="1" fill="#000"/>
<rect x="578" y="157" width="2" height="1" fill="#000"/>
<rect x="602" y="157" width="2" height="1" fill="#000"/>
<rect x="578" y="156" width="2" height="1" fill="#000"/>
<rect x="602" y="156" width="2" height="1" fill="#000"/>
<rect x="578" y="155" width="2" height="1" fill="#000"/>
<rect x="602" y="155" width="2" height="1" fill="#000"/>
<rect x="578" y="154" width="2" height="1" fill="#000"/>
<rect x="602" y="154" width="2" height="1" fill="#000"/>
<rect x="576" y="153" width="4" height="1" fill="#000"/>
<rect x="602" y="153" width="4" height="1" fill="#000"/>
<rect x="581" y="249" width="20" height="77" fill="url(#g241)"/>
<rect x="580" y="249" width="1" height="78" fill="#000"/>
<rect x="601" y="249" width="1" height="78" fill="#000"/>
<rect x="576" y="326" width="30" height="1" fill="#000"/>
<rect x="576" y="326" width="4" height="1" fill="#000"/>
<rect x="602" y="326" width="4" height="1" fill="#000"/>
<rect x="578" y="318" width="2" height="1" fill="#000"/>
<rect x="602" y="318" width="2" height="1" fill="#000"/>
<rect x="578" y="314" width="2" height="1" fill="#000"/>
<rect x="602" y="314" width="2" height="1" fill="#000"/>
<rect x="578" y="311" width="2" height="1" fill="#000"/>
<rect x="602" y="311" width="2" height="1" fill="#000"/>
<rect x="578" y="308" width="2" height="1" fill="#000"/>
<rect x="602" y="308" width="2" height="1" fill="#000"/>
<rect x="578" y="306" width="2" height="1" fill="#000"/>
<rect x="602" y="306" width="2" height="1" fill="#000"/>
<rect x="578" y="304" width="2" height="1" fill="#000"/>
<rect x="602" y="304" width="2" height="1" fill="#000"/>
<rect x="578" y="303" width="2" height="1" fill="#000"/>
<rect x="602" y="303" width="2" height="1" fill="#000"/>
<rect x="578" y="302" width="2" height="1" fill="#000"/>
<rect x="602" y="302" width="2" height="1" fill="#000"/>
<rect x="576" y="300" width="4" height="1" fill="#000"/>
<rect x="602" y="300" width="4" height="1" fill="#000"/>
<rect x="578" y="293" width="2" height="1" fill="#000"/>
<rect x="602" y="293" width="2" height="1" fill="#000"/>
<rect x="578" y="288" width="2" height="1" fill="#000"/>
<rect x="602" y="288" width="2" height="1" fill="#000"/>
<rect x="578" y="285" width="2" height="1" fill="#000"/>
<rect x="602" y="285" width="2" height="1" fill="#000"/>
<rect x="578" y="282" width="2" height="1" fill="#000"/>
<rect x="602" y="282" width="2" height="1" fill="#000"/>
<rect x="578" y="280" width="2" height="1" fill="#000"/>
<rect x="602" y="280" width="2" height="1" fill="#000"/>
<rect x="578" y="279" width="2" height="1" fill="#000"/>
<rect x="602" y="279" width="2" height="1" fill="#000"/>
<rect x="578" y="277" width="2" height="1" fill="#000"/>
<rect x="602" y="277" width="2" height="1" fill="#000"/>
<rect x="578" y="276" width="2" height="1" fill="#000"/>
<rect x="602" y="276" width="2" height="1" fill="#000"/>
<rect x="576" y="275" width="4" height="1" fill="#000"/>
<rect x="602" y="275" width="4" height="1" fill="#000"/>
<rect x="578" y="267" width="2" height="1" fill="#000"/>
<rect x="602" y="267" width="2" height="1" fill="#000"/>
<rect x="578" y="262" width="2" height="1" fill="#000"/>
<rect x="602" y="262" width="2" height="1" fill="#000"/>
<rect x="578" y="259" width="2" height="1" fill="#000"/>
<rect x="602" y="259" width="2" height="1" fill="#000"/>
<rect x="578" y="257" width="2" height="1" fill="#000"/>
<rect x="602" y="257" width="2" height="1" fill="#000"/>
<rect x="578" y="255" width="2" height="1" fill="#000"/>
<rect x="602" y="255" width="2" height="1" fill="#000"/>
<rect x="578" y="253" width="2" height="1" fill="#000"/>
<rect x="602" y="253" width="2" height="1" fill="#000"/>
<rect x="578" y="251" width="2" height="1" fill="#000"/>
<rect x="602" y="251" width="2" height="1" fill="#000"/>
<rect x="578" y="250" width="2" height="1" fill="#000"/>
<rect x="602" y="250" width="2" height="1" fill="#000"/>
<rect x="576" y="249" width="4" height="1" fill="#000"/>
<rect x="602" y="249" width="4" height="1" fill="#000"/>
<rect x="581" y="364" width="20" height="77" fill="url(#g242)"/>
<rect x="580" y="364" width="1" height="78" fill="#000"/>
<rect x="601" y="364" width="1" height="78" fill="#000"/>
<rect x="576" y="441" width="30" height="1" fill="#000"/>
<rect x="576" y="441" width="4" height="1" fill="#000"/>
<rect x="602" y="441" width="4" height="1" fill="#000"/>
<rect x="578" y="436" width="2" height="1" fill="#000"/>
<rect x="602" y="436" width="2" height="1" fill="#000"/>
<rect x="578" y="434" width="2" height="1" fill="#000"/>
<rect x="602" y="434" width="2" height="1" fill="#000"/>
<rect x="578" y="432" width="2" height="1" fill="#000"/>
<rect x="602" y="432" width="2" height="1" fill="#000"/>
<rect x="578" y="430" width="2" height="1" fill="#000"/>
<rect x="602" y="430" width="2" height="1" fill="#000"/>
<rect x="578" y="429" width="2" height="1" fill="#000"/>
<rect x="602" y="429" width="2" height="1" fill="#000"/>
<rect x="578" y="428" width="2" height="1" fill="#000"/>
<rect x="602" y="428" width="2" height="1" fill="#000"/>
<rect x="578" y="427" width="2" height="1" fill="#000"/>
<rect x="602" y="427" width="2" height="1" fill="#000"/>
<rect x="578" y="426" width="2" height="1" fill="#000"/>
<rect x="602" y="426" width="2" height="1" fill="#000"/>
<rect x="576" y="426" width="4" height="1" fill="#000"/>
<rect x="602" y="426" width="4" height="1" fill="#000"/>
<rect x="578" y="421" width="2" height="1" fill="#000"/>
<rect x="602" y="421" width="2" height="1" fill="#000"/>
<rect x="578" y="418" width="2" height="1" fill="#000"/>
<rect x="602" y="418" width="2" height="1" fill="#000"/>
<rect x="578" y="416" width="2" height="1" fill="#000"/>
<rect x="602" y="416" width="2" height="1" fill="#000"/>
<rect x="578" y="415" width="2" height="1" fill="#000"/>
<rect x="602" y="415" width="2" height="1" fill="#000"/>
<rect x="578" y="414" width="2" height="1" fill="#000"/>
<rect x="602" y="414" width="2" height="1" fill="#000"/>
<rect x="578" y="413" width="2" height="1" fill="#000"/>
<rect x="602" y="413" width="2" height="1" fill="#000"/>
<rect x="578" y="412" width="2" height="1" fill="#000"/>
<rect x="602" y="412" width="2" height="1" fill="#000"/>
<rect x="578" y="411" width="2" height="1" fill="#000"/>
<rect x="602" y="411" width="2" height="1" fill="#000"/>
<rect x="576" y="410" width="4" height="1" fill="#000"/>
<rect x="602" y="410" width="4" height="1" fill="#000"/>
<rect x="578" y="406" width="2" height="1" fill="#000"/>
<rect x="602" y="406" width="2" height="1" fill="#000"/>
<rect x="578" y="403" width="2" height="1" fill="#000"/>
<rect x="602" y="403" width="2" height="1" fill="#000"/>
<rect x="578" y="401" width="2" height="1" fill="#000"/>
<rect x="602" y="401" width="2" height="1" fill="#000"/>
<rect x="578" y="399" width="2" height="1" fill="#000"/>
<rect x="602" y="399" width="2" height="1" fill="#000"/>
<rect x="578" y="398" width="2" height="1" fill="#000"/>
<rect x="602" y="398" width="2" height="1" fill="#000"/>
<rect x="578" y="397" width="2" height="1" fill="#000"/>
<rect x="602" y="397" width="2" height="1" fill="#000"/>
<rect x="578" y="396" width="2" height="1" fill="#000"/>
<rect x="602" y="396" width="2" height="1" fill="#000"/>
<rect x="578" y="396" width="2" height="1" fill="#000"/>
<rect x="602" y="396" width="2" height="1" fill="#000"/>
<rect x="576" y="395" width="4" height="1" fill="#000"/>
<rect x="602" y="395" width="4" height="1" fill="#000"/>
<rect x="578" y="390" width="2" height="1" fill="#000"/>
<rect x="602" y="390" width="2" height="1" fill="#000"/>
<rect x="578" y="387" width="2" height="1" fill="#000"/>
<rect x="602" y="387" width="2" height="1" fill="#000"/>
<rect x="578" y="386" width="2" height="1" fill="#000"/>
<rect x="602" y="386" width="2" height="1" fill="#000"/>
<rect x="578" y="384" width="2" height="1" fill="#000"/>
<rect x="602" y="384" width="2" height="1" fill="#000"/>
<rect x="578" y="383" width="2" height="1" fill="#000"/>
<rect x="602" y="383" width="2" height="1" fill="#000"/>
<rect x="578" y="382" width="2" height="1" fill="#000"/>
<rect x="602" y="382" width="2" height="1" fill="#000"/>
<rect x="578" y="381" width="2" height="1" fill="#000"/>
<rect x="602" y="381" width="2" height="1" fill="#000"/>
<rect x="578" y="380" width="2" height="1" fill="#000"/>
<rect x="602" y="380" width="2" height="1" fill="#000"/>
<rect x="576" y="379" width="4" height="1" fill="#000"/>
<rect x="602" y="379" width="4" height="1" fill="#000"/>
<rect x="578" y="375" width="2" height="1" fill="#000"/>
<rect x="602" y="375" width="2" height="1" fill="#000"/>
<rect x="578" y="372" width="2" height="1" fill="#000"/>
<rect x="602" y="372" width="2" height="1" fill="#000"/>
<rect x="578" y="370" width="2" height="1" fill="#000"/>
<rect x="602" y="370" width="2" height="1" fill="#000"/>
<rect x="578" y="369" width="2" height="1" fill="#000"/>
<rect x="602" y="369" width="2" height="1" fill="#000"/>
<rect x="578" y="367" width="2" height="1" fill="#000"/>
<rect x="602" y="367" width="2" height="1" fill="#000"/>
<rect x="578" y="366" width="2" height="1" fill="#000"/>
<rect x="602" y="366" width="2" height="1" fill="#000"/>
<rect x="578" y="365" width="2" height="1" fill="#000"/>
<rect x="602" y="365" width="2" height="1" fill="#000"/>
<rect x="578" y="365" width="2" height="1" fill="#000"/>
<rect x="602" y="365" width="2" height="1" fill="#000"/>
<rect x="576" y="364" width="4" height="1" fill="#000"/>
<rect x="602" y="364" width="4" height="1" fill="#000"/>
<rect x="581" y="460" width="20" height="77" fill="url(#g243)"/>
<rect x="580" y="460" width="1" height="78" fill="#000"/>
<rect x="601" y="460" width="1" height="78" fill="#000"/>
<rect x="576" y="537" width="30" height="1" fill="#000"/>
<rect x="576" y="537" width="4" height="1" fill="#000"/>
<rect x="602" y="537" width="4" height="1" fill="#000"/>
<rect x="578" y="532" width="2" height="1" fill="#000"/>
<rect x="602" y="532" width="2" height="1" fill="#000"/>
<rect x="578" y="530" width="2" height="1" fill="#000"/>
<rect x="602" y="530" width="2" height="1" fill="#000"/>
<rect x="578" y="528" width="2" height="1" fill="#000"/>
<rect x="602" y="528" width="2" height="1" fill="#000"/>
<rect x="578" y="526" width="2" height="1" fill="#000"/>
<rect x="602" y="526" width="2" height="1" fill="#000"/>
<rect x="578" y="525" width="2" height="1" fill="#000"/>
<rect x="602" y="525" width="2" height="1" fill="#000"/>
<rect x="578" y="524" width="2" height="1" fill="#000"/>
<rect x="602" y="524" width="2" height="1" fill="#000"/>
<rect x="578" y="523" width="2" height="1" fill="#000"/>
<rect x="602" y="523" width="2" height="1" fill="#000"/>
<rect x="578" y="522" width="2" height="1" fill="#000"/>
<rect x="602" y="522" width="2" height="1" fill="#000"/>
<rect x="576" y="522" width="4" height="1" fill="#000"/>
<rect x="602" y="522" width="4" height="1" fill="#000"/>
<rect x="578" y="517" width="2" height="1" fill="#000"/>
<rect x="602" y="517" width="2" height="1" fill="#000"/>
<rect x="578" y="514" width="2" height="1" fill="#000"/>
<rect x="602" y="514" width="2" height="1" fill="#000"/>
<rect x="578" y="512" width="2" height="1" fill="#000"/>
<rect x="602" y="512" width="2" height="1" fill="#000"/>
<rect x="578" y="511" width="2" height="1" fill="#000"/>
<rect x="602" y="511" width="2" height="1" fill="#000"/>
<rect x="578" y="510" width="2" height="1" fill="#000"/>
<rect x="602" y="510" width="2" height="1" fill="#000"/>
<rect x="578" y="509" width="2" height="1" fill="#000"/>
<rect x="602" y="509" width="2" height="1" fill="#000"/>
<rect x="578" y="508" width="2" height="1" fill="#000"/>
<rect x="602" y="508" width="2" height="1" fill="#000"/>
<rect x="578" y="507" width="2" height="1" fill="#000"/>
<rect x="602" y="507" width="2" height="1" fill="#000"/>
<rect x="576" y="506" width="4" height="1" fill="#000"/>
<rect x="602" y="506" width="4" height="1" fill="#000"/>
<rect x="578" y="502" width="2" height="1" fill="#000"/>
<rect x="602" y="502" width="2" height="1" fill="#000"/>
<rect x="578" y="499" width="2" height="1" fill="#000"/>
<rect x="602" y="499" width="2" height="1" fill="#000"/>
<rect x="578" y="497" width="2" height="1" fill="#000"/>
<rect x="602" y="497" width="2" height="1" fill="#000"/>
<rect x="578" y="495" width="2" height="1" fill="#000"/>
<rect x="602" y="495" width="2" height="1" fill="#000"/>
<rect x="578" y="494" width="2" height="1" fill="#000"/>
<rect x="602" y="494" width="2" height="1" fill="#000"/>
<rect x="578" y="493" width="2" height="1" fill="#000"/>
<rect x="602" y="493" width="2" height="1" fill="#000"/>
<rect x="578" y="492" width="2" height="1" fill="#000"/>
<rect x="602" y="492" width="2" height="1" fill="#000"/>
<rect x="578" y="492" width="2" height="1" fill="#000"/>
<rect x="602" y="492" width="2" height="1" fill="#000"/>
<rect x="576" y="491" width="4" height="1" fill="#000"/>
<rect x="602" y="491" width="4" height="1" fill="#000"/>
<rect x="578" y="486" width="2" height="1" fill="#000"/>
<rect x="602" y="486" width="2" height="1" fill="#000"/>
<rect x="578" y="483" width="2" height="1" fill="#000"/>
<rect x="602" y="483" width="2" height="1" fill="#000"/>
<rect x="578" y="482" width="2" height="1" fill="#000"/>
<rect x="602" y="482" width="2" height="1" fill="#000"/>
<rect x="578" y="480" width="2" height="1" fill="#000"/>
<rect x="602" y="480" width="2" height="1" fill="#000"/>
<rect x="578" y="479" width="2" height="1" fill="#000"/>
<rect x="602" y="479" width="2" height="1" fill="#000"/>
<rect x="578" y="478" width="2" height="1" fill="#000"/>
<rect x="602" y="478" width="2" height="1" fill="#000"/>
<rect x="578" y="477" width="2" height="1" fill="#000"/>
<rect x="602" y="477" width="2" height="1" fill="#000"/>
<rect x="578" y="476" width="2" height="1" fill="#000"/>
<rect x="602" y="476" width="2" height="1" fill="#000"/>
<rect x="576" y="475" width="4" height="1" fill="#000"/>
<rect x="602" y="475" width="4" height="1" fill="#000"/>
<rect x="578" y="471" width="2" height="1" fill="#000"/>
<rect x="602" y="471" width="2" height="1" fill="#000"/>
<rect x="578" y="468" width="2" height="1" fill="#000"/>
<rect x="602" y="468" width="2" height="1" fill="#000"/>
<rect x="578" y="466" width="2" height="1" fill="#000"/>
<rect x="602" y="466" width="2" height="1" fill="#000"/>
<rect x="578" y="465" width="2" height="1" fill="#000"/>
<rect x="602" y="465" width="2" height="1" fill="#000"/>
<rect x="578" y="463" width="2" height="1" fill="#000"/>
<rect x="602" y="463" width="2" height="1" fill="#000"/>
<rect x="578" y="462" width="2" height="1" fill="#000"/>
<rect x="602" y="462" width="2" height="1" fill="#000"/>
<rect x="578" y="461" width="2" height="1" fill="#000"/>
<rect x="602" y="461" width="2" height="1" fill="#000"/>
<rect x="578" y="461" width="2" height="1" fill="#000"/>
<rect x="602" y="461" width="2" height="1" fill="#000"/>
<rect x="576" y="460" width="4" height="1" fill="#000"/>
<rect x="602" y="460" width="4" height="1" fill="#000"/>
<rect x="581" y="556" width="20" height="77" fill="url(#g244)"/>
<rect x="580" y="556" width="1" height="78" fill="#000"/>
<rect x="601" y="556" width="1" height="78" fill="#000"/>
<rect x="576" y="633" width="30" height="1" fill="#000"/>
<rect x="576" y="633" width="4" height="1" fill="#000"/>
<rect x="602" y="633" width="4" height="1" fill="#000"/>
<rect x="578" y="628" width="2" height="1" fill="#000"/>
<rect x="602" y="628" width="2" height="1" fill="#000"/>
<rect x="578" y="626" width="2" height="1" fill="#000"/>
<rect x="602" y="626" width="2" height="1" fill="#000"/>
<rect x="578" y="624" width="2" height="1" fill="#000"/>
<rect x="602" y="624" width="2" height="1" fill="#000"/>
<rect x="578" y="622" width="2" height="1" fill="#000"/>
<rect x="602" y="622" width="2" height="1" fill="#000"/>
<rect x="578" y="621" width="2" height="1" fill="#000"/>
<rect x="602" y="621" width="2" height="1" fill="#000"/>
<rect x="578" y="620" width="2" height="1" fill="#000"/>
<rect x="602" y="620" width="2" height="1" fill="#000"/>
<rect x="578" y="619" width="2" height="1" fill="#000"/>
<rect x="602" y="619" width="2" height="1" fill="#000"/>
<rect x="578" y="618" width="2" height="1" fill="#000"/>
<rect x="602" y="618" width="2" height="1" fill="#000"/>
<rect x="576" y="618" width="4" height="1" fill="#000"/>
<rect x="602" y="618" width="4" height="1" fill="#000"/>
<rect x="578" y="613" width="2" height="1" fill="#000"/>
<rect x="602" y="613" width="2" height="1" fill="#000"/>
<rect x="578" y="610" width="2" height="1" fill="#000"/>
<rect x="602" y="610" width="2" height="1" fill="#000"/>
<rect x="578" y="608" width="2" height="1" fill="#000"/>
<rect x="602" y="608" width="2" height="1" fill="#000"/>
<rect x="578" y="607" width="2" height="1" fill="#000"/>
<rect x="602" y="607" width="2" height="1" fill="#000"/>
<rect x="578" y="606" width="2" height="1" fill="#000"/>
<rect x="602" y="606" width="2" height="1" fill="#000"/>
<rect x="578" y="605" width="2" height="1" fill="#000"/>
<rect x="602" y="605" width="2" height="1" fill="#000"/>
<rect x="578" y="604" width="2" height="1" fill="#000"/>
<rect x="602" y="604" width="2" height="1" fill="#000"/>
<rect x="578" y="603" width="2" height="1" fill="#000"/>
<rect x="602" y="603" width="2" height="1" fill="#000"/>
<rect x="576" y="602" width="4" height="1" fill="#000"/>
<rect x="602" y="602" width="4" height="1" fill="#000"/>
<rect x="578" y="598" width="2" height="1" fill="#000"/>
<rect x="602" y="598" width="2" height="1" fill="#000"/>
<rect x="578" y="595" width="2" height="1" fill="#000"/>
<rect x="602" y="595" width="2" height="1" fill="#000"/>
<rect x="578" y="593" width="2" height="1" fill="#000"/>
<rect x="602" y="593" width="2" height="1" fill="#000"/>
<rect x="578" y="591" width="2" height="1" fill="#000"/>
<rect x="602" y="591" width="2" height="1" fill="#000"/>
<rect x="578" y="590" width="2" height="1" fill="#000"/>
<rect x="602" y="590" width="2" height="1" fill="#000"/>
<rect x="578" y="589" width="2" height="1" fill="#000"/>
<rect x="602" y="589" width="2" height="1" fill="#000"/>
<rect x="578" y="588" width="2" height="1" fill="#000"/>
<rect x="602" y="588" width="2" height="1" fill="#000"/>
<rect x="578" y="588" width="2" height="1" fill="#000"/>
<rect x="602" y="588" width="2" height="1" fill="#000"/>
<rect x="576" y="587" width="4" height="1" fill="#000"/>
<rect x="602" y="587" width="4" height="1" fill="#000"/>
<rect x="578" y="582" width="2" height="1" fill="#000"/>
<rect x="602" y="582" width="2" height="1" fill="#000"/>
<rect x="578" y="579" width="2" height="1" fill="#000"/>
<rect x="602" y="579" width="2" height="1" fill="#000"/>
<rect x="578" y="578" width="2" height="1" fill="#000"/>
<rect x="602" y="578" width="2" height="1" fill="#000"/>
<rect x="578" y="576" width="2" height="1" fill="#000"/>
<rect x="602" y="576" width="2" height="1" fill="#000"/>
<rect x="578" y="575" width="2" height="1" fill="#000"/>
<rect x="602" y="575" width="2" height="1" fill="#000"/>
<rect x="578" y="574" width="2" height="1" fill="#000"/>
<rect x="602" y="574" width="2" height="1" fill="#000"/>
<rect x="578" y="573" width="2" height="1" fill="#000"/>
<rect x="602" y="573" width="2" height="1" fill="#000"/>
<rect x="578" y="572" width="2" height="1" fill="#000"/>
<rect x="602" y="572" width="2" height="1" fill="#000"/>
<rect x="576" y="571" width="4" height="1" fill="#000"/>
<rect x="602" y="571" width="4" height="1" fill="#000"/>
<rect x="578" y="567" width="2" height="1" fill="#000"/>
<rect x="602" y="567" width="2" height="1" fill="#000"/>
<rect x="578" y="564" width="2" height="1" fill="#000"/>
<rect x="602" y="564" width="2" height="1" fill="#000"/>
<rect x="578" y="562" width="2" height="1" fill="#000"/>
<rect x="602" y="562" width="2" height="1" fill="#000"/>
<rect x="578" y="561" width="2" height="1" fill="#000"/>
<rect x="602" y="561" width="2" height="1" fill="#000"/>
<rect x="578" y="559" width="2" height="1" fill="#000"/>
<rect x="602" y="559" width="2" height="1" fill="#000"/>
<rect x="578" y="558" width="2" height="1" fill="#000"/>
<rect x="602" y="558" width="2" height="1" fill="#000"/>
<rect x="578" y="557" width="2" height="1" fill="#000"/>
<rect x="602" y="557" width="2" height="1" fill="#000"/>
<rect x="578" y="557" width="2" height="1" fill="#000"/>
<rect x="602" y="557" width="2" height="1" fill="#000"/>
<rect x="576" y="556" width="4" height="1" fill="#000"/>
<rect x="602" y="556" width="4" height="1" fill="#000"/>
<text x="120.50" y="32.60" font-size="16.38" textLength="40.74" lengthAdjust="spacingAndGlyphs">Polar</text>
<text x="170.92" y="32.60" font-size="16.38" textLength="27.97" lengthAdjust="spacingAndGlyphs">PWI</text>
<text x="206.51" y="32.60" font-size="16.38" textLength="42.00" lengthAdjust="spacingAndGlyphs">LFWR</text>
<text x="257.23" y="32.60" font-size="16.38" textLength="73.58" lengthAdjust="spacingAndGlyphs">Channels</text>
<text x="340.83" y="32.60" font-size="16.38" textLength="6.79" lengthAdjust="spacingAndGlyphs">1</text>
<text x="380.92" y="32.60" font-size="16.38" textLength="9.79" lengthAdjust="spacingAndGlyphs">6</text>
<text x="399.54" y="32.60" font-size="16.38" textLength="58.49" lengthAdjust="spacingAndGlyphs">Despun</text>
<rect x="360.00" y="27.90" width="10.90" height="1" fill="#000"/>
<text x="562.02" y="37.00" font-size="8.41" textLength="55.66" lengthAdjust="spacingAndGlyphs" style="stroke:none">(V/m)²/Hz</text>
<text x="572.06" y="343.70" font-size="9.71" textLength="34.32" lengthAdjust="spacingAndGlyphs" style="stroke:none">nT²/Hz</text>
<text transform="translate(39.50,140.00) rotate(-90)" x="0" y="0" font-size="15.58" textLength="86.01" lengthAdjust="spacingAndGlyphs">Ex&#8217; freq (Hz)</text>
<text transform="translate(39.50,236.25) rotate(-90)" x="0" y="0" font-size="15.58" textLength="86.52" lengthAdjust="spacingAndGlyphs">Ey&#8217; freq (Hz)</text>
<text transform="translate(39.50,330.64) rotate(-90)" x="0" y="0" font-size="15.58" textLength="82.89" lengthAdjust="spacingAndGlyphs">Ez freq (Hz)</text>
<text transform="translate(39.50,447.88) rotate(-90)" x="0" y="0" font-size="15.58" textLength="88.17" lengthAdjust="spacingAndGlyphs">Bx&#8217; freq (Hz)</text>
<text transform="translate(39.50,543.88) rotate(-90)" x="0" y="0" font-size="15.58" textLength="88.17" lengthAdjust="spacingAndGlyphs">By&#8217; freq (Hz)</text>
<text transform="translate(39.50,634.84) rotate(-90)" x="0" y="0" font-size="15.58" textLength="82.94" lengthAdjust="spacingAndGlyphs">Bz freq (Hz)</text>
<text x="50.42" y="66.20" font-size="13.14" textLength="16.20" lengthAdjust="spacingAndGlyphs">30</text>
<text x="50.26" y="76.00" font-size="14.14" textLength="16.36" lengthAdjust="spacingAndGlyphs">25</text>
<text x="50.26" y="89.00" font-size="14.29" textLength="16.36" lengthAdjust="spacingAndGlyphs">20</text>
<text x="49.87" y="101.80" font-size="14.00" textLength="16.77" lengthAdjust="spacingAndGlyphs">15</text>
<text x="49.87" y="114.80" font-size="14.00" textLength="16.77" lengthAdjust="spacingAndGlyphs">10</text>
<text x="59.28" y="126.80" font-size="12.43" textLength="7.26" lengthAdjust="spacingAndGlyphs">5</text>
<text x="59.28" y="134.70" font-size="13.57" textLength="7.26" lengthAdjust="spacingAndGlyphs">0</text>
<text x="50.42" y="162.20" font-size="13.14" textLength="16.20" lengthAdjust="spacingAndGlyphs">30</text>
<text x="50.26" y="172.00" font-size="14.14" textLength="16.36" lengthAdjust="spacingAndGlyphs">25</text>
<text x="50.26" y="185.00" font-size="14.29" textLength="16.36" lengthAdjust="spacingAndGlyphs">20</text>
<text x="49.87" y="197.80" font-size="14.00" textLength="16.77" lengthAdjust="spacingAndGlyphs">15</text>
<text x="49.87" y="210.80" font-size="14.00" textLength="16.77" lengthAdjust="spacingAndGlyphs">10</text>
<text x="59.28" y="222.80" font-size="12.43" textLength="7.26" lengthAdjust="spacingAndGlyphs">5</text>
<text x="59.28" y="230.70" font-size="13.57" textLength="7.26" lengthAdjust="spacingAndGlyphs">0</text>
<text x="50.42" y="258.20" font-size="13.14" textLength="16.20" lengthAdjust="spacingAndGlyphs">30</text>
<text x="50.26" y="268.00" font-size="14.14" textLength="16.36" lengthAdjust="spacingAndGlyphs">25</text>
<text x="50.26" y="281.00" font-size="14.29" textLength="16.36" lengthAdjust="spacingAndGlyphs">20</text>
<text x="49.87" y="293.80" font-size="14.00" textLength="16.77" lengthAdjust="spacingAndGlyphs">15</text>
<text x="49.87" y="306.80" font-size="14.00" textLength="16.77" lengthAdjust="spacingAndGlyphs">10</text>
<text x="59.28" y="318.80" font-size="12.43" textLength="7.26" lengthAdjust="spacingAndGlyphs">5</text>
<text x="59.28" y="326.70" font-size="13.57" textLength="7.26" lengthAdjust="spacingAndGlyphs">0</text>
<text x="50.42" y="373.20" font-size="13.14" textLength="16.20" lengthAdjust="spacingAndGlyphs">30</text>
<text x="50.26" y="383.00" font-size="14.14" textLength="16.36" lengthAdjust="spacingAndGlyphs">25</text>
<text x="50.26" y="396.00" font-size="14.29" textLength="16.36" lengthAdjust="spacingAndGlyphs">20</text>
<text x="49.87" y="408.80" font-size="14.00" textLength="16.77" lengthAdjust="spacingAndGlyphs">15</text>
<text x="49.87" y="421.80" font-size="14.00" textLength="16.77" lengthAdjust="spacingAndGlyphs">10</text>
<text x="59.28" y="433.80" font-size="12.43" textLength="7.26" lengthAdjust="spacingAndGlyphs">5</text>
<text x="59.28" y="441.70" font-size="13.57" textLength="7.26" lengthAdjust="spacingAndGlyphs">0</text>
<text x="50.42" y="469.20" font-size="13.14" textLength="16.20" lengthAdjust="spacingAndGlyphs">30</text>
<text x="50.26" y="479.00" font-size="14.14" textLength="16.36" lengthAdjust="spacingAndGlyphs">25</text>
<text x="50.26" y="492.00" font-size="14.29" textLength="16.36" lengthAdjust="spacingAndGlyphs">20</text>
<text x="49.87" y="504.80" font-size="14.00" textLength="16.77" lengthAdjust="spacingAndGlyphs">15</text>
<text x="49.87" y="517.80" font-size="14.00" textLength="16.77" lengthAdjust="spacingAndGlyphs">10</text>
<text x="59.28" y="529.80" font-size="12.43" textLength="7.26" lengthAdjust="spacingAndGlyphs">5</text>
<text x="59.28" y="537.70" font-size="13.57" textLength="7.26" lengthAdjust="spacingAndGlyphs">0</text>
<text x="50.42" y="565.20" font-size="13.14" textLength="16.20" lengthAdjust="spacingAndGlyphs">30</text>
<text x="50.26" y="575.00" font-size="14.14" textLength="16.36" lengthAdjust="spacingAndGlyphs">25</text>
<text x="50.26" y="588.00" font-size="14.29" textLength="16.36" lengthAdjust="spacingAndGlyphs">20</text>
<text x="49.87" y="600.80" font-size="14.00" textLength="16.77" lengthAdjust="spacingAndGlyphs">15</text>
<text x="49.87" y="613.80" font-size="14.00" textLength="16.77" lengthAdjust="spacingAndGlyphs">10</text>
<text x="59.28" y="625.80" font-size="12.43" textLength="7.26" lengthAdjust="spacingAndGlyphs">5</text>
<text x="59.28" y="633.70" font-size="13.57" textLength="7.26" lengthAdjust="spacingAndGlyphs">0</text>
<text x="535.82" y="66.75" font-size="13.93" textLength="15.99" lengthAdjust="spacingAndGlyphs">10</text>
<rect x="553.10" y="55.40" width="8.90" height="1" fill="#000"/>
<text x="563.14" y="59.90" font-size="13.86" textLength="8.46" lengthAdjust="spacingAndGlyphs">6</text>
<text x="535.82" y="82.80" font-size="14.00" textLength="15.99" lengthAdjust="spacingAndGlyphs">10</text>
<rect x="553.10" y="71.40" width="8.90" height="1" fill="#000"/>
<text x="563.13" y="75.95" font-size="13.93" textLength="8.56" lengthAdjust="spacingAndGlyphs">7</text>
<text x="535.82" y="101.70" font-size="13.71" textLength="15.99" lengthAdjust="spacingAndGlyphs">10</text>
<rect x="553.10" y="90.50" width="8.90" height="1" fill="#000"/>
<text x="563.23" y="94.85" font-size="13.64" textLength="8.28" lengthAdjust="spacingAndGlyphs">8</text>
<text x="535.82" y="120.90" font-size="14.00" textLength="15.99" lengthAdjust="spacingAndGlyphs">10</text>
<rect x="553.10" y="109.50" width="8.90" height="1" fill="#000"/>
<text x="563.22" y="114.05" font-size="13.93" textLength="8.37" lengthAdjust="spacingAndGlyphs">9</text>
<text x="527.61" y="134.90" font-size="12.86" textLength="16.21" lengthAdjust="spacingAndGlyphs">10</text>
<rect x="545.10" y="124.30" width="8.90" height="1" fill="#000"/>
<text x="555.84" y="128.05" font-size="12.79" textLength="15.65" lengthAdjust="spacingAndGlyphs">10</text>
<text x="535.82" y="162.75" font-size="13.93" textLength="15.99" lengthAdjust="spacingAndGlyphs">10</text>
<rect x="553.10" y="151.40" width="8.90" height="1" fill="#000"/>
<text x="563.14" y="155.90" font-size="13.86" textLength="8.46" lengthAdjust="spacingAndGlyphs">6</text>
<text x="535.82" y="178.80" font-size="14.00" textLength="15.99" lengthAdjust="spacingAndGlyphs">10</text>
<rect x="553.10" y="167.40" width="8.90" height="1" fill="#000"/>
<text x="563.13" y="171.95" font-size="13.93" textLength="8.56" lengthAdjust="spacingAndGlyphs">7</text>
<text x="535.82" y="197.70" font-size="13.71" textLength="15.99" lengthAdjust="spacingAndGlyphs">10</text>
<rect x="553.10" y="186.50" width="8.90" height="1" fill="#000"/>
<text x="563.23" y="190.85" font-size="13.64" textLength="8.28" lengthAdjust="spacingAndGlyphs">8</text>
<text x="535.82" y="216.90" font-size="14.00" textLength="15.99" lengthAdjust="spacingAndGlyphs">10</text>
<rect x="553.10" y="205.50" width="8.90" height="1" fill="#000"/>
<text x="563.22" y="210.05" font-size="13.93" textLength="8.37" lengthAdjust="spacingAndGlyphs">9</text>
<text x="527.61" y="230.90" font-size="12.86" textLength="16.21" lengthAdjust="spacingAndGlyphs">10</text>
<rect x="545.10" y="220.30" width="8.90" height="1" fill="#000"/>
<text x="555.84" y="224.05" font-size="12.79" textLength="15.65" lengthAdjust="spacingAndGlyphs">10</text>
<text x="535.82" y="258.75" font-size="13.79" textLength="15.99" lengthAdjust="spacingAndGlyphs">10</text>
<rect x="553.10" y="247.50" width="8.90" height="1" fill="#000"/>
<text x="563.14" y="251.90" font-size="13.71" textLength="8.46" lengthAdjust="spacingAndGlyphs">6</text>
<text x="535.82" y="281.00" font-size="14.14" textLength="15.99" lengthAdjust="spacingAndGlyphs">10</text>
<rect x="553.10" y="269.50" width="8.90" height="1" fill="#000"/>
<text x="563.13" y="274.15" font-size="14.07" textLength="8.56" lengthAdjust="spacingAndGlyphs">7</text>
<text x="535.82" y="306.80" font-size="13.86" textLength="15.99" lengthAdjust="spacingAndGlyphs">10</text>
<rect x="553.10" y="295.50" width="8.90" height="1" fill="#000"/>
<text x="563.23" y="299.95" font-size="13.79" textLength="8.28" lengthAdjust="spacingAndGlyphs">8</text>
<text x="535.82" y="327.30" font-size="13.43" textLength="15.99" lengthAdjust="spacingAndGlyphs">10</text>
<rect x="553.10" y="316.30" width="8.90" height="1" fill="#000"/>
<text x="563.22" y="320.45" font-size="13.36" textLength="8.37" lengthAdjust="spacingAndGlyphs">9</text>
<text x="535.82" y="373.80" font-size="14.00" textLength="15.99" lengthAdjust="spacingAndGlyphs">10</text>
<rect x="553.10" y="362.40" width="8.90" height="1" fill="#000"/>
<text x="563.10" y="366.95" font-size="13.93" textLength="5.95" lengthAdjust="spacingAndGlyphs">1</text>
<text x="535.82" y="385.80" font-size="14.00" textLength="15.99" lengthAdjust="spacingAndGlyphs">10</text>
<rect x="553.10" y="374.40" width="8.90" height="1" fill="#000"/>
<text x="563.13" y="378.95" font-size="13.93" textLength="8.56" lengthAdjust="spacingAndGlyphs">2</text>
<text x="535.82" y="400.90" font-size="13.71" textLength="15.99" lengthAdjust="spacingAndGlyphs">10</text>
<rect x="553.10" y="389.70" width="8.90" height="1" fill="#000"/>
<text x="563.30" y="394.05" font-size="13.64" textLength="8.28" lengthAdjust="spacingAndGlyphs">3</text>
<text x="535.82" y="416.10" font-size="13.71" textLength="15.99" lengthAdjust="spacingAndGlyphs">10</text>
<rect x="553.10" y="404.90" width="8.90" height="1" fill="#000"/>
<text x="563.55" y="409.25" font-size="13.64" textLength="7.79" lengthAdjust="spacingAndGlyphs">4</text>
<text x="535.82" y="431.70" font-size="13.71" textLength="15.99" lengthAdjust="spacingAndGlyphs">10</text>
<rect x="553.10" y="420.50" width="8.90" height="1" fill="#000"/>
<text x="563.31" y="424.85" font-size="13.64" textLength="8.20" lengthAdjust="spacingAndGlyphs">5</text>
<text x="535.82" y="441.80" font-size="12.29" textLength="15.99" lengthAdjust="spacingAndGlyphs">10</text>
<rect x="553.10" y="431.60" width="8.90" height="1" fill="#000"/>
<text x="563.14" y="434.95" font-size="12.21" textLength="8.46" lengthAdjust="spacingAndGlyphs">6</text>
<text x="535.82" y="469.80" font-size="14.00" textLength="15.99" lengthAdjust="spacingAndGlyphs">10</text>
<rect x="553.10" y="458.40" width="8.90" height="1" fill="#000"/>
<text x="563.10" y="462.95" font-size="13.93" textLength="5.95" lengthAdjust="spacingAndGlyphs">1</text>
<text x="535.82" y="481.80" font-size="14.00" textLength="15.99" lengthAdjust="spacingAndGlyphs">10</text>
<rect x="553.10" y="470.40" width="8.90" height="1" fill="#000"/>
<text x="563.13" y="474.95" font-size="13.93" textLength="8.56" lengthAdjust="spacingAndGlyphs">2</text>
<text x="535.82" y="496.90" font-size="13.71" textLength="15.99" lengthAdjust="spacingAndGlyphs">10</text>
<rect x="553.10" y="485.70" width="8.90" height="1" fill="#000"/>
<text x="563.30" y="490.05" font-size="13.64" textLength="8.28" lengthAdjust="spacingAndGlyphs">3</text>
<text x="535.82" y="512.10" font-size="13.71" textLength="15.99" lengthAdjust="spacingAndGlyphs">10</text>
<rect x="553.10" y="500.90" width="8.90" height="1" fill="#000"/>
<text x="563.55" y="505.25" font-size="13.64" textLength="7.79" lengthAdjust="spacingAndGlyphs">4</text>
<text x="535.82" y="527.70" font-size="13.71" textLength="15.99" lengthAdjust="spacingAndGlyphs">10</text>
<rect x="553.10" y="516.50" width="8.90" height="1" fill="#000"/>
<text x="563.31" y="520.85" font-size="13.64" textLength="8.20" lengthAdjust="spacingAndGlyphs">5</text>
<text x="535.82" y="537.80" font-size="12.29" textLength="15.99" lengthAdjust="spacingAndGlyphs">10</text>
<rect x="553.10" y="527.60" width="8.90" height="1" fill="#000"/>
<text x="563.14" y="530.95" font-size="12.21" textLength="8.46" lengthAdjust="spacingAndGlyphs">6</text>
<text x="535.82" y="565.80" font-size="14.00" textLength="15.99" lengthAdjust="spacingAndGlyphs">10</text>
<rect x="553.10" y="554.40" width="8.90" height="1" fill="#000"/>
<text x="563.10" y="558.95" font-size="13.93" textLength="5.95" lengthAdjust="spacingAndGlyphs">1</text>
<text x="535.82" y="577.80" font-size="14.00" textLength="15.99" lengthAdjust="spacingAndGlyphs">10</text>
<rect x="553.10" y="566.40" width="8.90" height="1" fill="#000"/>
<text x="563.13" y="570.95" font-size="13.93" textLength="8.56" lengthAdjust="spacingAndGlyphs">2</text>
<text x="535.82" y="592.90" font-size="13.71" textLength="15.99" lengthAdjust="spacingAndGlyphs">10</text>
<rect x="553.10" y="581.70" width="8.90" height="1" fill="#000"/>
<text x="563.30" y="586.05" font-size="13.64" textLength="8.28" lengthAdjust="spacingAndGlyphs">3</text>
<text x="535.82" y="608.10" font-size="13.71" textLength="15.99" lengthAdjust="spacingAndGlyphs">10</text>
<rect x="553.10" y="596.90" width="8.90" height="1" fill="#000"/>
<text x="563.55" y="601.25" font-size="13.64" textLength="7.79" lengthAdjust="spacingAndGlyphs">4</text>
<text x="535.82" y="623.70" font-size="13.71" textLength="15.99" lengthAdjust="spacingAndGlyphs">10</text>
<rect x="553.10" y="612.50" width="8.90" height="1" fill="#000"/>
<text x="563.31" y="616.85" font-size="13.64" textLength="8.20" lengthAdjust="spacingAndGlyphs">5</text>
<text x="535.82" y="633.80" font-size="12.29" textLength="15.99" lengthAdjust="spacingAndGlyphs">10</text>
<rect x="553.10" y="623.60" width="8.90" height="1" fill="#000"/>
<text x="563.14" y="626.95" font-size="12.21" textLength="8.46" lengthAdjust="spacingAndGlyphs">6</text>
<text x="14.88" y="654.00" font-size="13.77" textLength="30.98" lengthAdjust="spacingAndGlyphs">SCET</text>
<text x="45.76" y="654.00" font-size="13.57" textLength="40.33" lengthAdjust="spacingAndGlyphs">00:00</text>
<text x="92.80" y="654.00" font-size="13.57" textLength="17.73" lengthAdjust="spacingAndGlyphs">17</text>
<text x="154.10" y="654.00" font-size="13.57" textLength="37.54" lengthAdjust="spacingAndGlyphs">06:00</text>
<text x="199.31" y="654.00" font-size="13.57" textLength="16.15" lengthAdjust="spacingAndGlyphs">17</text>
<text x="259.80" y="654.00" font-size="13.57" textLength="36.83" lengthAdjust="spacingAndGlyphs">12:00</text>
<text x="304.31" y="654.00" font-size="13.57" textLength="16.15" lengthAdjust="spacingAndGlyphs">17</text>
<text x="364.80" y="654.00" font-size="13.57" textLength="36.83" lengthAdjust="spacingAndGlyphs">18:00</text>
<text x="409.31" y="654.00" font-size="13.57" textLength="16.15" lengthAdjust="spacingAndGlyphs">17</text>
<text x="469.41" y="654.00" font-size="13.57" textLength="36.92" lengthAdjust="spacingAndGlyphs">00:00</text>
<text x="514.04" y="654.00" font-size="13.57" textLength="15.65" lengthAdjust="spacingAndGlyphs">18</text>
<text x="71.56" y="672.00" font-size="12.43" textLength="27.88" lengthAdjust="spacingAndGlyphs">8.71</text>
<text x="176.40" y="672.00" font-size="12.43" textLength="29.40" lengthAdjust="spacingAndGlyphs">3.33</text>
<text x="281.45" y="672.00" font-size="12.43" textLength="29.35" lengthAdjust="spacingAndGlyphs">7.59</text>
<text x="386.32" y="672.00" font-size="12.43" textLength="29.56" lengthAdjust="spacingAndGlyphs">8.57</text>
<text x="491.13" y="672.00" font-size="12.43" textLength="29.98" lengthAdjust="spacingAndGlyphs">2.59</text>
<text x="63.53" y="690.00" font-size="12.43" textLength="38.52" lengthAdjust="spacingAndGlyphs">63.40</text>
<rect x="168.75" y="685.15" width="7.50" height="1" fill="#000"/>
<text x="176.95" y="690.00" font-size="12.43" textLength="31.19" lengthAdjust="spacingAndGlyphs">2.19</text>
<text x="274.18" y="690.00" font-size="12.43" textLength="36.08" lengthAdjust="spacingAndGlyphs">76.01</text>
<text x="379.53" y="690.00" font-size="12.43" textLength="37.10" lengthAdjust="spacingAndGlyphs">48.75</text>
<rect x="475.80" y="685.15" width="7.50" height="1" fill="#000"/>
<text x="484.16" y="690.00" font-size="12.43" textLength="39.98" lengthAdjust="spacingAndGlyphs">31.12</text>
<text x="71.59" y="708.00" font-size="12.71" textLength="29.79" lengthAdjust="spacingAndGlyphs">0.98</text>
<text x="176.42" y="708.00" font-size="12.71" textLength="28.43" lengthAdjust="spacingAndGlyphs">0.21</text>
<text x="274.43" y="708.00" font-size="12.71" textLength="35.83" lengthAdjust="spacingAndGlyphs">17.21</text>
<text x="378.95" y="708.00" font-size="12.71" textLength="37.69" lengthAdjust="spacingAndGlyphs">24.00</text>
<text x="483.85" y="708.00" font-size="12.71" textLength="37.33" lengthAdjust="spacingAndGlyphs">23.81</text>
<text x="64.73" y="725.80" font-size="12.57" textLength="37.31" lengthAdjust="spacingAndGlyphs">43.48</text>
<text x="176.40" y="725.80" font-size="12.57" textLength="29.40" lengthAdjust="spacingAndGlyphs">3.39</text>
<text x="266.78" y="725.80" font-size="12.57" textLength="45.75" lengthAdjust="spacingAndGlyphs">129.47</text>
<text x="379.84" y="725.80" font-size="12.57" textLength="35.40" lengthAdjust="spacingAndGlyphs">19.61</text>
<text x="491.29" y="725.80" font-size="12.57" textLength="29.82" lengthAdjust="spacingAndGlyphs">3.63</text>
<text x="33.76" y="672.00" font-size="12.46" textLength="8.50" lengthAdjust="spacingAndGlyphs">R</text>
<text x="41.66" y="675.60" font-size="11.01" textLength="7.04" lengthAdjust="spacingAndGlyphs">E</text>
<text x="32.95" y="690.00" font-size="11.81" textLength="7.29" lengthAdjust="spacingAndGlyphs">λ</text>
<text x="39.44" y="693.50" font-size="9.43" textLength="8.45" lengthAdjust="spacingAndGlyphs" style="stroke:none">m</text>
<text x="23.80" y="708.00" font-size="12.90" textLength="24.06" lengthAdjust="spacingAndGlyphs">MLT</text>
<text x="40.64" y="725.70" font-size="12.61" textLength="7.37" lengthAdjust="spacingAndGlyphs">L</text>
<text x="146.31" y="744.00" font-size="12.86" textLength="85.79" lengthAdjust="spacingAndGlyphs">1996/04/17</text>
<text x="238.88" y="744.00" font-size="12.86" textLength="38.78" lengthAdjust="spacingAndGlyphs">00:00</text>
<text x="302.46" y="744.00" font-size="12.86" textLength="86.23" lengthAdjust="spacingAndGlyphs">1996/04/18</text>
<text x="395.64" y="744.00" font-size="12.86" textLength="38.00" lengthAdjust="spacingAndGlyphs">00:00</text>
<text x="284.30" y="744.00" font-size="12.12" textLength="11.23" lengthAdjust="spacingAndGlyphs">to</text>
<text x="570.13" y="766.10" font-size="8.26" textLength="23.03" lengthAdjust="spacingAndGlyphs" font-weight="bold" style="stroke:none">UIowa</text>
<text x="597.22" y="766.10" font-size="8.14" textLength="39.49" lengthAdjust="spacingAndGlyphs" font-weight="bold" style="stroke:none">19980731</text>
</svg>
</body></html>
